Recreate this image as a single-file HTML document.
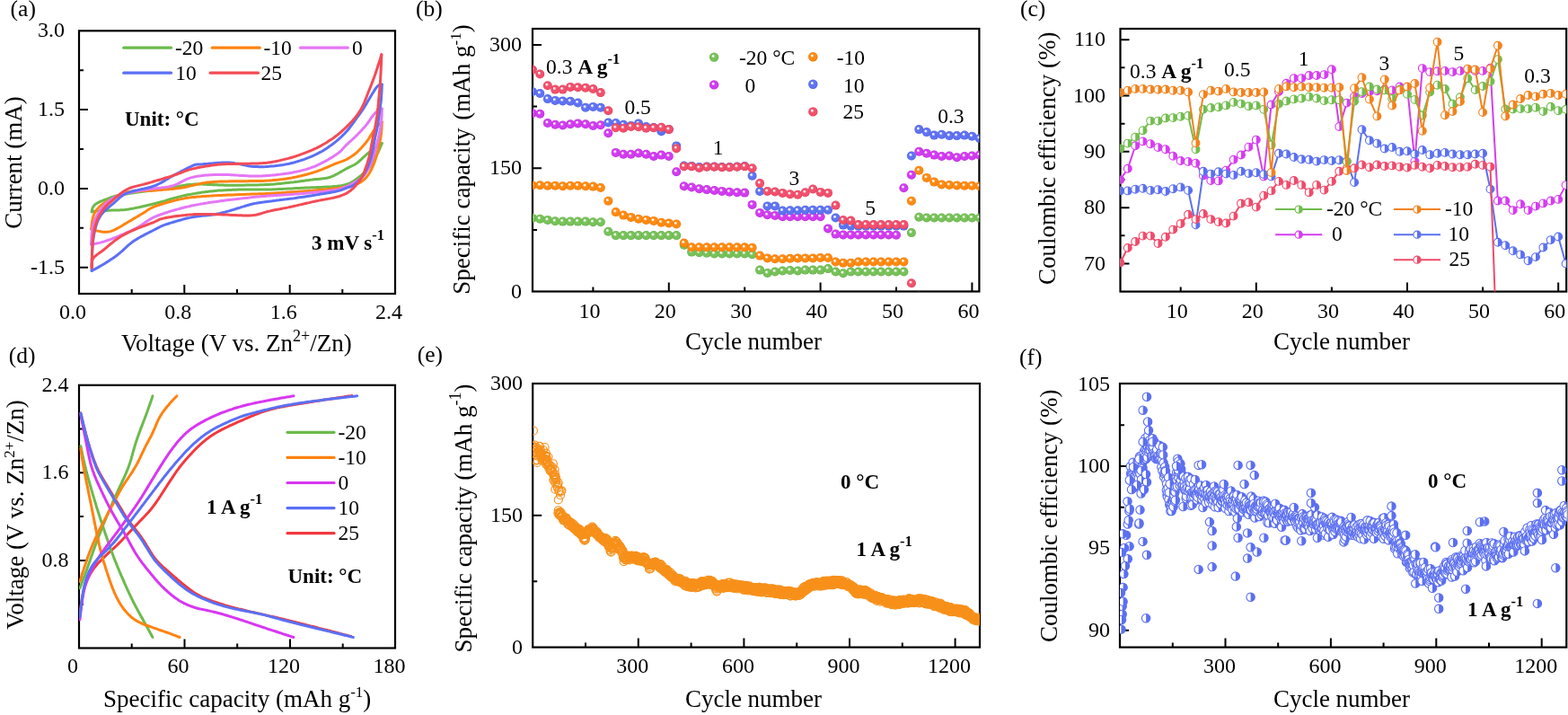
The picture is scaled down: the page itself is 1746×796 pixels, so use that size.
<!DOCTYPE html><html><head><meta charset="utf-8"><title>Figure</title>
<style>html,body{margin:0;padding:0;background:#fff;overflow:hidden}svg{display:block}</style></head><body>
<svg width="1746" height="796" viewBox="0 0 1746 796" style="font-family:'Liberation Serif','Times New Roman',serif">
<rect width="1746" height="796" fill="#fff"/>
<defs>
<radialGradient id="gG" cx="0.5" cy="0.5" r="0.5" fx="0.37" fy="0.34"><stop offset="0" stop-color="#fff"/><stop offset="0.13" stop-color="#fff" stop-opacity="0.97"/><stop offset="0.4" stop-color="#78c25a"/><stop offset="0.82" stop-color="#78c25a"/><stop offset="1" stop-color="#5fa843"/></radialGradient>
<radialGradient id="gO" cx="0.5" cy="0.5" r="0.5" fx="0.37" fy="0.34"><stop offset="0" stop-color="#fff"/><stop offset="0.13" stop-color="#fff" stop-opacity="0.97"/><stop offset="0.4" stop-color="#ff8a12"/><stop offset="0.82" stop-color="#ff8a12"/><stop offset="1" stop-color="#e87400"/></radialGradient>
<radialGradient id="gM" cx="0.5" cy="0.5" r="0.5" fx="0.37" fy="0.34"><stop offset="0" stop-color="#fff"/><stop offset="0.13" stop-color="#fff" stop-opacity="0.97"/><stop offset="0.4" stop-color="#d23cf0"/><stop offset="0.82" stop-color="#d23cf0"/><stop offset="1" stop-color="#b52ad4"/></radialGradient>
<radialGradient id="gB" cx="0.5" cy="0.5" r="0.5" fx="0.37" fy="0.34"><stop offset="0" stop-color="#fff"/><stop offset="0.13" stop-color="#fff" stop-opacity="0.97"/><stop offset="0.4" stop-color="#5f73f2"/><stop offset="0.82" stop-color="#5f73f2"/><stop offset="1" stop-color="#4a5ee0"/></radialGradient>
<radialGradient id="gR" cx="0.5" cy="0.5" r="0.5" fx="0.37" fy="0.34"><stop offset="0" stop-color="#fff"/><stop offset="0.13" stop-color="#fff" stop-opacity="0.97"/><stop offset="0.4" stop-color="#f2506c"/><stop offset="0.82" stop-color="#f2506c"/><stop offset="1" stop-color="#dc3c58"/></radialGradient>
<clipPath id="cb"><rect x="593" y="32" width="497.4" height="292.5"/></clipPath>
<clipPath id="cc"><rect x="1247.5" y="32" width="496.7" height="292.6"/></clipPath>
<clipPath id="ce"><rect x="593.2" y="427" width="497.8" height="293.6"/></clipPath>
<clipPath id="cf"><rect x="1247" y="427" width="497.3" height="293.6"/></clipPath>
<clipPath id="ca"><rect x="88" y="34.3" width="352" height="292.7"/></clipPath>
<clipPath id="cd"><rect x="88" y="428.8" width="352" height="292.7"/></clipPath>
</defs>
<text x="11.6" y="18" font-size="25.5" text-anchor="start">(a)</text>
<text x="463" y="17.5" font-size="25.5" text-anchor="start">(b)</text>
<text x="1136" y="17.5" font-size="25.5" text-anchor="start">(c)</text>
<text x="9.8" y="404" font-size="25.5" text-anchor="start">(d)</text>
<text x="464.8" y="403" font-size="25.5" text-anchor="start">(e)</text>
<text x="1135" y="405.5" font-size="25.5" text-anchor="start">(f)</text>
<rect x="88" y="34.3" width="352" height="292.7" fill="none" stroke="#000" stroke-width="2.2"/>
<path d="M205.3 327V317M322.7 327V317" stroke="#000" stroke-width="2" fill="none"/>
<path d="M146.7 327V322M264 327V322M381.3 327V322" stroke="#000" stroke-width="2" fill="none"/>
<path d="M88 122.1H98M88 209.9H98M88 297.7H98" stroke="#000" stroke-width="2" fill="none"/>
<path d="M88 78.2H93M88 166H93M88 253.8H93" stroke="#000" stroke-width="2" fill="none"/>
<text x="81" y="354.5" font-size="24" text-anchor="middle">0.0</text>
<text x="198.3" y="354.5" font-size="24" text-anchor="middle">0.8</text>
<text x="315.7" y="354.5" font-size="24" text-anchor="middle">1.6</text>
<text x="433" y="354.5" font-size="24" text-anchor="middle">2.4</text>
<text x="72" y="41.3" font-size="24" text-anchor="end">3.0</text>
<text x="72" y="129.1" font-size="24" text-anchor="end">1.5</text>
<text x="72" y="216.9" font-size="24" text-anchor="end">0.0</text>
<text x="72" y="304.7" font-size="24" text-anchor="end">-1.5</text>
<text x="135" y="391.3" font-size="27" text-anchor="start">Voltage (V vs. Zn<tspan font-size="18" dy="-11">2+</tspan><tspan dy="11">/Zn)</tspan></text>
<text transform="translate(24 181) rotate(-90)" font-size="27" text-anchor="middle">Current (mA)</text>
<rect x="593" y="32" width="497.4" height="292.5" fill="none" stroke="#000" stroke-width="2.2"/>
<path d="M744.8 324.5V314.5M913.6 324.5V314.5M1082.4 324.5V314.5" stroke="#000" stroke-width="2" fill="none"/>
<path d="M660.4 324.5V319.5M829.2 324.5V319.5M998 324.5V319.5" stroke="#000" stroke-width="2" fill="none"/>
<path d="M593 187.2H603M593 50H603" stroke="#000" stroke-width="2" fill="none"/>
<path d="M593 255.9H598M593 118.6H598" stroke="#000" stroke-width="2" fill="none"/>
<text x="656.4" y="353.5" font-size="24" text-anchor="middle">10</text>
<text x="740.8" y="353.5" font-size="24" text-anchor="middle">20</text>
<text x="825.2" y="353.5" font-size="24" text-anchor="middle">30</text>
<text x="909.6" y="353.5" font-size="24" text-anchor="middle">40</text>
<text x="994" y="353.5" font-size="24" text-anchor="middle">50</text>
<text x="1078.4" y="353.5" font-size="24" text-anchor="middle">60</text>
<text x="581" y="331.5" font-size="24" text-anchor="end">0</text>
<text x="581" y="194.2" font-size="24" text-anchor="end">150</text>
<text x="581" y="57" font-size="24" text-anchor="end">300</text>
<text x="839" y="389" font-size="27" text-anchor="middle">Cycle number</text>
<text transform="translate(522.5 177.5) rotate(-90)" font-size="27" text-anchor="middle">Specific capacity <tspan dx="2">(</tspan>mAh g<tspan font-size="17" dy="-10">-1</tspan><tspan dy="10">)</tspan></text>
<rect x="1247.5" y="32" width="496.7" height="292.6" fill="none" stroke="#000" stroke-width="2.2"/>
<path d="M1398.8 324.6V314.6M1567 324.6V314.6M1735.2 324.6V314.6" stroke="#000" stroke-width="2" fill="none"/>
<path d="M1314.7 324.6V319.6M1482.9 324.6V319.6M1651.1 324.6V319.6" stroke="#000" stroke-width="2" fill="none"/>
<path d="M1247.5 44.2H1257.5M1247.5 106.5H1257.5M1247.5 168.8H1257.5M1247.5 231.2H1257.5M1247.5 293.5H1257.5" stroke="#000" stroke-width="2" fill="none"/>
<path d="M1247.5 75.3H1252.5M1247.5 137.7H1252.5M1247.5 200H1252.5M1247.5 262.3H1252.5" stroke="#000" stroke-width="2" fill="none"/>
<text x="1310.7" y="353.5" font-size="24" text-anchor="middle">10</text>
<text x="1394.8" y="353.5" font-size="24" text-anchor="middle">20</text>
<text x="1478.9" y="353.5" font-size="24" text-anchor="middle">30</text>
<text x="1563" y="353.5" font-size="24" text-anchor="middle">40</text>
<text x="1647.1" y="353.5" font-size="24" text-anchor="middle">50</text>
<text x="1731.2" y="353.5" font-size="24" text-anchor="middle">60</text>
<text x="1231" y="300.5" font-size="24" text-anchor="end">70</text>
<text x="1231" y="238.2" font-size="24" text-anchor="end">80</text>
<text x="1231" y="175.8" font-size="24" text-anchor="end">90</text>
<text x="1231" y="113.5" font-size="24" text-anchor="end">100</text>
<text x="1231" y="51.2" font-size="24" text-anchor="end">110</text>
<text x="1494" y="389" font-size="27" text-anchor="middle">Cycle number</text>
<text transform="translate(1175 176.3) rotate(-90)" font-size="27" text-anchor="middle">Coulombic efficiency (%)</text>
<rect x="88" y="428.8" width="352" height="292.7" fill="none" stroke="#000" stroke-width="2.2"/>
<path d="M205.5 721.5V711.5M323 721.5V711.5" stroke="#000" stroke-width="2" fill="none"/>
<path d="M146.7 721.5V716.5M264.2 721.5V716.5M381.7 721.5V716.5" stroke="#000" stroke-width="2" fill="none"/>
<path d="M88 526.3H98M88 623.9H98" stroke="#000" stroke-width="2" fill="none"/>
<path d="M88 477.5H93M88 575.1H93M88 672.7H93" stroke="#000" stroke-width="2" fill="none"/>
<text x="81" y="749" font-size="24" text-anchor="middle">0</text>
<text x="198.5" y="749" font-size="24" text-anchor="middle">60</text>
<text x="316" y="749" font-size="24" text-anchor="middle">120</text>
<text x="433.4" y="749" font-size="24" text-anchor="middle">180</text>
<text x="76.5" y="435.7" font-size="24" text-anchor="end">2.4</text>
<text x="76.5" y="533.3" font-size="24" text-anchor="end">1.6</text>
<text x="76.5" y="630.9" font-size="24" text-anchor="end">0.8</text>
<text x="115" y="787" font-size="27" text-anchor="start">Specific capacity (mAh g<tspan font-size="17" dy="-11">-1</tspan><tspan dy="11">)</tspan></text>
<text transform="translate(26 573) rotate(-90)" font-size="27" text-anchor="middle">Voltage (V vs. Zn<tspan font-size="17" dy="-10">2+</tspan><tspan dy="10">/Zn)</tspan></text>
<rect x="593.2" y="427" width="497.8" height="293.6" fill="none" stroke="#000" stroke-width="2.2"/>
<path d="M710.8 720.6V710.6M828.4 720.6V710.6M946 720.6V710.6M1063.6 720.6V710.6" stroke="#000" stroke-width="2" fill="none"/>
<path d="M652 720.6V715.6M769.6 720.6V715.6M887.2 720.6V715.6M1004.8 720.6V715.6" stroke="#000" stroke-width="2" fill="none"/>
<path d="M593.2 573.8H603.2" stroke="#000" stroke-width="2" fill="none"/>
<path d="M593.2 647.2H598.2M593.2 500.4H598.2" stroke="#000" stroke-width="2" fill="none"/>
<text x="704.3" y="749" font-size="24" text-anchor="middle">300</text>
<text x="821.9" y="749" font-size="24" text-anchor="middle">600</text>
<text x="939.5" y="749" font-size="24" text-anchor="middle">900</text>
<text x="1057.1" y="749" font-size="24" text-anchor="middle">1200</text>
<text x="582" y="727.6" font-size="24" text-anchor="end">0</text>
<text x="582" y="580.8" font-size="24" text-anchor="end">150</text>
<text x="582" y="434" font-size="24" text-anchor="end">300</text>
<text x="839" y="787" font-size="27" text-anchor="middle">Cycle number</text>
<text transform="translate(525.3 577) rotate(-90)" font-size="27" text-anchor="middle">Specific capacity (mAh g<tspan font-size="18" dy="-12">-1</tspan><tspan dy="12">)</tspan></text>
<rect x="1247" y="427" width="497.3" height="293.6" fill="none" stroke="#000" stroke-width="2.2"/>
<path d="M1364.5 720.6V710.6M1481.9 720.6V710.6M1599.3 720.6V710.6M1716.7 720.6V710.6" stroke="#000" stroke-width="2" fill="none"/>
<path d="M1305.8 720.6V715.6M1423.2 720.6V715.6M1540.6 720.6V715.6M1658 720.6V715.6" stroke="#000" stroke-width="2" fill="none"/>
<path d="M1247 519H1257M1247 610.4H1257M1247 701.8H1257" stroke="#000" stroke-width="2" fill="none"/>
<path d="M1247 473.3H1252M1247 564.7H1252M1247 656.1H1252" stroke="#000" stroke-width="2" fill="none"/>
<text x="1358" y="749" font-size="24" text-anchor="middle">300</text>
<text x="1475.4" y="749" font-size="24" text-anchor="middle">600</text>
<text x="1592.8" y="749" font-size="24" text-anchor="middle">900</text>
<text x="1710.2" y="749" font-size="24" text-anchor="middle">1200</text>
<text x="1236" y="708.8" font-size="24" text-anchor="end">90</text>
<text x="1236" y="617.4" font-size="24" text-anchor="end">95</text>
<text x="1236" y="526" font-size="24" text-anchor="end">100</text>
<text x="1236" y="434.6" font-size="24" text-anchor="end">105</text>
<text x="1494" y="787" font-size="27" text-anchor="middle">Cycle number</text>
<text transform="translate(1176.5 574.3) rotate(-90)" font-size="27" text-anchor="middle">Coulombic efficiency (%)</text>
<g clip-path="url(#ca)">
<path d="M102.2 235.8 L102.4 233.8 L103.1 231.6 L104.1 229.8 L105.4 228.2 L107 226.9 L108.8 225.8 L110.6 224.9 L112.5 224 L114.4 223.3 L116.4 222.5 L118.3 221.8 L120.2 221.1 L121.9 220.4 L123.6 219.7 L125.5 219.1 L127.4 218.5 L129.4 218 L131.2 217.6 L133 217.3 L134.8 217 L136.7 216.6 L138.7 216.3 L140.8 215.9 L143 215.6 L145.3 215.2 L147.5 214.9 L149.7 214.5 L151.7 214.3 L153.6 214 L155.4 213.7 L157.3 213.5 L159.2 213.2 L161.2 213 L163.2 212.7 L165.3 212.5 L167.3 212.2 L169.4 211.9 L171.5 211.7 L173.6 211.4 L175.8 211.1 L177.9 210.8 L179.9 210.5 L181.9 210.2 L184 209.9 L186 209.5 L188 209.2 L190.1 208.8 L192.2 208.5 L194.3 208.1 L196.4 207.7 L198.5 207.4 L200.6 207 L202.6 206.7 L204.7 206.4 L206.7 206.1 L208.6 205.8 L210.6 205.6 L212.6 205.4 L214.6 205.2 L216.8 205.1 L219 205.1 L221.2 205.1 L223.3 205.1 L225.4 205.1 L227.5 205.2 L229.5 205.3 L231.5 205.4 L233.5 205.5 L235.4 205.6 L237.3 205.7 L239.2 205.8 L241.1 205.8 L243.1 205.9 L244.9 206 L246.7 206 L248.4 206.1 L250.1 206.2 L251.9 206.2 L253.9 206.3 L256.1 206.3 L258.4 206.3 L260.5 206.3 L262.4 206.3 L264.2 206.3 L266.1 206.2 L268 206.2 L270 206.2 L272.1 206.2 L274.2 206.1 L276.4 206.1 L278.6 206.1 L280.8 206 L283 206 L285.2 205.9 L287.4 205.9 L289.5 205.8 L291.6 205.7 L293.6 205.7 L295.5 205.6 L297.4 205.5 L299.3 205.4 L301.4 205.3 L303.6 205.2 L305.9 205 L308 204.8 L310.1 204.6 L312 204.4 L313.9 204.2 L315.8 204 L317.6 203.8 L319.4 203.6 L321.3 203.4 L323.2 203.1 L325.1 202.9 L327.2 202.7 L329.2 202.4 L331.3 202.2 L333.4 201.9 L335.5 201.6 L337.6 201.4 L339.7 201.1 L341.8 200.8 L343.8 200.6 L345.7 200.3 L347.6 200.1 L349.6 199.8 L351.6 199.6 L353.8 199.4 L355.9 199.2 L357.9 199 L359.9 198.8 L361.8 198.6 L363.8 198.2 L365.8 197.8 L367.8 197.2 L369.7 196.4 L371.6 195.6 L373.5 194.6 L375.5 193.6 L377.5 192.5 L379.4 191.4 L381.4 190.3 L383.2 189.2 L384.9 188.2 L386.6 187.3 L388.5 186.3 L390.5 185.4 L392.4 184.5 L394.2 183.6 L395.8 182.7 L397.5 181.6 L399 180.3 L400.5 179 L402.1 177.6 L403.6 176.1 L405.2 174.7 L406.7 173.2 L408.3 171.9 L410 170.5 L411.7 169.1 L413.5 167.8 L415.2 166.5 L416.9 165.3 L418.6 164.1 L420.5 162.8 L422.3 161.5 L424 160.4 L425.3 159.5" fill="none" stroke="#6cba4c" stroke-width="3" stroke-linejoin="round" stroke-linecap="round"/>
<path d="M425.3 159.5 L424.7 160.9 L424 162.7 L423.1 164.8 L422.2 166.9 L421.3 169 L420.3 170.9 L419.4 172.8 L418.4 174.7 L417.4 176.5 L416.3 178.3 L415.3 180.1 L414.2 181.8 L413.1 183.6 L412 185.2 L410.8 186.8 L409.5 188.4 L408.2 189.8 L406.8 191.2 L405.3 192.5 L403.7 193.8 L402.2 195.1 L400.6 196.4 L399 197.6 L397.4 198.9 L395.9 200.1 L394.2 201.3 L392.4 202.4 L390.7 203.3 L389 204.1 L387.4 204.8 L385.8 205.3 L384.1 205.8 L382 206.3 L379.7 206.7 L377.3 207 L375 207.3 L373.1 207.5 L371.4 207.6 L369.6 207.8 L367.7 207.9 L365.8 208 L363.8 208.1 L361.7 208.2 L359.6 208.3 L357.4 208.4 L355.2 208.5 L353 208.6 L350.7 208.7 L348.5 208.7 L346.3 208.8 L344.1 208.9 L341.9 209 L339.8 209.1 L337.7 209.2 L335.6 209.3 L333.5 209.4 L331.4 209.5 L329.2 209.6 L327 209.7 L324.8 209.9 L322.7 210 L320.5 210.1 L318.3 210.2 L316.2 210.3 L314 210.4 L312 210.5 L309.9 210.6 L308 210.7 L306.1 210.8 L304.3 210.8 L302.5 210.9 L300.6 211 L298.4 211 L296.2 211.1 L293.9 211.1 L291.8 211.1 L289.9 211 L288.1 211 L286.3 211 L284.6 210.9 L282.8 210.9 L280.9 210.9 L279 210.9 L277.1 210.9 L275.2 210.9 L273.2 211 L271.3 211 L269.4 211 L267.4 211.1 L265.4 211.1 L263.3 211.2 L261.2 211.3 L259.2 211.3 L257.3 211.4 L255.4 211.5 L253.5 211.6 L251.6 211.7 L249.7 211.8 L247.7 211.9 L245.6 212 L243.6 212.1 L241.5 212.3 L239.4 212.5 L237.3 212.7 L235.2 212.9 L233.1 213.1 L231.2 213.4 L229.3 213.6 L227.3 213.9 L225.4 214.1 L223.4 214.4 L221.4 214.7 L219.4 215 L217.3 215.4 L215.3 215.7 L213.3 216.1 L211.2 216.5 L209.2 216.8 L207.1 217.3 L205.1 217.7 L203.1 218.1 L201.2 218.6 L199.2 219.1 L197.3 219.6 L195.3 220.1 L193.3 220.6 L191.4 221.2 L189.4 221.8 L187.4 222.4 L185.5 223 L183.5 223.6 L181.6 224.1 L179.7 224.7 L177.7 225.3 L175.8 225.8 L173.9 226.3 L171.9 226.8 L169.9 227.3 L167.8 227.8 L165.6 228.3 L163.5 228.8 L161.3 229.3 L159.2 229.8 L157.1 230.3 L155 230.7 L152.9 231.1 L150.9 231.5 L149 231.9 L147.1 232.2 L145.3 232.6 L143.4 232.9 L141.3 233.2 L139 233.5 L136.7 233.7 L134.6 233.8 L132.7 233.9 L130.8 234 L128.8 234 L126.8 234.1 L124.7 234.1 L122.5 234.2 L120.3 234.3 L118 234.4 L115.8 234.4 L113.6 234.5 L111.6 234.6 L109.5 234.7 L107.2 235 L104.9 235.3 L102.9 235.7 L102.2 235.8" fill="none" stroke="#6cba4c" stroke-width="3" stroke-linejoin="round" stroke-linecap="round"/>
<path d="M101.6 255 L101.8 253.5 L102 251.4 L102.3 249.2 L102.6 246.9 L103 244.7 L103.4 242.5 L104 240.4 L104.7 238.5 L105.6 236.6 L106.7 234.9 L107.9 233.2 L109.3 231.7 L110.7 230.2 L112.3 228.8 L113.8 227.5 L115.4 226.4 L117 225.4 L118.6 224.6 L120.4 223.7 L122.3 222.9 L124.1 222 L125.8 221.1 L127.3 220.2 L128.9 219.2 L130.7 218.2 L132.5 217.3 L134.5 216.3 L136.6 215.5 L138.7 214.7 L140.8 214.2 L142.8 213.8 L144.6 213.5 L146.4 213.3 L148.3 213.1 L150.2 212.9 L152.3 212.8 L154.3 212.7 L156.4 212.7 L158.5 212.6 L160.7 212.5 L162.8 212.5 L164.9 212.4 L167 212.3 L169.1 212.2 L171.2 212.1 L173.2 211.9 L175.2 211.8 L177.2 211.6 L179.2 211.4 L181.2 211.3 L183.2 211.1 L185.2 210.9 L187.2 210.8 L189.2 210.6 L191.1 210.4 L193.1 210.2 L195.1 209.9 L197.1 209.7 L199.1 209.4 L201.1 209.2 L203.1 208.9 L205 208.6 L207 208.2 L208.8 207.8 L210.7 207.4 L212.5 206.9 L214.4 206.5 L216.2 206 L218.1 205.6 L220 205.1 L222 204.7 L224 204.2 L226.1 203.8 L228.2 203.5 L230.4 203.1 L232.6 202.9 L234.7 202.7 L236.6 202.5 L238.5 202.4 L240.5 202.3 L242.5 202.2 L244.6 202.1 L246.7 202 L248.8 202 L251 201.9 L253.2 201.9 L255.5 201.8 L257.7 201.8 L259.9 201.8 L262.1 201.8 L264.2 201.8 L266.4 201.7 L268.4 201.7 L270.4 201.7 L272.4 201.7 L274.2 201.7 L276 201.7 L277.7 201.6 L279.6 201.6 L281.8 201.6 L284.2 201.5 L286.5 201.5 L288.6 201.5 L290.4 201.4 L292.1 201.4 L293.7 201.4 L295.3 201.3 L297.1 201.2 L299 201.1 L300.9 200.9 L302.8 200.8 L304.7 200.6 L306.7 200.4 L308.7 200.2 L310.7 200 L312.7 199.7 L314.8 199.5 L316.9 199.2 L319 198.9 L321 198.6 L323.1 198.2 L325.1 197.9 L327.1 197.5 L329.1 197.1 L331.1 196.7 L333.2 196.2 L335.2 195.8 L337.2 195.3 L339.2 194.8 L341.2 194.3 L343.2 193.7 L345.3 193.1 L347.3 192.5 L349.3 191.9 L351.2 191.3 L353.2 190.6 L355.2 189.8 L357.2 189.1 L359.2 188.3 L361.3 187.4 L363.3 186.6 L365.3 185.8 L367.2 184.9 L369 184.2 L370.8 183.4 L372.5 182.7 L374.1 182 L376 181.3 L378 180.6 L380 179.9 L381.7 179.3 L383.3 178.7 L384.9 178 L386.6 177.1 L388.3 176.2 L390 175.1 L391.7 174 L393.4 172.8 L395.1 171.5 L396.8 170.1 L398.3 168.8 L399.8 167.3 L401.3 165.8 L402.7 164.3 L404.2 162.6 L405.6 161 L407 159.4 L408.3 157.7 L409.5 156 L410.7 154.3 L411.9 152.4 L413 150.6 L414.1 148.8 L415.1 147.1 L416.2 145.4 L417.5 143.7 L418.9 142 L420.5 140.4 L422.1 138.8 L423.6 137.4 L424.8 136.2 L425.3 135.8" fill="none" stroke="#ff8410" stroke-width="3" stroke-linejoin="round" stroke-linecap="round"/>
<path d="M425.3 135.8 L425.2 137.1 L425.2 138.8 L425.1 140.8 L425 142.9 L424.8 145.1 L424.6 147.4 L424.4 149.6 L424.1 151.6 L423.8 153.6 L423.4 155.6 L423 157.6 L422.6 159.7 L422.2 161.7 L421.7 163.8 L421.3 165.8 L420.8 167.8 L420.3 169.8 L419.7 171.8 L419.2 173.8 L418.6 175.7 L418 177.6 L417.4 179.5 L416.7 181.4 L415.9 183.3 L415.1 185.3 L414.1 187.3 L413.2 189.3 L412.1 191.2 L411.1 193.1 L409.9 194.8 L408.6 196.5 L407.2 198.2 L405.5 199.8 L403.8 201.2 L402.1 202.4 L400.4 203.5 L398.7 204.4 L396.8 205.1 L394.8 205.6 L393 206.1 L391.3 206.5 L389.7 206.9 L388 207.3 L386.2 207.7 L384.1 208.1 L381.9 208.5 L379.5 208.9 L377.1 209.3 L374.9 209.5 L373 209.8 L371.2 210 L369.4 210.2 L367.5 210.4 L365.5 210.6 L363.5 210.8 L361.4 210.9 L359.3 211.1 L357.2 211.3 L355 211.5 L352.8 211.7 L350.6 211.9 L348.4 212.1 L346.2 212.2 L344 212.4 L341.9 212.6 L339.8 212.7 L337.7 212.9 L335.6 213.1 L333.5 213.2 L331.4 213.4 L329.2 213.5 L327 213.7 L324.8 213.8 L322.7 214 L320.5 214.1 L318.3 214.3 L316.2 214.4 L314 214.6 L312 214.7 L309.9 214.8 L308 214.9 L306.1 215 L304.3 215.2 L302.5 215.3 L300.6 215.4 L298.6 215.5 L296.5 215.6 L294.6 215.7 L292.8 215.7 L291.3 215.8 L289.7 215.8 L288.1 215.8 L286.2 215.9 L284 216 L281.7 216 L279.6 216.1 L277.7 216.2 L276 216.3 L274.2 216.3 L272.4 216.4 L270.4 216.5 L268.4 216.5 L266.4 216.6 L264.2 216.7 L262.1 216.8 L259.9 216.9 L257.7 217 L255.5 217 L253.2 217.1 L251 217.2 L248.8 217.3 L246.7 217.4 L244.6 217.5 L242.5 217.6 L240.5 217.7 L238.5 217.8 L236.6 217.9 L234.7 218.1 L232.6 218.2 L230.4 218.3 L228.2 218.5 L226.1 218.6 L224 218.8 L222 218.9 L220 219 L218.1 219.2 L216.2 219.4 L214.4 219.5 L212.5 219.8 L210.7 220 L208.8 220.2 L207 220.5 L205 220.9 L203.1 221.2 L201.1 221.6 L199.1 222.1 L197 222.5 L194.9 223.1 L192.8 223.6 L190.6 224.2 L188.5 224.8 L186.4 225.4 L184.3 226 L182.3 226.6 L180.4 227.2 L178.5 227.8 L176.7 228.4 L175 228.9 L173.3 229.5 L171.5 230.2 L169.5 231.1 L167.6 232 L165.9 233 L164.4 233.9 L163 234.9 L161.5 235.9 L159.9 236.9 L158.2 238 L156.4 239 L154.6 240.1 L152.8 241.2 L150.9 242.3 L149 243.4 L147.2 244.5 L145.4 245.6 L143.6 246.6 L141.7 247.7 L139.8 248.9 L137.9 250 L136.1 251.2 L134.3 252.2 L132.5 253.2 L130.8 254.2 L129 255.1 L127.1 256.1 L125.1 256.9 L123.2 257.6 L121.2 258.1 L119.2 258.3 L117.1 258.3 L115 258.2 L112.9 257.9 L110.8 257.6 L108.7 257.1 L106.5 256.6 L104.3 255.9 L102.3 255.2 L101.6 255" fill="none" stroke="#ff8410" stroke-width="3" stroke-linejoin="round" stroke-linecap="round"/>
<path d="M101.6 272 L101.6 270.5 L101.7 268.5 L101.8 266.4 L101.9 264.1 L102 261.8 L102.2 259.5 L102.5 257.4 L102.8 255.3 L103.2 253.2 L103.6 251.2 L104.2 249.2 L104.8 247.2 L105.5 245.3 L106.3 243.4 L107.2 241.6 L108.1 239.8 L109.1 238 L110.2 236.2 L111.4 234.4 L112.7 232.6 L114 231 L115.4 229.3 L116.8 227.7 L118.4 226.2 L120 224.8 L121.5 223.5 L123.1 222.4 L124.7 221.3 L126.6 220.2 L128.6 219.2 L130.6 218.3 L132.5 217.6 L134.3 217 L136.1 216.5 L138.1 216 L140.1 215.5 L142.2 215 L144.3 214.5 L146.4 214.1 L148.4 213.6 L150.5 213.2 L152.5 212.8 L154.6 212.4 L156.7 212.1 L158.7 211.8 L160.8 211.5 L162.9 211.2 L165 210.9 L167 210.6 L169.1 210.3 L171.2 210.1 L173.2 209.8 L175.3 209.5 L177.4 209.3 L179.4 209.1 L181.5 208.8 L183.5 208.6 L185.6 208.3 L187.7 208 L189.7 207.5 L191.7 207 L193.6 206.4 L195.5 205.7 L197.3 204.9 L199 204 L200.7 203.1 L202.5 202.2 L204.3 201.2 L206.1 200.3 L208.1 199.4 L210.1 198.6 L212.2 197.9 L214.1 197.4 L216 197 L217.8 196.6 L219.6 196.3 L221.5 196 L223.4 195.8 L225.4 195.5 L227.4 195.3 L229.5 195.1 L231.5 195 L233.6 194.8 L235.7 194.7 L237.9 194.6 L240 194.5 L242.1 194.5 L244.2 194.4 L246.3 194.4 L248.3 194.4 L250.4 194.4 L252.5 194.5 L254.6 194.6 L256.8 194.7 L259 194.8 L261.2 194.9 L263.4 195.1 L265.5 195.2 L267.7 195.4 L269.7 195.5 L271.8 195.6 L273.7 195.7 L275.6 195.8 L277.5 195.9 L279.4 196 L281.5 196 L283.7 196 L285.8 196 L287.9 196 L289.7 196 L291.5 195.9 L293.3 195.8 L295.1 195.7 L297 195.5 L298.9 195.4 L300.9 195.2 L302.8 195.1 L304.7 194.9 L306.7 194.7 L308.7 194.5 L310.7 194.3 L312.7 194.1 L314.8 193.8 L316.9 193.5 L319 193.2 L321 192.9 L323.1 192.6 L325.1 192.2 L327 191.8 L329 191.4 L330.9 191 L332.9 190.6 L334.8 190.1 L336.7 189.6 L338.7 189.1 L340.6 188.6 L342.5 188 L344.5 187.4 L346.4 186.7 L348.4 186 L350.3 185.3 L352.2 184.5 L354.1 183.6 L356 182.7 L357.9 181.7 L359.9 180.7 L361.9 179.6 L363.8 178.6 L365.7 177.5 L367.5 176.4 L369.3 175.4 L371 174.3 L372.6 173.3 L374.1 172.3 L375.8 171.1 L377.5 169.8 L379.2 168.4 L380.6 166.9 L381.8 165.6 L383 164.2 L384.3 162.8 L385.7 161.4 L387.1 160.1 L388.6 158.7 L390.1 157.4 L391.6 156 L393.1 154.6 L394.6 153.2 L396.1 151.7 L397.6 150.3 L399.1 148.8 L400.5 147.2 L402 145.7 L403.5 144.1 L404.9 142.5 L406.3 141 L407.6 139.4 L408.9 137.8 L410.2 136 L411.5 134.2 L412.7 132.4 L413.8 130.6 L415 129 L416.2 127.4 L417.6 125.9 L419.3 124.5 L421.2 123.3 L423.1 122.2 L424.7 121.4 L425.3 121.1" fill="none" stroke="#e676f6" stroke-width="3" stroke-linejoin="round" stroke-linecap="round"/>
<path d="M425.3 121.1 L425.2 122.5 L425.2 124.3 L425.1 126.3 L425.1 128.5 L424.9 130.8 L424.8 133.2 L424.6 135.5 L424.4 137.7 L424.1 139.8 L423.8 141.8 L423.4 143.8 L423 145.8 L422.6 147.8 L422.2 149.8 L421.7 151.8 L421.3 153.8 L420.8 155.8 L420.3 157.8 L419.8 159.9 L419.3 161.9 L418.8 163.9 L418.3 166 L417.7 168 L417.2 169.9 L416.6 171.9 L415.9 173.8 L415.3 175.8 L414.5 177.9 L413.8 179.9 L413 181.8 L412.2 183.7 L411.4 185.5 L410.5 187.2 L409.5 189 L408.5 190.7 L407.4 192.4 L406.3 193.9 L405 195.4 L403.6 196.8 L402.1 198.2 L400.6 199.4 L398.9 200.6 L397.1 201.7 L395.3 202.8 L393.4 203.9 L391.6 204.9 L389.8 205.8 L388.2 206.6 L386.7 207.3 L385.2 208 L383.5 208.7 L381.6 209.4 L379.4 210 L377.1 210.6 L375 211 L373.1 211.4 L371.4 211.7 L369.6 211.9 L367.7 212.2 L365.8 212.4 L363.8 212.7 L361.7 213 L359.6 213.2 L357.4 213.4 L355.2 213.7 L353 213.9 L350.7 214.1 L348.5 214.4 L346.3 214.6 L344.1 214.8 L341.9 215 L339.8 215.2 L337.7 215.4 L335.6 215.6 L333.5 215.8 L331.4 215.9 L329.2 216.1 L327 216.3 L324.8 216.4 L322.7 216.6 L320.5 216.7 L318.3 216.8 L316.2 217 L314 217.1 L312 217.2 L309.9 217.3 L308 217.5 L306.1 217.6 L304.3 217.7 L302.5 217.8 L300.6 218 L298.6 218.1 L296.5 218.2 L294.6 218.4 L292.8 218.5 L291.3 218.6 L289.7 218.7 L288.1 218.9 L286.2 219 L284 219.3 L281.7 219.5 L279.6 219.7 L277.7 220 L276 220.2 L274.2 220.4 L272.4 220.6 L270.4 220.8 L268.4 221 L266.4 221.3 L264.2 221.5 L262.1 221.8 L259.9 222 L257.7 222.3 L255.5 222.5 L253.2 222.8 L251 223.1 L248.8 223.4 L246.7 223.6 L244.6 223.9 L242.5 224.2 L240.5 224.5 L238.5 224.7 L236.6 225 L234.7 225.3 L232.6 225.6 L230.4 226 L228.2 226.3 L226.1 226.7 L224 227 L222 227.4 L220 227.7 L218.1 228.1 L216.2 228.5 L214.4 228.8 L212.5 229.2 L210.7 229.7 L208.8 230.1 L207 230.5 L205 231 L203.1 231.5 L201.1 232 L199.1 232.6 L197.1 233.1 L195 233.7 L193 234.3 L190.9 234.9 L188.8 235.5 L186.8 236.2 L184.7 236.8 L182.7 237.5 L180.8 238.2 L178.9 238.8 L177.1 239.5 L175.3 240.2 L173.6 240.9 L171.7 241.7 L169.8 242.6 L167.9 243.6 L166 244.7 L164.2 245.9 L162.6 247 L161 248.1 L159.5 249.2 L158 250.3 L156.4 251.3 L154.8 252.3 L153.1 253.3 L151.2 254.3 L149.3 255.2 L147.5 256.1 L145.6 257 L143.7 257.9 L141.9 258.7 L140 259.5 L138.1 260.3 L136.2 261.1 L134.3 261.9 L132.3 262.8 L130.3 263.6 L128.4 264.4 L126.4 265.1 L124.6 265.9 L122.7 266.6 L120.8 267.2 L118.8 267.9 L116.7 268.6 L114.6 269.3 L112.6 269.9 L110.7 270.4 L108.6 270.8 L106.5 271.3 L104.3 271.6 L102.3 271.9 L101.6 272" fill="none" stroke="#e676f6" stroke-width="3" stroke-linejoin="round" stroke-linecap="round"/>
<path d="M102.2 301.4 L102.2 300.1 L102.2 298.4 L102.2 296.5 L102.3 294.3 L102.3 292.1 L102.3 289.7 L102.4 287.4 L102.5 285.2 L102.6 283.1 L102.7 281.1 L102.8 279.1 L102.9 277.1 L103 275 L103.2 273 L103.3 270.9 L103.5 268.9 L103.8 266.9 L104.1 264.9 L104.4 262.8 L104.8 260.6 L105.2 258.5 L105.7 256.4 L106.2 254.4 L106.7 252.4 L107.2 250.6 L107.8 248.7 L108.6 246.7 L109.5 244.6 L110.5 242.7 L111.5 240.9 L112.6 239.2 L113.8 237.7 L115.1 236.2 L116.4 234.9 L117.9 233.6 L119.3 232.4 L120.7 231.1 L122.2 229.8 L123.9 228.4 L125.5 227.1 L127 225.8 L128.4 224.5 L129.7 223.3 L131.1 222 L132.6 220.7 L134.2 219.3 L136 218 L137.9 216.8 L139.9 215.7 L141.8 214.8 L143.6 214.1 L145.4 213.6 L147.2 213 L149.1 212.5 L151.1 212 L153.2 211.6 L155.3 211.1 L157.4 210.6 L159.6 210.2 L161.7 209.7 L163.8 209.2 L165.8 208.7 L167.7 208.2 L169.6 207.6 L171.4 207 L173.4 206.3 L175.3 205.5 L177.2 204.5 L179.1 203.6 L180.8 202.6 L182.5 201.6 L184.2 200.6 L185.8 199.6 L187.5 198.6 L189.2 197.5 L191 196.5 L192.8 195.5 L194.6 194.5 L196.5 193.5 L198.5 192.5 L200.5 191.5 L202.5 190.4 L204.6 189.4 L206.6 188.3 L208.5 187.3 L210.4 186.4 L212.1 185.6 L213.7 184.8 L215.3 184.1 L216.9 183.5 L218.6 183.1 L220.4 183 L222.2 183 L224 182.9 L225.8 182.8 L227.6 182.6 L229.5 182.4 L231.5 182.3 L233.7 182.1 L235.9 181.9 L238.2 181.7 L240.5 181.5 L242.9 181.3 L245.2 181.2 L247.4 181.1 L249.6 181 L251.7 181 L253.7 181 L255.8 181.1 L258 181.3 L260.2 181.5 L262.4 181.9 L264.5 182.2 L266.5 182.6 L268.6 183.1 L270.6 183.5 L272.5 183.9 L274.4 184.3 L276.3 184.7 L278.2 184.9 L280.2 185.2 L282.2 185.4 L284.2 185.5 L286.2 185.6 L288.1 185.7 L290 185.7 L291.9 185.7 L293.8 185.7 L295.8 185.6 L297.8 185.4 L299.9 185.3 L301.8 185.1 L303.8 185 L305.7 184.8 L307.7 184.5 L309.7 184.3 L311.7 184 L313.8 183.7 L315.8 183.4 L317.9 183 L320 182.6 L322 182.2 L324.1 181.7 L326.1 181.2 L328.1 180.7 L330 180.1 L332.1 179.5 L334.1 178.9 L336.1 178.2 L338.1 177.6 L340.1 176.8 L342 176.1 L343.9 175.4 L345.8 174.6 L347.7 173.8 L349.5 173 L351.4 172.2 L353.3 171.2 L355.2 170.2 L357.1 169.2 L358.9 168.2 L360.7 167.1 L362.4 166 L364.1 164.9 L365.8 163.7 L367.4 162.6 L369.1 161.4 L370.7 160.2 L372.4 158.9 L374 157.6 L375.5 156.3 L377.1 155 L378.6 153.6 L380.1 152.3 L381.5 150.9 L382.9 149.5 L384.3 148.1 L385.7 146.5 L387.1 145 L388.5 143.3 L389.8 141.6 L391.1 139.9 L392.3 138.3 L393.5 136.6 L394.7 135 L395.8 133.4 L397 131.7 L398.3 130 L399.5 128.3 L400.7 126.6 L401.9 125 L403 123.4 L404.2 121.7 L405.3 120 L406.3 118.3 L407.4 116.6 L408.4 114.8 L409.4 113.1 L410.5 111.3 L411.5 109.6 L412.5 107.8 L413.6 106 L414.7 104.1 L415.9 102.3 L417.1 100.4 L418.2 98.6 L419.4 97.1 L420.7 95.7 L422.3 94.6 L424.5 93.9 L425.3 94" fill="none" stroke="#5b70f5" stroke-width="3" stroke-linejoin="round" stroke-linecap="round"/>
<path d="M425.3 94 L425.2 95.4 L425.2 97.2 L425.1 99.2 L425 101.4 L424.9 103.7 L424.7 105.9 L424.6 108.1 L424.5 110.1 L424.3 112.1 L424.1 114 L423.8 115.8 L423.5 117.8 L423.3 119.7 L423 121.6 L422.8 123.5 L422.5 125.4 L422.3 127.5 L422 129.5 L421.7 131.6 L421.4 133.7 L421.1 135.8 L420.8 137.9 L420.4 139.9 L420.1 141.9 L419.7 143.9 L419.3 145.9 L418.9 147.8 L418.4 149.8 L418 151.8 L417.6 153.8 L417.2 155.8 L416.8 157.8 L416.4 159.9 L416 161.9 L415.7 164 L415.3 166 L414.9 168 L414.5 170 L414 171.9 L413.5 173.9 L412.9 176 L412.3 178.1 L411.6 180.1 L410.8 182.1 L410.1 184 L409.3 185.9 L408.4 187.8 L407.5 189.7 L406.6 191.5 L405.6 193.3 L404.5 195.1 L403.4 196.8 L402.1 198.5 L400.8 200.1 L399.3 201.7 L397.7 203.2 L396.1 204.6 L394.4 205.8 L392.6 206.8 L390.8 207.6 L388.9 208.3 L387 208.9 L385.2 209.5 L383.8 210.1 L382.4 210.7 L380.7 211.4 L378.6 212 L376.3 212.6 L374.3 213.1 L372.6 213.5 L370.9 213.8 L369.2 214.1 L367.4 214.4 L365.5 214.7 L363.5 215.1 L361.5 215.4 L359.4 215.8 L357.2 216.1 L355 216.5 L352.8 216.8 L350.6 217.2 L348.3 217.6 L346.1 217.9 L344 218.2 L341.8 218.6 L339.8 218.9 L337.7 219.2 L335.7 219.5 L333.6 219.8 L331.5 220.1 L329.4 220.4 L327.3 220.7 L325.2 220.9 L323.1 221.2 L320.9 221.5 L318.8 221.8 L316.7 222 L314.6 222.3 L312.6 222.5 L310.6 222.8 L308.7 223 L306.8 223.3 L305 223.5 L303.3 223.8 L301.5 224 L299.5 224.3 L297.4 224.5 L295.3 224.8 L293.3 225.1 L291.6 225.3 L289.9 225.5 L288.2 225.7 L286.5 226 L284.5 226.4 L282.5 226.8 L280.4 227.3 L278.5 227.8 L276.7 228.3 L275 228.8 L273.2 229.3 L271.3 229.9 L269.4 230.4 L267.4 231.1 L265.4 231.7 L263.3 232.3 L261.3 233 L259.2 233.6 L257.1 234.2 L255.1 234.9 L253 235.4 L251 236 L249 236.5 L247.1 237 L245.2 237.5 L243.2 237.9 L241.1 238.3 L239 238.7 L237 239 L234.9 239.2 L232.9 239.5 L230.9 239.7 L228.9 239.9 L227 240.1 L225 240.3 L223.1 240.5 L221.1 240.7 L219.2 241 L217.3 241.2 L215.3 241.6 L213.4 241.9 L211.4 242.4 L209.3 242.8 L207.2 243.3 L205.1 243.8 L203.1 244.4 L201 245 L198.9 245.5 L196.9 246.1 L194.9 246.7 L193 247.3 L191.1 247.9 L189.3 248.4 L187.6 249 L185.9 249.5 L184 250.2 L182 250.9 L180 251.7 L178.3 252.5 L176.6 253.3 L175 254.1 L173.2 255.1 L171.4 256 L169.6 257 L167.9 257.8 L166.1 258.7 L164.3 259.7 L162.4 260.6 L160.5 261.6 L158.6 262.7 L156.6 263.7 L154.7 264.8 L152.9 265.9 L151.1 267 L149.3 268.1 L147.6 269.3 L145.9 270.6 L144.3 271.9 L142.7 273.2 L141.2 274.6 L139.7 276 L138.2 277.4 L136.7 278.8 L135.2 280.1 L133.7 281.4 L132.2 282.7 L130.6 284 L128.9 285.2 L127.2 286.4 L125.4 287.7 L123.6 288.8 L121.9 290 L120.2 291.1 L118.5 292.1 L116.9 293.2 L115.2 294.2 L113.4 295.3 L111.4 296.4 L109.4 297.6 L107.5 298.6 L105.7 299.6 L104.1 300.4 L102.7 301.1 L102.2 301.4" fill="none" stroke="#5b70f5" stroke-width="3" stroke-linejoin="round" stroke-linecap="round"/>
<path d="M102.2 298 L102.2 296.7 L102.2 295 L102.3 293.1 L102.3 291.1 L102.3 288.8 L102.4 286.5 L102.4 284.2 L102.5 281.8 L102.6 279.6 L102.7 277.5 L102.8 275.3 L102.9 273.2 L103.1 271.1 L103.2 269 L103.4 267 L103.6 265.1 L103.9 263.2 L104.1 261.3 L104.5 259.3 L104.8 257.2 L105.2 255.1 L105.7 253 L106.2 251 L106.8 249 L107.5 247 L108.2 245.1 L109 243.2 L109.9 241.4 L110.9 239.6 L111.9 237.8 L113 236.1 L114.1 234.4 L115.3 232.8 L116.5 231.3 L117.8 229.8 L119.3 228.4 L120.8 226.9 L122.5 225.5 L124.1 224.1 L125.6 222.8 L127 221.5 L128.5 220.2 L130.1 218.9 L131.7 217.5 L133.4 216.2 L135.1 214.9 L136.8 213.6 L138.6 212.5 L140.3 211.5 L142.1 210.5 L143.9 209.7 L145.7 209 L147.5 208.4 L149.3 207.9 L151.2 207.4 L153.2 206.9 L155.2 206.4 L157.3 205.9 L159.5 205.4 L161.6 204.8 L163.5 204.2 L165.4 203.7 L167.3 203.1 L169.2 202.6 L171.2 202 L173.2 201.4 L175.3 200.8 L177.4 200.2 L179.4 199.6 L181.5 198.9 L183.5 198.3 L185.5 197.7 L187.4 197.2 L189.3 196.6 L191.2 196 L193.1 195.4 L195.1 194.7 L197.1 194 L199.1 193.2 L200.9 192.5 L202.7 191.8 L204.4 191.1 L206.2 190.4 L208.1 189.8 L210.1 189.1 L212.1 188.6 L214.1 188.1 L216 187.6 L217.8 187.2 L219.6 186.8 L221.5 186.4 L223.4 186.1 L225.4 185.7 L227.4 185.4 L229.5 185 L231.5 184.7 L233.6 184.4 L235.7 184.1 L237.9 183.8 L240 183.6 L242.1 183.3 L244.2 183.1 L246.3 183 L248.3 182.8 L250.4 182.7 L252.5 182.6 L254.6 182.5 L256.8 182.5 L259 182.4 L261.2 182.4 L263.4 182.4 L265.5 182.3 L267.7 182.3 L269.7 182.3 L271.8 182.3 L273.7 182.2 L275.6 182.2 L277.5 182.2 L279.4 182.1 L281.5 182.1 L283.7 182 L285.8 181.9 L287.9 181.9 L289.7 181.8 L291.5 181.7 L293.3 181.6 L295.1 181.5 L297 181.3 L298.9 181 L300.9 180.7 L302.8 180.4 L304.7 180.1 L306.7 179.7 L308.7 179.3 L310.7 178.9 L312.7 178.4 L314.8 177.9 L316.9 177.4 L319 176.9 L321 176.4 L323.1 175.8 L325.1 175.2 L327.1 174.6 L329 174 L331 173.3 L333.1 172.6 L335.1 171.9 L337.1 171.2 L339.1 170.4 L341 169.7 L343 168.9 L344.9 168.1 L346.7 167.4 L348.6 166.6 L350.4 165.7 L352.4 164.8 L354.3 163.8 L356.3 162.8 L358.2 161.8 L360 160.7 L361.8 159.7 L363.5 158.7 L365.2 157.6 L366.8 156.6 L368.4 155.5 L370.1 154.4 L371.8 153.2 L373.4 152 L375 150.8 L376.5 149.6 L378 148.4 L379.5 147.1 L380.9 145.8 L382.5 144.4 L384 143 L385.5 141.6 L387 140.1 L388.6 138.6 L390 137 L391.5 135.5 L392.9 134 L394.2 132.4 L395.5 130.9 L396.8 129.3 L398 127.7 L399.1 126.1 L400.2 124.4 L401.3 122.7 L402.3 121 L403.3 119.2 L404.1 117.4 L405 115.6 L405.8 113.8 L406.5 111.9 L407.3 110 L408.1 108 L408.8 106 L409.6 104.1 L410.3 102.1 L411.1 100.3 L411.8 98.5 L412.6 96.6 L413.3 94.8 L414 92.9 L414.8 90.9 L415.5 89 L416.3 87 L417 85 L417.7 83 L418.4 81 L419.1 78.9 L419.8 76.7 L420.5 74.5 L421.2 72.3 L421.9 70.1 L422.6 68 L423.2 66.1 L423.8 64.3 L424.3 62.7 L424.7 61.4 L424.9 60.8" fill="none" stroke="#f44b55" stroke-width="3" stroke-linejoin="round" stroke-linecap="round"/>
<path d="M424.9 60.8 L424.8 62 L424.8 63.4 L424.7 65.1 L424.6 66.8 L424.6 68.8 L424.5 70.8 L424.4 73 L424.3 75.3 L424.2 77.6 L424.1 79.9 L424 82.2 L423.8 84.5 L423.7 86.7 L423.6 88.9 L423.4 91 L423.3 93 L423.1 95.1 L422.9 97.2 L422.8 99.3 L422.6 101.5 L422.4 103.6 L422.2 105.7 L422 107.8 L421.8 109.8 L421.6 111.8 L421.4 113.8 L421.3 115.6 L421.1 117.5 L420.9 119.4 L420.6 121.4 L420.4 123.6 L420.1 125.7 L419.9 127.8 L419.7 129.7 L419.4 131.5 L419.1 133.3 L418.9 135.1 L418.5 137 L418.2 138.9 L417.9 140.9 L417.5 142.9 L417.1 144.9 L416.7 146.9 L416.2 148.8 L415.8 150.8 L415.4 152.8 L415 154.8 L414.6 156.8 L414.2 158.9 L413.8 160.9 L413.4 163 L413.1 165.1 L412.7 167.1 L412.3 169.1 L411.9 171 L411.4 173 L411 175 L410.4 177 L409.9 179 L409.3 180.9 L408.7 182.8 L408 184.7 L407.3 186.6 L406.7 188.6 L405.9 190.7 L405.2 192.7 L404.3 194.7 L403.4 196.6 L402.3 198.4 L401.1 200.2 L399.8 202 L398.5 203.7 L397.1 205.3 L395.8 206.9 L394.4 208.4 L393 209.9 L391.5 211.2 L390 212.5 L388.3 213.6 L386.7 214.7 L385 215.6 L383.3 216.4 L381.4 217.2 L379.2 218 L377 218.7 L374.9 219.3 L373 219.8 L371.1 220.2 L369.3 220.6 L367.3 221 L365.2 221.4 L363.1 221.7 L361 222.1 L358.8 222.5 L356.6 222.9 L354.5 223.4 L352.4 223.8 L350.3 224.2 L348.3 224.6 L346.3 225.1 L344.3 225.6 L342.2 226 L340.2 226.5 L338.2 227 L336.2 227.5 L334.2 227.9 L332.2 228.4 L330.1 228.9 L328.1 229.3 L326.1 229.8 L324.1 230.2 L322 230.6 L320 231.1 L317.9 231.5 L315.8 231.9 L313.8 232.3 L311.7 232.7 L309.7 233.1 L307.7 233.4 L305.7 233.8 L303.8 234.2 L301.8 234.6 L299.9 235.1 L297.9 235.5 L296 236.1 L294.2 236.6 L292.4 237.2 L290.6 237.8 L288.8 238.3 L286.9 238.8 L284.8 239.2 L282.6 239.5 L280.4 239.7 L278.4 239.9 L276.5 239.9 L274.7 239.9 L272.8 239.9 L270.8 239.9 L268.7 239.8 L266.6 239.8 L264.4 239.7 L262.3 239.6 L260.1 239.5 L257.9 239.4 L255.7 239.2 L253.5 239.1 L251.4 239 L249.3 239 L247.3 238.9 L245.2 238.8 L243.1 238.8 L241 238.7 L238.9 238.7 L236.8 238.6 L234.7 238.6 L232.6 238.6 L230.6 238.5 L228.6 238.5 L226.5 238.5 L224.5 238.5 L222.5 238.5 L220.5 238.5 L218.5 238.6 L216.5 238.6 L214.4 238.8 L212.4 238.9 L210.3 239.1 L208.2 239.2 L206 239.5 L203.8 239.7 L201.6 240 L199.4 240.2 L197.2 240.5 L195.1 240.8 L193 241.1 L191 241.4 L189.1 241.7 L187.3 242 L185.6 242.3 L183.8 242.7 L181.9 243.1 L179.9 243.6 L178.1 244.2 L176.5 244.9 L174.9 245.7 L173.2 246.5 L171.4 247.3 L169.7 248 L167.9 248.6 L166.1 249.3 L164.2 250 L162.2 250.8 L160.1 251.6 L158.1 252.3 L156 253.1 L154 253.9 L152.1 254.7 L150.2 255.5 L148.4 256.3 L146.5 257.1 L144.6 258 L142.7 258.9 L140.9 259.8 L139.2 260.7 L137.5 261.6 L135.8 262.5 L134.1 263.6 L132.4 264.7 L130.7 265.8 L129 267 L127.3 268.3 L125.7 269.6 L124 271 L122.3 272.3 L120.7 273.7 L119.1 275.1 L117.5 276.4 L116 277.7 L114.3 279 L112.6 280.3 L110.7 281.6 L108.9 282.9 L107.3 284.1 L105.8 285.3 L104.5 286.6 L103.4 288.2 L102.7 290.1 L102.3 292.3 L102.1 294.4 L102.2 296.5 L102.2 298" fill="none" stroke="#f44b55" stroke-width="3" stroke-linejoin="round" stroke-linecap="round"/>
</g>
<path d="M137.8 53.2H190.5" stroke="#6cba4c" stroke-width="3.2" stroke-linecap="round"/>
<text x="195" y="61.2" font-size="23.5" text-anchor="start">-20</text>
<path d="M236.3 53.2H289.2" stroke="#ff8410" stroke-width="3.2" stroke-linecap="round"/>
<text x="293.5" y="61.2" font-size="23.5" text-anchor="start">-10</text>
<path d="M334.5 53.2H387.3" stroke="#e676f6" stroke-width="3.2" stroke-linecap="round"/>
<text x="392" y="61.2" font-size="23.5" text-anchor="start">0</text>
<path d="M137.8 81.2H190.5" stroke="#5b70f5" stroke-width="3.2" stroke-linecap="round"/>
<text x="195.2" y="89.2" font-size="23.5" text-anchor="start">10</text>
<path d="M234.2 81.2H287.5" stroke="#f44b55" stroke-width="3.2" stroke-linecap="round"/>
<text x="290.6" y="89.2" font-size="23.5" text-anchor="start">25</text>
<text x="139" y="140" font-size="23" text-anchor="start" font-weight="bold">Unit: °C</text>
<text x="347" y="277.5" font-size="23" text-anchor="start" font-weight="bold">3 mV s<tspan font-size="16.5" dy="-11">-1</tspan></text>
<g clip-path="url(#cb)">
<circle cx="592.9" cy="242.8" r="5" fill="url(#gG)"/>
<circle cx="601.3" cy="243.7" r="5" fill="url(#gG)"/>
<circle cx="609.8" cy="244.9" r="5" fill="url(#gG)"/>
<circle cx="618.2" cy="246.3" r="5" fill="url(#gG)"/>
<circle cx="626.6" cy="246.6" r="5" fill="url(#gG)"/>
<circle cx="635.1" cy="246.6" r="5" fill="url(#gG)"/>
<circle cx="643.5" cy="246.6" r="5" fill="url(#gG)"/>
<circle cx="652" cy="246.6" r="5" fill="url(#gG)"/>
<circle cx="660.4" cy="247.2" r="5" fill="url(#gG)"/>
<circle cx="668.8" cy="247.2" r="5" fill="url(#gG)"/>
<circle cx="677.3" cy="257.7" r="5" fill="url(#gG)"/>
<circle cx="685.7" cy="262.1" r="5" fill="url(#gG)"/>
<circle cx="694.2" cy="262.1" r="5" fill="url(#gG)"/>
<circle cx="702.6" cy="262.1" r="5" fill="url(#gG)"/>
<circle cx="711" cy="262.1" r="5" fill="url(#gG)"/>
<circle cx="719.5" cy="262.1" r="5" fill="url(#gG)"/>
<circle cx="727.9" cy="262.1" r="5" fill="url(#gG)"/>
<circle cx="736.4" cy="262.1" r="5" fill="url(#gG)"/>
<circle cx="744.8" cy="262.1" r="5" fill="url(#gG)"/>
<circle cx="753.2" cy="262.1" r="5" fill="url(#gG)"/>
<circle cx="761.7" cy="272.7" r="5" fill="url(#gG)"/>
<circle cx="770.1" cy="280.6" r="5" fill="url(#gG)"/>
<circle cx="778.6" cy="281.2" r="5" fill="url(#gG)"/>
<circle cx="787" cy="281.8" r="5" fill="url(#gG)"/>
<circle cx="795.4" cy="282.5" r="5" fill="url(#gG)"/>
<circle cx="803.9" cy="282.5" r="5" fill="url(#gG)"/>
<circle cx="812.3" cy="282.5" r="5" fill="url(#gG)"/>
<circle cx="820.8" cy="282.5" r="5" fill="url(#gG)"/>
<circle cx="829.2" cy="282.5" r="5" fill="url(#gG)"/>
<circle cx="837.6" cy="283.2" r="5" fill="url(#gG)"/>
<circle cx="846.1" cy="300.6" r="5" fill="url(#gG)"/>
<circle cx="854.5" cy="304" r="5" fill="url(#gG)"/>
<circle cx="863" cy="302.5" r="5" fill="url(#gG)"/>
<circle cx="871.4" cy="301.5" r="5" fill="url(#gG)"/>
<circle cx="879.8" cy="301" r="5" fill="url(#gG)"/>
<circle cx="888.3" cy="301.5" r="5" fill="url(#gG)"/>
<circle cx="896.7" cy="300.6" r="5" fill="url(#gG)"/>
<circle cx="905.2" cy="300.6" r="5" fill="url(#gG)"/>
<circle cx="913.6" cy="300.6" r="5" fill="url(#gG)"/>
<circle cx="922" cy="299.1" r="5" fill="url(#gG)"/>
<circle cx="930.5" cy="302.5" r="5" fill="url(#gG)"/>
<circle cx="938.9" cy="304.3" r="5" fill="url(#gG)"/>
<circle cx="947.4" cy="302.5" r="5" fill="url(#gG)"/>
<circle cx="955.8" cy="302.5" r="5" fill="url(#gG)"/>
<circle cx="964.2" cy="302.5" r="5" fill="url(#gG)"/>
<circle cx="972.7" cy="302.5" r="5" fill="url(#gG)"/>
<circle cx="981.1" cy="302.5" r="5" fill="url(#gG)"/>
<circle cx="989.6" cy="302.5" r="5" fill="url(#gG)"/>
<circle cx="998" cy="302.5" r="5" fill="url(#gG)"/>
<circle cx="1006.4" cy="302.5" r="5" fill="url(#gG)"/>
<circle cx="1014.9" cy="259.1" r="5" fill="url(#gG)"/>
<circle cx="1023.3" cy="241.8" r="5" fill="url(#gG)"/>
<circle cx="1031.8" cy="242.5" r="5" fill="url(#gG)"/>
<circle cx="1040.2" cy="242.5" r="5" fill="url(#gG)"/>
<circle cx="1048.6" cy="242.5" r="5" fill="url(#gG)"/>
<circle cx="1057.1" cy="242.5" r="5" fill="url(#gG)"/>
<circle cx="1065.5" cy="242.5" r="5" fill="url(#gG)"/>
<circle cx="1074" cy="242.5" r="5" fill="url(#gG)"/>
<circle cx="1082.4" cy="242.5" r="5" fill="url(#gG)"/>
<circle cx="1090.8" cy="242.5" r="5" fill="url(#gG)"/>
<circle cx="592.9" cy="206.2" r="5" fill="url(#gO)"/>
<circle cx="601.3" cy="206.2" r="5" fill="url(#gO)"/>
<circle cx="609.8" cy="206.7" r="5" fill="url(#gO)"/>
<circle cx="618.2" cy="206.7" r="5" fill="url(#gO)"/>
<circle cx="626.6" cy="207.2" r="5" fill="url(#gO)"/>
<circle cx="635.1" cy="206.7" r="5" fill="url(#gO)"/>
<circle cx="643.5" cy="206.7" r="5" fill="url(#gO)"/>
<circle cx="652" cy="207.2" r="5" fill="url(#gO)"/>
<circle cx="660.4" cy="207.6" r="5" fill="url(#gO)"/>
<circle cx="668.8" cy="209" r="5" fill="url(#gO)"/>
<circle cx="677.3" cy="223.8" r="5" fill="url(#gO)"/>
<circle cx="685.7" cy="236.1" r="5" fill="url(#gO)"/>
<circle cx="694.2" cy="239.6" r="5" fill="url(#gO)"/>
<circle cx="702.6" cy="241.9" r="5" fill="url(#gO)"/>
<circle cx="711" cy="243.7" r="5" fill="url(#gO)"/>
<circle cx="719.5" cy="244.9" r="5" fill="url(#gO)"/>
<circle cx="727.9" cy="245.9" r="5" fill="url(#gO)"/>
<circle cx="736.4" cy="247.7" r="5" fill="url(#gO)"/>
<circle cx="744.8" cy="248.4" r="5" fill="url(#gO)"/>
<circle cx="753.2" cy="249.5" r="5" fill="url(#gO)"/>
<circle cx="761.7" cy="270.6" r="5" fill="url(#gO)"/>
<circle cx="770.1" cy="275.3" r="5" fill="url(#gO)"/>
<circle cx="778.6" cy="275.3" r="5" fill="url(#gO)"/>
<circle cx="787" cy="275.3" r="5" fill="url(#gO)"/>
<circle cx="795.4" cy="275.3" r="5" fill="url(#gO)"/>
<circle cx="803.9" cy="275.3" r="5" fill="url(#gO)"/>
<circle cx="812.3" cy="275.3" r="5" fill="url(#gO)"/>
<circle cx="820.8" cy="275.3" r="5" fill="url(#gO)"/>
<circle cx="829.2" cy="275.3" r="5" fill="url(#gO)"/>
<circle cx="837.6" cy="275.8" r="5" fill="url(#gO)"/>
<circle cx="846.1" cy="284.6" r="5" fill="url(#gO)"/>
<circle cx="854.5" cy="287.4" r="5" fill="url(#gO)"/>
<circle cx="863" cy="288.3" r="5" fill="url(#gO)"/>
<circle cx="871.4" cy="288.3" r="5" fill="url(#gO)"/>
<circle cx="879.8" cy="287.8" r="5" fill="url(#gO)"/>
<circle cx="888.3" cy="287.4" r="5" fill="url(#gO)"/>
<circle cx="896.7" cy="287.4" r="5" fill="url(#gO)"/>
<circle cx="905.2" cy="287.4" r="5" fill="url(#gO)"/>
<circle cx="913.6" cy="287" r="5" fill="url(#gO)"/>
<circle cx="922" cy="287" r="5" fill="url(#gO)"/>
<circle cx="930.5" cy="291.5" r="5" fill="url(#gO)"/>
<circle cx="938.9" cy="292.7" r="5" fill="url(#gO)"/>
<circle cx="947.4" cy="292.7" r="5" fill="url(#gO)"/>
<circle cx="955.8" cy="291.5" r="5" fill="url(#gO)"/>
<circle cx="964.2" cy="291.5" r="5" fill="url(#gO)"/>
<circle cx="972.7" cy="291.5" r="5" fill="url(#gO)"/>
<circle cx="981.1" cy="291.5" r="5" fill="url(#gO)"/>
<circle cx="989.6" cy="291.5" r="5" fill="url(#gO)"/>
<circle cx="998" cy="291.5" r="5" fill="url(#gO)"/>
<circle cx="1006.4" cy="291.5" r="5" fill="url(#gO)"/>
<circle cx="1014.9" cy="223.7" r="5" fill="url(#gO)"/>
<circle cx="1023.3" cy="189.8" r="5" fill="url(#gO)"/>
<circle cx="1031.8" cy="197.9" r="5" fill="url(#gO)"/>
<circle cx="1040.2" cy="202.6" r="5" fill="url(#gO)"/>
<circle cx="1048.6" cy="205.4" r="5" fill="url(#gO)"/>
<circle cx="1057.1" cy="206" r="5" fill="url(#gO)"/>
<circle cx="1065.5" cy="206.4" r="5" fill="url(#gO)"/>
<circle cx="1074" cy="206.8" r="5" fill="url(#gO)"/>
<circle cx="1082.4" cy="206.8" r="5" fill="url(#gO)"/>
<circle cx="1090.8" cy="207.3" r="5" fill="url(#gO)"/>
<circle cx="592.9" cy="126" r="5" fill="url(#gM)"/>
<circle cx="601.3" cy="126.8" r="5" fill="url(#gM)"/>
<circle cx="609.8" cy="137" r="5" fill="url(#gM)"/>
<circle cx="618.2" cy="138.8" r="5" fill="url(#gM)"/>
<circle cx="626.6" cy="139.5" r="5" fill="url(#gM)"/>
<circle cx="635.1" cy="138.3" r="5" fill="url(#gM)"/>
<circle cx="643.5" cy="137.4" r="5" fill="url(#gM)"/>
<circle cx="652" cy="138.3" r="5" fill="url(#gM)"/>
<circle cx="660.4" cy="140" r="5" fill="url(#gM)"/>
<circle cx="668.8" cy="139.2" r="5" fill="url(#gM)"/>
<circle cx="677.3" cy="148.3" r="5" fill="url(#gM)"/>
<circle cx="685.7" cy="169.9" r="5" fill="url(#gM)"/>
<circle cx="694.2" cy="171.7" r="5" fill="url(#gM)"/>
<circle cx="702.6" cy="171.7" r="5" fill="url(#gM)"/>
<circle cx="711" cy="170.5" r="5" fill="url(#gM)"/>
<circle cx="719.5" cy="171.7" r="5" fill="url(#gM)"/>
<circle cx="727.9" cy="174" r="5" fill="url(#gM)"/>
<circle cx="736.4" cy="172.6" r="5" fill="url(#gM)"/>
<circle cx="744.8" cy="174" r="5" fill="url(#gM)"/>
<circle cx="753.2" cy="191.2" r="5" fill="url(#gM)"/>
<circle cx="761.7" cy="207.2" r="5" fill="url(#gM)"/>
<circle cx="770.1" cy="208.5" r="5" fill="url(#gM)"/>
<circle cx="778.6" cy="210.2" r="5" fill="url(#gM)"/>
<circle cx="787" cy="211.1" r="5" fill="url(#gM)"/>
<circle cx="795.4" cy="212" r="5" fill="url(#gM)"/>
<circle cx="803.9" cy="212.9" r="5" fill="url(#gM)"/>
<circle cx="812.3" cy="213.7" r="5" fill="url(#gM)"/>
<circle cx="820.8" cy="214.3" r="5" fill="url(#gM)"/>
<circle cx="829.2" cy="214.6" r="5" fill="url(#gM)"/>
<circle cx="837.6" cy="227.9" r="5" fill="url(#gM)"/>
<circle cx="846.1" cy="236.9" r="5" fill="url(#gM)"/>
<circle cx="854.5" cy="239.3" r="5" fill="url(#gM)"/>
<circle cx="863" cy="239.9" r="5" fill="url(#gM)"/>
<circle cx="871.4" cy="241.2" r="5" fill="url(#gM)"/>
<circle cx="879.8" cy="241.2" r="5" fill="url(#gM)"/>
<circle cx="888.3" cy="241.2" r="5" fill="url(#gM)"/>
<circle cx="896.7" cy="241.2" r="5" fill="url(#gM)"/>
<circle cx="905.2" cy="241.2" r="5" fill="url(#gM)"/>
<circle cx="913.6" cy="241.2" r="5" fill="url(#gM)"/>
<circle cx="922" cy="254.4" r="5" fill="url(#gM)"/>
<circle cx="930.5" cy="260.6" r="5" fill="url(#gM)"/>
<circle cx="938.9" cy="261.4" r="5" fill="url(#gM)"/>
<circle cx="947.4" cy="261.4" r="5" fill="url(#gM)"/>
<circle cx="955.8" cy="261.4" r="5" fill="url(#gM)"/>
<circle cx="964.2" cy="261.4" r="5" fill="url(#gM)"/>
<circle cx="972.7" cy="261.4" r="5" fill="url(#gM)"/>
<circle cx="981.1" cy="261.4" r="5" fill="url(#gM)"/>
<circle cx="989.6" cy="261.4" r="5" fill="url(#gM)"/>
<circle cx="998" cy="261.8" r="5" fill="url(#gM)"/>
<circle cx="1006.4" cy="209.2" r="5" fill="url(#gM)"/>
<circle cx="1014.9" cy="194.7" r="5" fill="url(#gM)"/>
<circle cx="1023.3" cy="168.7" r="5" fill="url(#gM)"/>
<circle cx="1031.8" cy="170.8" r="5" fill="url(#gM)"/>
<circle cx="1040.2" cy="172.6" r="5" fill="url(#gM)"/>
<circle cx="1048.6" cy="174" r="5" fill="url(#gM)"/>
<circle cx="1057.1" cy="173.5" r="5" fill="url(#gM)"/>
<circle cx="1065.5" cy="175.2" r="5" fill="url(#gM)"/>
<circle cx="1074" cy="174" r="5" fill="url(#gM)"/>
<circle cx="1082.4" cy="173.5" r="5" fill="url(#gM)"/>
<circle cx="1090.8" cy="172.6" r="5" fill="url(#gM)"/>
<circle cx="592.9" cy="101.9" r="5" fill="url(#gB)"/>
<circle cx="601.3" cy="104" r="5" fill="url(#gB)"/>
<circle cx="609.8" cy="110.1" r="5" fill="url(#gB)"/>
<circle cx="618.2" cy="111.9" r="5" fill="url(#gB)"/>
<circle cx="626.6" cy="112.4" r="5" fill="url(#gB)"/>
<circle cx="635.1" cy="112.8" r="5" fill="url(#gB)"/>
<circle cx="643.5" cy="114.5" r="5" fill="url(#gB)"/>
<circle cx="652" cy="119.8" r="5" fill="url(#gB)"/>
<circle cx="660.4" cy="118.9" r="5" fill="url(#gB)"/>
<circle cx="668.8" cy="119.8" r="5" fill="url(#gB)"/>
<circle cx="677.3" cy="136.5" r="5" fill="url(#gB)"/>
<circle cx="685.7" cy="137" r="5" fill="url(#gB)"/>
<circle cx="694.2" cy="138.8" r="5" fill="url(#gB)"/>
<circle cx="702.6" cy="140" r="5" fill="url(#gB)"/>
<circle cx="711" cy="137.4" r="5" fill="url(#gB)"/>
<circle cx="719.5" cy="141" r="5" fill="url(#gB)"/>
<circle cx="727.9" cy="142" r="5" fill="url(#gB)"/>
<circle cx="736.4" cy="146.2" r="5" fill="url(#gB)"/>
<circle cx="744.8" cy="144" r="5" fill="url(#gB)"/>
<circle cx="753.2" cy="162.4" r="5" fill="url(#gB)"/>
<circle cx="761.7" cy="184.5" r="5" fill="url(#gB)"/>
<circle cx="770.1" cy="184.9" r="5" fill="url(#gB)"/>
<circle cx="778.6" cy="186" r="5" fill="url(#gB)"/>
<circle cx="787" cy="185.5" r="5" fill="url(#gB)"/>
<circle cx="795.4" cy="185.5" r="5" fill="url(#gB)"/>
<circle cx="803.9" cy="186" r="5" fill="url(#gB)"/>
<circle cx="812.3" cy="186" r="5" fill="url(#gB)"/>
<circle cx="820.8" cy="185.5" r="5" fill="url(#gB)"/>
<circle cx="829.2" cy="185" r="5" fill="url(#gB)"/>
<circle cx="837.6" cy="195.8" r="5" fill="url(#gB)"/>
<circle cx="846.1" cy="213" r="5" fill="url(#gB)"/>
<circle cx="854.5" cy="229.4" r="5" fill="url(#gB)"/>
<circle cx="863" cy="229.4" r="5" fill="url(#gB)"/>
<circle cx="871.4" cy="234.6" r="5" fill="url(#gB)"/>
<circle cx="879.8" cy="234.3" r="5" fill="url(#gB)"/>
<circle cx="888.3" cy="234.3" r="5" fill="url(#gB)"/>
<circle cx="896.7" cy="233.7" r="5" fill="url(#gB)"/>
<circle cx="905.2" cy="233.7" r="5" fill="url(#gB)"/>
<circle cx="913.6" cy="233.7" r="5" fill="url(#gB)"/>
<circle cx="922" cy="233.7" r="5" fill="url(#gB)"/>
<circle cx="930.5" cy="242.5" r="5" fill="url(#gB)"/>
<circle cx="938.9" cy="250.6" r="5" fill="url(#gB)"/>
<circle cx="947.4" cy="251.6" r="5" fill="url(#gB)"/>
<circle cx="955.8" cy="251.6" r="5" fill="url(#gB)"/>
<circle cx="964.2" cy="251.6" r="5" fill="url(#gB)"/>
<circle cx="972.7" cy="251.6" r="5" fill="url(#gB)"/>
<circle cx="981.1" cy="251.6" r="5" fill="url(#gB)"/>
<circle cx="989.6" cy="251.6" r="5" fill="url(#gB)"/>
<circle cx="998" cy="251.6" r="5" fill="url(#gB)"/>
<circle cx="1006.4" cy="251.6" r="5" fill="url(#gB)"/>
<circle cx="1014.9" cy="173.5" r="5" fill="url(#gB)"/>
<circle cx="1023.3" cy="144.1" r="5" fill="url(#gB)"/>
<circle cx="1031.8" cy="147.1" r="5" fill="url(#gB)"/>
<circle cx="1040.2" cy="150.6" r="5" fill="url(#gB)"/>
<circle cx="1048.6" cy="149.7" r="5" fill="url(#gB)"/>
<circle cx="1057.1" cy="151.1" r="5" fill="url(#gB)"/>
<circle cx="1065.5" cy="151.1" r="5" fill="url(#gB)"/>
<circle cx="1074" cy="150.6" r="5" fill="url(#gB)"/>
<circle cx="1082.4" cy="151.8" r="5" fill="url(#gB)"/>
<circle cx="1090.8" cy="154.1" r="5" fill="url(#gB)"/>
<circle cx="592.9" cy="77.6" r="5" fill="url(#gR)"/>
<circle cx="601.3" cy="82.5" r="5" fill="url(#gR)"/>
<circle cx="609.8" cy="95.2" r="5" fill="url(#gR)"/>
<circle cx="618.2" cy="99.6" r="5" fill="url(#gR)"/>
<circle cx="626.6" cy="99.6" r="5" fill="url(#gR)"/>
<circle cx="635.1" cy="96.9" r="5" fill="url(#gR)"/>
<circle cx="643.5" cy="97.3" r="5" fill="url(#gR)"/>
<circle cx="652" cy="97.8" r="5" fill="url(#gR)"/>
<circle cx="660.4" cy="99" r="5" fill="url(#gR)"/>
<circle cx="668.8" cy="103.1" r="5" fill="url(#gR)"/>
<circle cx="677.3" cy="123.3" r="5" fill="url(#gR)"/>
<circle cx="685.7" cy="142.3" r="5" fill="url(#gR)"/>
<circle cx="694.2" cy="142.7" r="5" fill="url(#gR)"/>
<circle cx="702.6" cy="140.9" r="5" fill="url(#gR)"/>
<circle cx="711" cy="141.3" r="5" fill="url(#gR)"/>
<circle cx="719.5" cy="142.7" r="5" fill="url(#gR)"/>
<circle cx="727.9" cy="142.3" r="5" fill="url(#gR)"/>
<circle cx="736.4" cy="141.8" r="5" fill="url(#gR)"/>
<circle cx="744.8" cy="144.1" r="5" fill="url(#gR)"/>
<circle cx="753.2" cy="165.2" r="5" fill="url(#gR)"/>
<circle cx="761.7" cy="185.2" r="5" fill="url(#gR)"/>
<circle cx="770.1" cy="185.2" r="5" fill="url(#gR)"/>
<circle cx="778.6" cy="187" r="5" fill="url(#gR)"/>
<circle cx="787" cy="185.8" r="5" fill="url(#gR)"/>
<circle cx="795.4" cy="185.8" r="5" fill="url(#gR)"/>
<circle cx="803.9" cy="186.3" r="5" fill="url(#gR)"/>
<circle cx="812.3" cy="186.3" r="5" fill="url(#gR)"/>
<circle cx="820.8" cy="185.8" r="5" fill="url(#gR)"/>
<circle cx="829.2" cy="185.2" r="5" fill="url(#gR)"/>
<circle cx="837.6" cy="187.3" r="5" fill="url(#gR)"/>
<circle cx="846.1" cy="204.1" r="5" fill="url(#gR)"/>
<circle cx="854.5" cy="213" r="5" fill="url(#gR)"/>
<circle cx="863" cy="213.5" r="5" fill="url(#gR)"/>
<circle cx="871.4" cy="214.9" r="5" fill="url(#gR)"/>
<circle cx="879.8" cy="216.2" r="5" fill="url(#gR)"/>
<circle cx="888.3" cy="216.7" r="5" fill="url(#gR)"/>
<circle cx="896.7" cy="214.3" r="5" fill="url(#gR)"/>
<circle cx="905.2" cy="210.5" r="5" fill="url(#gR)"/>
<circle cx="913.6" cy="213.9" r="5" fill="url(#gR)"/>
<circle cx="922" cy="214.9" r="5" fill="url(#gR)"/>
<circle cx="930.5" cy="228.6" r="5" fill="url(#gR)"/>
<circle cx="938.9" cy="245" r="5" fill="url(#gR)"/>
<circle cx="947.4" cy="245.6" r="5" fill="url(#gR)"/>
<circle cx="955.8" cy="250.1" r="5" fill="url(#gR)"/>
<circle cx="964.2" cy="250.1" r="5" fill="url(#gR)"/>
<circle cx="972.7" cy="250.1" r="5" fill="url(#gR)"/>
<circle cx="981.1" cy="250.1" r="5" fill="url(#gR)"/>
<circle cx="989.6" cy="250.1" r="5" fill="url(#gR)"/>
<circle cx="998" cy="250.1" r="5" fill="url(#gR)"/>
<circle cx="1006.4" cy="250.1" r="5" fill="url(#gR)"/>
<circle cx="1014.9" cy="315.3" r="5" fill="url(#gR)"/>
<circle cx="1023.3" cy="329.5" r="5" fill="url(#gR)"/>
</g>
<circle cx="795.1" cy="63.6" r="5.2" fill="url(#gG)"/>
<circle cx="795.1" cy="94.4" r="5.2" fill="url(#gM)"/>
<circle cx="905.3" cy="63.2" r="5.2" fill="url(#gO)"/>
<circle cx="905.3" cy="93.7" r="5.2" fill="url(#gB)"/>
<circle cx="905.3" cy="124.4" r="5.2" fill="url(#gR)"/>
<text x="823" y="72" font-size="23.5" text-anchor="start">-20 °C</text>
<text x="829.5" y="102.5" font-size="23.5" text-anchor="start">0</text>
<text x="963" y="72" font-size="23.5" text-anchor="end">-10</text>
<text x="962.5" y="102.5" font-size="23.5" text-anchor="end">10</text>
<text x="962" y="132.3" font-size="23.5" text-anchor="end">25</text>
<text x="608" y="82" font-size="23.5" text-anchor="start">0.3 <tspan font-weight="bold">A g<tspan font-size="16.5" dy="-11">-1</tspan></tspan></text>
<text x="695.4" y="126.8" font-size="23.5" text-anchor="start">0.5</text>
<text x="793.7" y="171.7" font-size="23.5" text-anchor="start">1</text>
<text x="878.5" y="206.4" font-size="23.5" text-anchor="start">3</text>
<text x="963.3" y="239.3" font-size="23.5" text-anchor="start">5</text>
<text x="1044.2" y="137.4" font-size="23.5" text-anchor="start">0.3</text>
<g clip-path="url(#cc)">
<polyline points="1247.4,200.1 1255.8,187.8 1264.2,162.3 1272.6,157.4 1281.1,160.2 1289.5,164.1 1297.9,166.2 1306.3,173.7 1314.7,179 1323.1,179.9 1331.5,181.7 1339.9,195.4 1348.3,201 1356.8,201.4 1365.2,189.6 1373.6,177.8 1382,172.5 1390.4,163.7 1398.8,155.6 1407.2,196.6 1415.6,116.5 1424,102 1432.4,92.8 1440.8,87.1 1449.3,87.1 1457.7,84 1466.1,84 1474.5,83.1 1482.9,77.3 1491.3,141 1499.7,114.6 1508.1,107.4 1516.5,104 1524.9,102.1 1533.4,101.2 1541.8,99.5 1550.2,100.4 1558.6,96.5 1567,97.2 1575.4,179.4 1583.8,76.1 1592.2,80.1 1600.6,79.3 1609,78.9 1617.5,80.1 1625.9,78.9 1634.3,77.1 1642.7,78.9 1651.1,78.9 1659.5,75.7 1667.9,223.5 1676.3,223.5 1684.7,234.1 1693.1,227.3 1701.6,234.1 1710,229.6 1718.4,226.4 1726.8,223.5 1735.2,221.9 1743.6,206.1" fill="none" stroke="#d63cf0" stroke-width="2" stroke-linejoin="round" stroke-linecap="round"/>
<circle cx="1247.4" cy="200.1" r="4.4" fill="#fff" stroke="#d63cf0" stroke-width="1.1"/><path d="M1247.4 195.7A4.4 4.4 0 0 1 1247.4 204.5Z" fill="#d63cf0"/>
<circle cx="1255.8" cy="187.8" r="4.4" fill="#fff" stroke="#d63cf0" stroke-width="1.1"/><path d="M1255.8 183.4A4.4 4.4 0 0 1 1255.8 192.2Z" fill="#d63cf0"/>
<circle cx="1264.2" cy="162.3" r="4.4" fill="#fff" stroke="#d63cf0" stroke-width="1.1"/><path d="M1264.2 157.9A4.4 4.4 0 0 1 1264.2 166.7Z" fill="#d63cf0"/>
<circle cx="1272.6" cy="157.4" r="4.4" fill="#fff" stroke="#d63cf0" stroke-width="1.1"/><path d="M1272.6 153A4.4 4.4 0 0 1 1272.6 161.8Z" fill="#d63cf0"/>
<circle cx="1281.1" cy="160.2" r="4.4" fill="#fff" stroke="#d63cf0" stroke-width="1.1"/><path d="M1281.1 155.8A4.4 4.4 0 0 1 1281.1 164.6Z" fill="#d63cf0"/>
<circle cx="1289.5" cy="164.1" r="4.4" fill="#fff" stroke="#d63cf0" stroke-width="1.1"/><path d="M1289.5 159.7A4.4 4.4 0 0 1 1289.5 168.5Z" fill="#d63cf0"/>
<circle cx="1297.9" cy="166.2" r="4.4" fill="#fff" stroke="#d63cf0" stroke-width="1.1"/><path d="M1297.9 161.8A4.4 4.4 0 0 1 1297.9 170.6Z" fill="#d63cf0"/>
<circle cx="1306.3" cy="173.7" r="4.4" fill="#fff" stroke="#d63cf0" stroke-width="1.1"/><path d="M1306.3 169.3A4.4 4.4 0 0 1 1306.3 178.1Z" fill="#d63cf0"/>
<circle cx="1314.7" cy="179" r="4.4" fill="#fff" stroke="#d63cf0" stroke-width="1.1"/><path d="M1314.7 174.6A4.4 4.4 0 0 1 1314.7 183.4Z" fill="#d63cf0"/>
<circle cx="1323.1" cy="179.9" r="4.4" fill="#fff" stroke="#d63cf0" stroke-width="1.1"/><path d="M1323.1 175.5A4.4 4.4 0 0 1 1323.1 184.3Z" fill="#d63cf0"/>
<circle cx="1331.5" cy="181.7" r="4.4" fill="#fff" stroke="#d63cf0" stroke-width="1.1"/><path d="M1331.5 177.3A4.4 4.4 0 0 1 1331.5 186.1Z" fill="#d63cf0"/>
<circle cx="1339.9" cy="195.4" r="4.4" fill="#fff" stroke="#d63cf0" stroke-width="1.1"/><path d="M1339.9 191A4.4 4.4 0 0 1 1339.9 199.8Z" fill="#d63cf0"/>
<circle cx="1348.3" cy="201" r="4.4" fill="#fff" stroke="#d63cf0" stroke-width="1.1"/><path d="M1348.3 196.6A4.4 4.4 0 0 1 1348.3 205.4Z" fill="#d63cf0"/>
<circle cx="1356.8" cy="201.4" r="4.4" fill="#fff" stroke="#d63cf0" stroke-width="1.1"/><path d="M1356.8 197A4.4 4.4 0 0 1 1356.8 205.8Z" fill="#d63cf0"/>
<circle cx="1365.2" cy="189.6" r="4.4" fill="#fff" stroke="#d63cf0" stroke-width="1.1"/><path d="M1365.2 185.2A4.4 4.4 0 0 1 1365.2 194Z" fill="#d63cf0"/>
<circle cx="1373.6" cy="177.8" r="4.4" fill="#fff" stroke="#d63cf0" stroke-width="1.1"/><path d="M1373.6 173.4A4.4 4.4 0 0 1 1373.6 182.2Z" fill="#d63cf0"/>
<circle cx="1382" cy="172.5" r="4.4" fill="#fff" stroke="#d63cf0" stroke-width="1.1"/><path d="M1382 168.1A4.4 4.4 0 0 1 1382 176.9Z" fill="#d63cf0"/>
<circle cx="1390.4" cy="163.7" r="4.4" fill="#fff" stroke="#d63cf0" stroke-width="1.1"/><path d="M1390.4 159.3A4.4 4.4 0 0 1 1390.4 168.1Z" fill="#d63cf0"/>
<circle cx="1398.8" cy="155.6" r="4.4" fill="#fff" stroke="#d63cf0" stroke-width="1.1"/><path d="M1398.8 151.2A4.4 4.4 0 0 1 1398.8 160Z" fill="#d63cf0"/>
<circle cx="1407.2" cy="196.6" r="4.4" fill="#fff" stroke="#d63cf0" stroke-width="1.1"/><path d="M1407.2 192.2A4.4 4.4 0 0 1 1407.2 201Z" fill="#d63cf0"/>
<circle cx="1415.6" cy="116.5" r="4.4" fill="#fff" stroke="#d63cf0" stroke-width="1.1"/><path d="M1415.6 112.1A4.4 4.4 0 0 1 1415.6 120.9Z" fill="#d63cf0"/>
<circle cx="1424" cy="102" r="4.4" fill="#fff" stroke="#d63cf0" stroke-width="1.1"/><path d="M1424 97.6A4.4 4.4 0 0 1 1424 106.4Z" fill="#d63cf0"/>
<circle cx="1432.4" cy="92.8" r="4.4" fill="#fff" stroke="#d63cf0" stroke-width="1.1"/><path d="M1432.4 88.4A4.4 4.4 0 0 1 1432.4 97.2Z" fill="#d63cf0"/>
<circle cx="1440.8" cy="87.1" r="4.4" fill="#fff" stroke="#d63cf0" stroke-width="1.1"/><path d="M1440.8 82.7A4.4 4.4 0 0 1 1440.8 91.5Z" fill="#d63cf0"/>
<circle cx="1449.3" cy="87.1" r="4.4" fill="#fff" stroke="#d63cf0" stroke-width="1.1"/><path d="M1449.3 82.7A4.4 4.4 0 0 1 1449.3 91.5Z" fill="#d63cf0"/>
<circle cx="1457.7" cy="84" r="4.4" fill="#fff" stroke="#d63cf0" stroke-width="1.1"/><path d="M1457.7 79.6A4.4 4.4 0 0 1 1457.7 88.4Z" fill="#d63cf0"/>
<circle cx="1466.1" cy="84" r="4.4" fill="#fff" stroke="#d63cf0" stroke-width="1.1"/><path d="M1466.1 79.6A4.4 4.4 0 0 1 1466.1 88.4Z" fill="#d63cf0"/>
<circle cx="1474.5" cy="83.1" r="4.4" fill="#fff" stroke="#d63cf0" stroke-width="1.1"/><path d="M1474.5 78.7A4.4 4.4 0 0 1 1474.5 87.5Z" fill="#d63cf0"/>
<circle cx="1482.9" cy="77.3" r="4.4" fill="#fff" stroke="#d63cf0" stroke-width="1.1"/><path d="M1482.9 72.9A4.4 4.4 0 0 1 1482.9 81.7Z" fill="#d63cf0"/>
<circle cx="1491.3" cy="141" r="4.4" fill="#fff" stroke="#d63cf0" stroke-width="1.1"/><path d="M1491.3 136.6A4.4 4.4 0 0 1 1491.3 145.4Z" fill="#d63cf0"/>
<circle cx="1499.7" cy="114.6" r="4.4" fill="#fff" stroke="#d63cf0" stroke-width="1.1"/><path d="M1499.7 110.2A4.4 4.4 0 0 1 1499.7 119Z" fill="#d63cf0"/>
<circle cx="1508.1" cy="107.4" r="4.4" fill="#fff" stroke="#d63cf0" stroke-width="1.1"/><path d="M1508.1 103A4.4 4.4 0 0 1 1508.1 111.8Z" fill="#d63cf0"/>
<circle cx="1516.5" cy="104" r="4.4" fill="#fff" stroke="#d63cf0" stroke-width="1.1"/><path d="M1516.5 99.6A4.4 4.4 0 0 1 1516.5 108.4Z" fill="#d63cf0"/>
<circle cx="1524.9" cy="102.1" r="4.4" fill="#fff" stroke="#d63cf0" stroke-width="1.1"/><path d="M1524.9 97.7A4.4 4.4 0 0 1 1524.9 106.5Z" fill="#d63cf0"/>
<circle cx="1533.4" cy="101.2" r="4.4" fill="#fff" stroke="#d63cf0" stroke-width="1.1"/><path d="M1533.4 96.8A4.4 4.4 0 0 1 1533.4 105.6Z" fill="#d63cf0"/>
<circle cx="1541.8" cy="99.5" r="4.4" fill="#fff" stroke="#d63cf0" stroke-width="1.1"/><path d="M1541.8 95.1A4.4 4.4 0 0 1 1541.8 103.9Z" fill="#d63cf0"/>
<circle cx="1550.2" cy="100.4" r="4.4" fill="#fff" stroke="#d63cf0" stroke-width="1.1"/><path d="M1550.2 96A4.4 4.4 0 0 1 1550.2 104.8Z" fill="#d63cf0"/>
<circle cx="1558.6" cy="96.5" r="4.4" fill="#fff" stroke="#d63cf0" stroke-width="1.1"/><path d="M1558.6 92.1A4.4 4.4 0 0 1 1558.6 100.9Z" fill="#d63cf0"/>
<circle cx="1567" cy="97.2" r="4.4" fill="#fff" stroke="#d63cf0" stroke-width="1.1"/><path d="M1567 92.8A4.4 4.4 0 0 1 1567 101.6Z" fill="#d63cf0"/>
<circle cx="1575.4" cy="179.4" r="4.4" fill="#fff" stroke="#d63cf0" stroke-width="1.1"/><path d="M1575.4 175A4.4 4.4 0 0 1 1575.4 183.8Z" fill="#d63cf0"/>
<circle cx="1583.8" cy="76.1" r="4.4" fill="#fff" stroke="#d63cf0" stroke-width="1.1"/><path d="M1583.8 71.7A4.4 4.4 0 0 1 1583.8 80.5Z" fill="#d63cf0"/>
<circle cx="1592.2" cy="80.1" r="4.4" fill="#fff" stroke="#d63cf0" stroke-width="1.1"/><path d="M1592.2 75.7A4.4 4.4 0 0 1 1592.2 84.5Z" fill="#d63cf0"/>
<circle cx="1600.6" cy="79.3" r="4.4" fill="#fff" stroke="#d63cf0" stroke-width="1.1"/><path d="M1600.6 74.9A4.4 4.4 0 0 1 1600.6 83.7Z" fill="#d63cf0"/>
<circle cx="1609" cy="78.9" r="4.4" fill="#fff" stroke="#d63cf0" stroke-width="1.1"/><path d="M1609 74.5A4.4 4.4 0 0 1 1609 83.3Z" fill="#d63cf0"/>
<circle cx="1617.5" cy="80.1" r="4.4" fill="#fff" stroke="#d63cf0" stroke-width="1.1"/><path d="M1617.5 75.7A4.4 4.4 0 0 1 1617.5 84.5Z" fill="#d63cf0"/>
<circle cx="1625.9" cy="78.9" r="4.4" fill="#fff" stroke="#d63cf0" stroke-width="1.1"/><path d="M1625.9 74.5A4.4 4.4 0 0 1 1625.9 83.3Z" fill="#d63cf0"/>
<circle cx="1634.3" cy="77.1" r="4.4" fill="#fff" stroke="#d63cf0" stroke-width="1.1"/><path d="M1634.3 72.7A4.4 4.4 0 0 1 1634.3 81.5Z" fill="#d63cf0"/>
<circle cx="1642.7" cy="78.9" r="4.4" fill="#fff" stroke="#d63cf0" stroke-width="1.1"/><path d="M1642.7 74.5A4.4 4.4 0 0 1 1642.7 83.3Z" fill="#d63cf0"/>
<circle cx="1651.1" cy="78.9" r="4.4" fill="#fff" stroke="#d63cf0" stroke-width="1.1"/><path d="M1651.1 74.5A4.4 4.4 0 0 1 1651.1 83.3Z" fill="#d63cf0"/>
<circle cx="1659.5" cy="75.7" r="4.4" fill="#fff" stroke="#d63cf0" stroke-width="1.1"/><path d="M1659.5 71.3A4.4 4.4 0 0 1 1659.5 80.1Z" fill="#d63cf0"/>
<circle cx="1667.9" cy="223.5" r="4.4" fill="#fff" stroke="#d63cf0" stroke-width="1.1"/><path d="M1667.9 219.1A4.4 4.4 0 0 1 1667.9 227.9Z" fill="#d63cf0"/>
<circle cx="1676.3" cy="223.5" r="4.4" fill="#fff" stroke="#d63cf0" stroke-width="1.1"/><path d="M1676.3 219.1A4.4 4.4 0 0 1 1676.3 227.9Z" fill="#d63cf0"/>
<circle cx="1684.7" cy="234.1" r="4.4" fill="#fff" stroke="#d63cf0" stroke-width="1.1"/><path d="M1684.7 229.7A4.4 4.4 0 0 1 1684.7 238.5Z" fill="#d63cf0"/>
<circle cx="1693.1" cy="227.3" r="4.4" fill="#fff" stroke="#d63cf0" stroke-width="1.1"/><path d="M1693.1 222.9A4.4 4.4 0 0 1 1693.1 231.7Z" fill="#d63cf0"/>
<circle cx="1701.6" cy="234.1" r="4.4" fill="#fff" stroke="#d63cf0" stroke-width="1.1"/><path d="M1701.6 229.7A4.4 4.4 0 0 1 1701.6 238.5Z" fill="#d63cf0"/>
<circle cx="1710" cy="229.6" r="4.4" fill="#fff" stroke="#d63cf0" stroke-width="1.1"/><path d="M1710 225.2A4.4 4.4 0 0 1 1710 234Z" fill="#d63cf0"/>
<circle cx="1718.4" cy="226.4" r="4.4" fill="#fff" stroke="#d63cf0" stroke-width="1.1"/><path d="M1718.4 222A4.4 4.4 0 0 1 1718.4 230.8Z" fill="#d63cf0"/>
<circle cx="1726.8" cy="223.5" r="4.4" fill="#fff" stroke="#d63cf0" stroke-width="1.1"/><path d="M1726.8 219.1A4.4 4.4 0 0 1 1726.8 227.9Z" fill="#d63cf0"/>
<circle cx="1735.2" cy="221.9" r="4.4" fill="#fff" stroke="#d63cf0" stroke-width="1.1"/><path d="M1735.2 217.5A4.4 4.4 0 0 1 1735.2 226.3Z" fill="#d63cf0"/>
<circle cx="1743.6" cy="206.1" r="4.4" fill="#fff" stroke="#d63cf0" stroke-width="1.1"/><path d="M1743.6 201.7A4.4 4.4 0 0 1 1743.6 210.5Z" fill="#d63cf0"/>
<polyline points="1247.4,212.4 1255.8,212.4 1264.2,210.7 1272.6,209.8 1281.1,211.9 1289.5,211.2 1297.9,213 1306.3,210.2 1314.7,208.4 1323.1,211.9 1331.5,250.3 1339.9,190.8 1348.3,193.6 1356.8,191.3 1365.2,193.6 1373.6,194.9 1382,190.8 1390.4,193.1 1398.8,192.2 1407.2,194 1415.6,196.6 1424,170.8 1432.4,171.5 1440.8,175 1449.3,177.3 1457.7,177.8 1466.1,179.6 1474.5,178.1 1482.9,179 1491.3,178.2 1499.7,179.6 1508.1,203.1 1516.5,144.3 1524.9,156.3 1533.4,159.7 1541.8,165.5 1550.2,164 1558.6,168.8 1567,168.3 1575.4,171.5 1583.8,167 1592.2,172.2 1600.6,170.8 1609,169.9 1617.5,171.5 1625.9,172.2 1634.3,172.2 1642.7,171.5 1651.1,170.8 1659.5,210.6 1667.9,269.8 1676.3,273.2 1684.7,279.3 1693.1,283.4 1701.6,290.2 1710,286.1 1718.4,275.5 1726.8,267.1 1735.2,263.5 1743.6,293.6" fill="none" stroke="#5b70f0" stroke-width="2" stroke-linejoin="round" stroke-linecap="round"/>
<circle cx="1247.4" cy="212.4" r="4.4" fill="#fff" stroke="#5b70f0" stroke-width="1.1"/><path d="M1247.4 208A4.4 4.4 0 0 1 1247.4 216.8Z" fill="#5b70f0"/>
<circle cx="1255.8" cy="212.4" r="4.4" fill="#fff" stroke="#5b70f0" stroke-width="1.1"/><path d="M1255.8 208A4.4 4.4 0 0 1 1255.8 216.8Z" fill="#5b70f0"/>
<circle cx="1264.2" cy="210.7" r="4.4" fill="#fff" stroke="#5b70f0" stroke-width="1.1"/><path d="M1264.2 206.3A4.4 4.4 0 0 1 1264.2 215.1Z" fill="#5b70f0"/>
<circle cx="1272.6" cy="209.8" r="4.4" fill="#fff" stroke="#5b70f0" stroke-width="1.1"/><path d="M1272.6 205.4A4.4 4.4 0 0 1 1272.6 214.2Z" fill="#5b70f0"/>
<circle cx="1281.1" cy="211.9" r="4.4" fill="#fff" stroke="#5b70f0" stroke-width="1.1"/><path d="M1281.1 207.5A4.4 4.4 0 0 1 1281.1 216.3Z" fill="#5b70f0"/>
<circle cx="1289.5" cy="211.2" r="4.4" fill="#fff" stroke="#5b70f0" stroke-width="1.1"/><path d="M1289.5 206.8A4.4 4.4 0 0 1 1289.5 215.6Z" fill="#5b70f0"/>
<circle cx="1297.9" cy="213" r="4.4" fill="#fff" stroke="#5b70f0" stroke-width="1.1"/><path d="M1297.9 208.6A4.4 4.4 0 0 1 1297.9 217.4Z" fill="#5b70f0"/>
<circle cx="1306.3" cy="210.2" r="4.4" fill="#fff" stroke="#5b70f0" stroke-width="1.1"/><path d="M1306.3 205.8A4.4 4.4 0 0 1 1306.3 214.6Z" fill="#5b70f0"/>
<circle cx="1314.7" cy="208.4" r="4.4" fill="#fff" stroke="#5b70f0" stroke-width="1.1"/><path d="M1314.7 204A4.4 4.4 0 0 1 1314.7 212.8Z" fill="#5b70f0"/>
<circle cx="1323.1" cy="211.9" r="4.4" fill="#fff" stroke="#5b70f0" stroke-width="1.1"/><path d="M1323.1 207.5A4.4 4.4 0 0 1 1323.1 216.3Z" fill="#5b70f0"/>
<circle cx="1331.5" cy="250.3" r="4.4" fill="#fff" stroke="#5b70f0" stroke-width="1.1"/><path d="M1331.5 245.9A4.4 4.4 0 0 1 1331.5 254.7Z" fill="#5b70f0"/>
<circle cx="1339.9" cy="190.8" r="4.4" fill="#fff" stroke="#5b70f0" stroke-width="1.1"/><path d="M1339.9 186.4A4.4 4.4 0 0 1 1339.9 195.2Z" fill="#5b70f0"/>
<circle cx="1348.3" cy="193.6" r="4.4" fill="#fff" stroke="#5b70f0" stroke-width="1.1"/><path d="M1348.3 189.2A4.4 4.4 0 0 1 1348.3 198Z" fill="#5b70f0"/>
<circle cx="1356.8" cy="191.3" r="4.4" fill="#fff" stroke="#5b70f0" stroke-width="1.1"/><path d="M1356.8 186.9A4.4 4.4 0 0 1 1356.8 195.7Z" fill="#5b70f0"/>
<circle cx="1365.2" cy="193.6" r="4.4" fill="#fff" stroke="#5b70f0" stroke-width="1.1"/><path d="M1365.2 189.2A4.4 4.4 0 0 1 1365.2 198Z" fill="#5b70f0"/>
<circle cx="1373.6" cy="194.9" r="4.4" fill="#fff" stroke="#5b70f0" stroke-width="1.1"/><path d="M1373.6 190.5A4.4 4.4 0 0 1 1373.6 199.3Z" fill="#5b70f0"/>
<circle cx="1382" cy="190.8" r="4.4" fill="#fff" stroke="#5b70f0" stroke-width="1.1"/><path d="M1382 186.4A4.4 4.4 0 0 1 1382 195.2Z" fill="#5b70f0"/>
<circle cx="1390.4" cy="193.1" r="4.4" fill="#fff" stroke="#5b70f0" stroke-width="1.1"/><path d="M1390.4 188.7A4.4 4.4 0 0 1 1390.4 197.5Z" fill="#5b70f0"/>
<circle cx="1398.8" cy="192.2" r="4.4" fill="#fff" stroke="#5b70f0" stroke-width="1.1"/><path d="M1398.8 187.8A4.4 4.4 0 0 1 1398.8 196.6Z" fill="#5b70f0"/>
<circle cx="1407.2" cy="194" r="4.4" fill="#fff" stroke="#5b70f0" stroke-width="1.1"/><path d="M1407.2 189.6A4.4 4.4 0 0 1 1407.2 198.4Z" fill="#5b70f0"/>
<circle cx="1415.6" cy="196.6" r="4.4" fill="#fff" stroke="#5b70f0" stroke-width="1.1"/><path d="M1415.6 192.2A4.4 4.4 0 0 1 1415.6 201Z" fill="#5b70f0"/>
<circle cx="1424" cy="170.8" r="4.4" fill="#fff" stroke="#5b70f0" stroke-width="1.1"/><path d="M1424 166.4A4.4 4.4 0 0 1 1424 175.2Z" fill="#5b70f0"/>
<circle cx="1432.4" cy="171.5" r="4.4" fill="#fff" stroke="#5b70f0" stroke-width="1.1"/><path d="M1432.4 167.1A4.4 4.4 0 0 1 1432.4 175.9Z" fill="#5b70f0"/>
<circle cx="1440.8" cy="175" r="4.4" fill="#fff" stroke="#5b70f0" stroke-width="1.1"/><path d="M1440.8 170.6A4.4 4.4 0 0 1 1440.8 179.4Z" fill="#5b70f0"/>
<circle cx="1449.3" cy="177.3" r="4.4" fill="#fff" stroke="#5b70f0" stroke-width="1.1"/><path d="M1449.3 172.9A4.4 4.4 0 0 1 1449.3 181.7Z" fill="#5b70f0"/>
<circle cx="1457.7" cy="177.8" r="4.4" fill="#fff" stroke="#5b70f0" stroke-width="1.1"/><path d="M1457.7 173.4A4.4 4.4 0 0 1 1457.7 182.2Z" fill="#5b70f0"/>
<circle cx="1466.1" cy="179.6" r="4.4" fill="#fff" stroke="#5b70f0" stroke-width="1.1"/><path d="M1466.1 175.2A4.4 4.4 0 0 1 1466.1 184Z" fill="#5b70f0"/>
<circle cx="1474.5" cy="178.1" r="4.4" fill="#fff" stroke="#5b70f0" stroke-width="1.1"/><path d="M1474.5 173.7A4.4 4.4 0 0 1 1474.5 182.5Z" fill="#5b70f0"/>
<circle cx="1482.9" cy="179" r="4.4" fill="#fff" stroke="#5b70f0" stroke-width="1.1"/><path d="M1482.9 174.6A4.4 4.4 0 0 1 1482.9 183.4Z" fill="#5b70f0"/>
<circle cx="1491.3" cy="178.2" r="4.4" fill="#fff" stroke="#5b70f0" stroke-width="1.1"/><path d="M1491.3 173.8A4.4 4.4 0 0 1 1491.3 182.6Z" fill="#5b70f0"/>
<circle cx="1499.7" cy="179.6" r="4.4" fill="#fff" stroke="#5b70f0" stroke-width="1.1"/><path d="M1499.7 175.2A4.4 4.4 0 0 1 1499.7 184Z" fill="#5b70f0"/>
<circle cx="1508.1" cy="203.1" r="4.4" fill="#fff" stroke="#5b70f0" stroke-width="1.1"/><path d="M1508.1 198.7A4.4 4.4 0 0 1 1508.1 207.5Z" fill="#5b70f0"/>
<circle cx="1516.5" cy="144.3" r="4.4" fill="#fff" stroke="#5b70f0" stroke-width="1.1"/><path d="M1516.5 139.9A4.4 4.4 0 0 1 1516.5 148.7Z" fill="#5b70f0"/>
<circle cx="1524.9" cy="156.3" r="4.4" fill="#fff" stroke="#5b70f0" stroke-width="1.1"/><path d="M1524.9 151.9A4.4 4.4 0 0 1 1524.9 160.7Z" fill="#5b70f0"/>
<circle cx="1533.4" cy="159.7" r="4.4" fill="#fff" stroke="#5b70f0" stroke-width="1.1"/><path d="M1533.4 155.3A4.4 4.4 0 0 1 1533.4 164.1Z" fill="#5b70f0"/>
<circle cx="1541.8" cy="165.5" r="4.4" fill="#fff" stroke="#5b70f0" stroke-width="1.1"/><path d="M1541.8 161.1A4.4 4.4 0 0 1 1541.8 169.9Z" fill="#5b70f0"/>
<circle cx="1550.2" cy="164" r="4.4" fill="#fff" stroke="#5b70f0" stroke-width="1.1"/><path d="M1550.2 159.6A4.4 4.4 0 0 1 1550.2 168.4Z" fill="#5b70f0"/>
<circle cx="1558.6" cy="168.8" r="4.4" fill="#fff" stroke="#5b70f0" stroke-width="1.1"/><path d="M1558.6 164.4A4.4 4.4 0 0 1 1558.6 173.2Z" fill="#5b70f0"/>
<circle cx="1567" cy="168.3" r="4.4" fill="#fff" stroke="#5b70f0" stroke-width="1.1"/><path d="M1567 163.9A4.4 4.4 0 0 1 1567 172.7Z" fill="#5b70f0"/>
<circle cx="1575.4" cy="171.5" r="4.4" fill="#fff" stroke="#5b70f0" stroke-width="1.1"/><path d="M1575.4 167.1A4.4 4.4 0 0 1 1575.4 175.9Z" fill="#5b70f0"/>
<circle cx="1583.8" cy="167" r="4.4" fill="#fff" stroke="#5b70f0" stroke-width="1.1"/><path d="M1583.8 162.6A4.4 4.4 0 0 1 1583.8 171.4Z" fill="#5b70f0"/>
<circle cx="1592.2" cy="172.2" r="4.4" fill="#fff" stroke="#5b70f0" stroke-width="1.1"/><path d="M1592.2 167.8A4.4 4.4 0 0 1 1592.2 176.6Z" fill="#5b70f0"/>
<circle cx="1600.6" cy="170.8" r="4.4" fill="#fff" stroke="#5b70f0" stroke-width="1.1"/><path d="M1600.6 166.4A4.4 4.4 0 0 1 1600.6 175.2Z" fill="#5b70f0"/>
<circle cx="1609" cy="169.9" r="4.4" fill="#fff" stroke="#5b70f0" stroke-width="1.1"/><path d="M1609 165.5A4.4 4.4 0 0 1 1609 174.3Z" fill="#5b70f0"/>
<circle cx="1617.5" cy="171.5" r="4.4" fill="#fff" stroke="#5b70f0" stroke-width="1.1"/><path d="M1617.5 167.1A4.4 4.4 0 0 1 1617.5 175.9Z" fill="#5b70f0"/>
<circle cx="1625.9" cy="172.2" r="4.4" fill="#fff" stroke="#5b70f0" stroke-width="1.1"/><path d="M1625.9 167.8A4.4 4.4 0 0 1 1625.9 176.6Z" fill="#5b70f0"/>
<circle cx="1634.3" cy="172.2" r="4.4" fill="#fff" stroke="#5b70f0" stroke-width="1.1"/><path d="M1634.3 167.8A4.4 4.4 0 0 1 1634.3 176.6Z" fill="#5b70f0"/>
<circle cx="1642.7" cy="171.5" r="4.4" fill="#fff" stroke="#5b70f0" stroke-width="1.1"/><path d="M1642.7 167.1A4.4 4.4 0 0 1 1642.7 175.9Z" fill="#5b70f0"/>
<circle cx="1651.1" cy="170.8" r="4.4" fill="#fff" stroke="#5b70f0" stroke-width="1.1"/><path d="M1651.1 166.4A4.4 4.4 0 0 1 1651.1 175.2Z" fill="#5b70f0"/>
<circle cx="1659.5" cy="210.6" r="4.4" fill="#fff" stroke="#5b70f0" stroke-width="1.1"/><path d="M1659.5 206.2A4.4 4.4 0 0 1 1659.5 215Z" fill="#5b70f0"/>
<circle cx="1667.9" cy="269.8" r="4.4" fill="#fff" stroke="#5b70f0" stroke-width="1.1"/><path d="M1667.9 265.4A4.4 4.4 0 0 1 1667.9 274.2Z" fill="#5b70f0"/>
<circle cx="1676.3" cy="273.2" r="4.4" fill="#fff" stroke="#5b70f0" stroke-width="1.1"/><path d="M1676.3 268.8A4.4 4.4 0 0 1 1676.3 277.6Z" fill="#5b70f0"/>
<circle cx="1684.7" cy="279.3" r="4.4" fill="#fff" stroke="#5b70f0" stroke-width="1.1"/><path d="M1684.7 274.9A4.4 4.4 0 0 1 1684.7 283.7Z" fill="#5b70f0"/>
<circle cx="1693.1" cy="283.4" r="4.4" fill="#fff" stroke="#5b70f0" stroke-width="1.1"/><path d="M1693.1 279A4.4 4.4 0 0 1 1693.1 287.8Z" fill="#5b70f0"/>
<circle cx="1701.6" cy="290.2" r="4.4" fill="#fff" stroke="#5b70f0" stroke-width="1.1"/><path d="M1701.6 285.8A4.4 4.4 0 0 1 1701.6 294.6Z" fill="#5b70f0"/>
<circle cx="1710" cy="286.1" r="4.4" fill="#fff" stroke="#5b70f0" stroke-width="1.1"/><path d="M1710 281.7A4.4 4.4 0 0 1 1710 290.5Z" fill="#5b70f0"/>
<circle cx="1718.4" cy="275.5" r="4.4" fill="#fff" stroke="#5b70f0" stroke-width="1.1"/><path d="M1718.4 271.1A4.4 4.4 0 0 1 1718.4 279.9Z" fill="#5b70f0"/>
<circle cx="1726.8" cy="267.1" r="4.4" fill="#fff" stroke="#5b70f0" stroke-width="1.1"/><path d="M1726.8 262.7A4.4 4.4 0 0 1 1726.8 271.5Z" fill="#5b70f0"/>
<circle cx="1735.2" cy="263.5" r="4.4" fill="#fff" stroke="#5b70f0" stroke-width="1.1"/><path d="M1735.2 259.1A4.4 4.4 0 0 1 1735.2 267.9Z" fill="#5b70f0"/>
<circle cx="1743.6" cy="293.6" r="4.4" fill="#fff" stroke="#5b70f0" stroke-width="1.1"/><path d="M1743.6 289.2A4.4 4.4 0 0 1 1743.6 298Z" fill="#5b70f0"/>
<polyline points="1247.4,292.5 1255.8,276 1264.2,269 1272.6,262.6 1281.1,262.6 1289.5,271 1297.9,263.8 1306.3,255.6 1314.7,249 1323.1,238.8 1331.5,244.1 1339.9,238 1348.3,244.1 1356.8,247.1 1365.2,248.5 1373.6,240.6 1382,226.5 1390.4,225.3 1398.8,230.6 1407.2,217.7 1415.6,212.4 1424,201.9 1432.4,205.9 1440.8,201 1449.3,205.9 1457.7,214.2 1466.1,205.9 1474.5,211.6 1482.9,201.9 1491.3,190.8 1499.7,187.5 1508.1,187.3 1516.5,183.5 1524.9,186.2 1533.4,183.5 1541.8,185 1550.2,184.4 1558.6,185.7 1567,186.6 1575.4,183.9 1583.8,185.7 1592.2,187.3 1600.6,183.9 1609,185 1617.5,186.2 1625.9,186.2 1634.3,185.7 1642.7,182.8 1651.1,183.9 1659.5,185.7 1667.9,420" fill="none" stroke="#f04a6a" stroke-width="2" stroke-linejoin="round" stroke-linecap="round"/>
<circle cx="1247.4" cy="292.5" r="4.4" fill="#fff" stroke="#f04a6a" stroke-width="1.1"/><path d="M1247.4 288.1A4.4 4.4 0 0 1 1247.4 296.9Z" fill="#f04a6a"/>
<circle cx="1255.8" cy="276" r="4.4" fill="#fff" stroke="#f04a6a" stroke-width="1.1"/><path d="M1255.8 271.6A4.4 4.4 0 0 1 1255.8 280.4Z" fill="#f04a6a"/>
<circle cx="1264.2" cy="269" r="4.4" fill="#fff" stroke="#f04a6a" stroke-width="1.1"/><path d="M1264.2 264.6A4.4 4.4 0 0 1 1264.2 273.4Z" fill="#f04a6a"/>
<circle cx="1272.6" cy="262.6" r="4.4" fill="#fff" stroke="#f04a6a" stroke-width="1.1"/><path d="M1272.6 258.2A4.4 4.4 0 0 1 1272.6 267Z" fill="#f04a6a"/>
<circle cx="1281.1" cy="262.6" r="4.4" fill="#fff" stroke="#f04a6a" stroke-width="1.1"/><path d="M1281.1 258.2A4.4 4.4 0 0 1 1281.1 267Z" fill="#f04a6a"/>
<circle cx="1289.5" cy="271" r="4.4" fill="#fff" stroke="#f04a6a" stroke-width="1.1"/><path d="M1289.5 266.6A4.4 4.4 0 0 1 1289.5 275.4Z" fill="#f04a6a"/>
<circle cx="1297.9" cy="263.8" r="4.4" fill="#fff" stroke="#f04a6a" stroke-width="1.1"/><path d="M1297.9 259.4A4.4 4.4 0 0 1 1297.9 268.2Z" fill="#f04a6a"/>
<circle cx="1306.3" cy="255.6" r="4.4" fill="#fff" stroke="#f04a6a" stroke-width="1.1"/><path d="M1306.3 251.2A4.4 4.4 0 0 1 1306.3 260Z" fill="#f04a6a"/>
<circle cx="1314.7" cy="249" r="4.4" fill="#fff" stroke="#f04a6a" stroke-width="1.1"/><path d="M1314.7 244.6A4.4 4.4 0 0 1 1314.7 253.4Z" fill="#f04a6a"/>
<circle cx="1323.1" cy="238.8" r="4.4" fill="#fff" stroke="#f04a6a" stroke-width="1.1"/><path d="M1323.1 234.4A4.4 4.4 0 0 1 1323.1 243.2Z" fill="#f04a6a"/>
<circle cx="1331.5" cy="244.1" r="4.4" fill="#fff" stroke="#f04a6a" stroke-width="1.1"/><path d="M1331.5 239.7A4.4 4.4 0 0 1 1331.5 248.5Z" fill="#f04a6a"/>
<circle cx="1339.9" cy="238" r="4.4" fill="#fff" stroke="#f04a6a" stroke-width="1.1"/><path d="M1339.9 233.6A4.4 4.4 0 0 1 1339.9 242.4Z" fill="#f04a6a"/>
<circle cx="1348.3" cy="244.1" r="4.4" fill="#fff" stroke="#f04a6a" stroke-width="1.1"/><path d="M1348.3 239.7A4.4 4.4 0 0 1 1348.3 248.5Z" fill="#f04a6a"/>
<circle cx="1356.8" cy="247.1" r="4.4" fill="#fff" stroke="#f04a6a" stroke-width="1.1"/><path d="M1356.8 242.7A4.4 4.4 0 0 1 1356.8 251.5Z" fill="#f04a6a"/>
<circle cx="1365.2" cy="248.5" r="4.4" fill="#fff" stroke="#f04a6a" stroke-width="1.1"/><path d="M1365.2 244.1A4.4 4.4 0 0 1 1365.2 252.9Z" fill="#f04a6a"/>
<circle cx="1373.6" cy="240.6" r="4.4" fill="#fff" stroke="#f04a6a" stroke-width="1.1"/><path d="M1373.6 236.2A4.4 4.4 0 0 1 1373.6 245Z" fill="#f04a6a"/>
<circle cx="1382" cy="226.5" r="4.4" fill="#fff" stroke="#f04a6a" stroke-width="1.1"/><path d="M1382 222.1A4.4 4.4 0 0 1 1382 230.9Z" fill="#f04a6a"/>
<circle cx="1390.4" cy="225.3" r="4.4" fill="#fff" stroke="#f04a6a" stroke-width="1.1"/><path d="M1390.4 220.9A4.4 4.4 0 0 1 1390.4 229.7Z" fill="#f04a6a"/>
<circle cx="1398.8" cy="230.6" r="4.4" fill="#fff" stroke="#f04a6a" stroke-width="1.1"/><path d="M1398.8 226.2A4.4 4.4 0 0 1 1398.8 235Z" fill="#f04a6a"/>
<circle cx="1407.2" cy="217.7" r="4.4" fill="#fff" stroke="#f04a6a" stroke-width="1.1"/><path d="M1407.2 213.3A4.4 4.4 0 0 1 1407.2 222.1Z" fill="#f04a6a"/>
<circle cx="1415.6" cy="212.4" r="4.4" fill="#fff" stroke="#f04a6a" stroke-width="1.1"/><path d="M1415.6 208A4.4 4.4 0 0 1 1415.6 216.8Z" fill="#f04a6a"/>
<circle cx="1424" cy="201.9" r="4.4" fill="#fff" stroke="#f04a6a" stroke-width="1.1"/><path d="M1424 197.5A4.4 4.4 0 0 1 1424 206.3Z" fill="#f04a6a"/>
<circle cx="1432.4" cy="205.9" r="4.4" fill="#fff" stroke="#f04a6a" stroke-width="1.1"/><path d="M1432.4 201.5A4.4 4.4 0 0 1 1432.4 210.3Z" fill="#f04a6a"/>
<circle cx="1440.8" cy="201" r="4.4" fill="#fff" stroke="#f04a6a" stroke-width="1.1"/><path d="M1440.8 196.6A4.4 4.4 0 0 1 1440.8 205.4Z" fill="#f04a6a"/>
<circle cx="1449.3" cy="205.9" r="4.4" fill="#fff" stroke="#f04a6a" stroke-width="1.1"/><path d="M1449.3 201.5A4.4 4.4 0 0 1 1449.3 210.3Z" fill="#f04a6a"/>
<circle cx="1457.7" cy="214.2" r="4.4" fill="#fff" stroke="#f04a6a" stroke-width="1.1"/><path d="M1457.7 209.8A4.4 4.4 0 0 1 1457.7 218.6Z" fill="#f04a6a"/>
<circle cx="1466.1" cy="205.9" r="4.4" fill="#fff" stroke="#f04a6a" stroke-width="1.1"/><path d="M1466.1 201.5A4.4 4.4 0 0 1 1466.1 210.3Z" fill="#f04a6a"/>
<circle cx="1474.5" cy="211.6" r="4.4" fill="#fff" stroke="#f04a6a" stroke-width="1.1"/><path d="M1474.5 207.2A4.4 4.4 0 0 1 1474.5 216Z" fill="#f04a6a"/>
<circle cx="1482.9" cy="201.9" r="4.4" fill="#fff" stroke="#f04a6a" stroke-width="1.1"/><path d="M1482.9 197.5A4.4 4.4 0 0 1 1482.9 206.3Z" fill="#f04a6a"/>
<circle cx="1491.3" cy="190.8" r="4.4" fill="#fff" stroke="#f04a6a" stroke-width="1.1"/><path d="M1491.3 186.4A4.4 4.4 0 0 1 1491.3 195.2Z" fill="#f04a6a"/>
<circle cx="1499.7" cy="187.5" r="4.4" fill="#fff" stroke="#f04a6a" stroke-width="1.1"/><path d="M1499.7 183.1A4.4 4.4 0 0 1 1499.7 191.9Z" fill="#f04a6a"/>
<circle cx="1508.1" cy="187.3" r="4.4" fill="#fff" stroke="#f04a6a" stroke-width="1.1"/><path d="M1508.1 182.9A4.4 4.4 0 0 1 1508.1 191.7Z" fill="#f04a6a"/>
<circle cx="1516.5" cy="183.5" r="4.4" fill="#fff" stroke="#f04a6a" stroke-width="1.1"/><path d="M1516.5 179.1A4.4 4.4 0 0 1 1516.5 187.9Z" fill="#f04a6a"/>
<circle cx="1524.9" cy="186.2" r="4.4" fill="#fff" stroke="#f04a6a" stroke-width="1.1"/><path d="M1524.9 181.8A4.4 4.4 0 0 1 1524.9 190.6Z" fill="#f04a6a"/>
<circle cx="1533.4" cy="183.5" r="4.4" fill="#fff" stroke="#f04a6a" stroke-width="1.1"/><path d="M1533.4 179.1A4.4 4.4 0 0 1 1533.4 187.9Z" fill="#f04a6a"/>
<circle cx="1541.8" cy="185" r="4.4" fill="#fff" stroke="#f04a6a" stroke-width="1.1"/><path d="M1541.8 180.6A4.4 4.4 0 0 1 1541.8 189.4Z" fill="#f04a6a"/>
<circle cx="1550.2" cy="184.4" r="4.4" fill="#fff" stroke="#f04a6a" stroke-width="1.1"/><path d="M1550.2 180A4.4 4.4 0 0 1 1550.2 188.8Z" fill="#f04a6a"/>
<circle cx="1558.6" cy="185.7" r="4.4" fill="#fff" stroke="#f04a6a" stroke-width="1.1"/><path d="M1558.6 181.3A4.4 4.4 0 0 1 1558.6 190.1Z" fill="#f04a6a"/>
<circle cx="1567" cy="186.6" r="4.4" fill="#fff" stroke="#f04a6a" stroke-width="1.1"/><path d="M1567 182.2A4.4 4.4 0 0 1 1567 191Z" fill="#f04a6a"/>
<circle cx="1575.4" cy="183.9" r="4.4" fill="#fff" stroke="#f04a6a" stroke-width="1.1"/><path d="M1575.4 179.5A4.4 4.4 0 0 1 1575.4 188.3Z" fill="#f04a6a"/>
<circle cx="1583.8" cy="185.7" r="4.4" fill="#fff" stroke="#f04a6a" stroke-width="1.1"/><path d="M1583.8 181.3A4.4 4.4 0 0 1 1583.8 190.1Z" fill="#f04a6a"/>
<circle cx="1592.2" cy="187.3" r="4.4" fill="#fff" stroke="#f04a6a" stroke-width="1.1"/><path d="M1592.2 182.9A4.4 4.4 0 0 1 1592.2 191.7Z" fill="#f04a6a"/>
<circle cx="1600.6" cy="183.9" r="4.4" fill="#fff" stroke="#f04a6a" stroke-width="1.1"/><path d="M1600.6 179.5A4.4 4.4 0 0 1 1600.6 188.3Z" fill="#f04a6a"/>
<circle cx="1609" cy="185" r="4.4" fill="#fff" stroke="#f04a6a" stroke-width="1.1"/><path d="M1609 180.6A4.4 4.4 0 0 1 1609 189.4Z" fill="#f04a6a"/>
<circle cx="1617.5" cy="186.2" r="4.4" fill="#fff" stroke="#f04a6a" stroke-width="1.1"/><path d="M1617.5 181.8A4.4 4.4 0 0 1 1617.5 190.6Z" fill="#f04a6a"/>
<circle cx="1625.9" cy="186.2" r="4.4" fill="#fff" stroke="#f04a6a" stroke-width="1.1"/><path d="M1625.9 181.8A4.4 4.4 0 0 1 1625.9 190.6Z" fill="#f04a6a"/>
<circle cx="1634.3" cy="185.7" r="4.4" fill="#fff" stroke="#f04a6a" stroke-width="1.1"/><path d="M1634.3 181.3A4.4 4.4 0 0 1 1634.3 190.1Z" fill="#f04a6a"/>
<circle cx="1642.7" cy="182.8" r="4.4" fill="#fff" stroke="#f04a6a" stroke-width="1.1"/><path d="M1642.7 178.4A4.4 4.4 0 0 1 1642.7 187.2Z" fill="#f04a6a"/>
<circle cx="1651.1" cy="183.9" r="4.4" fill="#fff" stroke="#f04a6a" stroke-width="1.1"/><path d="M1651.1 179.5A4.4 4.4 0 0 1 1651.1 188.3Z" fill="#f04a6a"/>
<circle cx="1659.5" cy="185.7" r="4.4" fill="#fff" stroke="#f04a6a" stroke-width="1.1"/><path d="M1659.5 181.3A4.4 4.4 0 0 1 1659.5 190.1Z" fill="#f04a6a"/>
<polyline points="1247.4,165.2 1255.8,159.6 1264.2,152.6 1272.6,145.2 1281.1,134.6 1289.5,134.6 1297.9,131.5 1306.3,131.1 1314.7,129.7 1323.1,128.8 1331.5,166.3 1339.9,121.8 1348.3,120 1356.8,119.2 1365.2,117.4 1373.6,113.9 1382,115.6 1390.4,118.3 1398.8,117.4 1407.2,121.8 1415.6,161.4 1424,115.6 1432.4,112.5 1440.8,110.4 1449.3,109.5 1457.7,107.7 1466.1,109.5 1474.5,112.1 1482.9,111.2 1491.3,111.2 1499.7,180 1508.1,112.7 1516.5,102.1 1524.9,96.5 1533.4,99.5 1541.8,100.4 1550.2,110 1558.6,99.5 1567,104.8 1575.4,110.9 1583.8,128.5 1592.2,102.5 1600.6,94.7 1609,99 1617.5,115.8 1625.9,108.3 1634.3,87.2 1642.7,100 1651.1,96 1659.5,90.7 1667.9,66.1 1676.3,121.5 1684.7,121.5 1693.1,121.1 1701.6,121.1 1710,119.7 1718.4,124.1 1726.8,118.8 1735.2,123.2 1743.6,121.8" fill="none" stroke="#71bd4e" stroke-width="2" stroke-linejoin="round" stroke-linecap="round"/>
<circle cx="1247.4" cy="165.2" r="4.4" fill="#fff" stroke="#71bd4e" stroke-width="1.1"/><path d="M1247.4 160.8A4.4 4.4 0 0 1 1247.4 169.6Z" fill="#71bd4e"/>
<circle cx="1255.8" cy="159.6" r="4.4" fill="#fff" stroke="#71bd4e" stroke-width="1.1"/><path d="M1255.8 155.2A4.4 4.4 0 0 1 1255.8 164Z" fill="#71bd4e"/>
<circle cx="1264.2" cy="152.6" r="4.4" fill="#fff" stroke="#71bd4e" stroke-width="1.1"/><path d="M1264.2 148.2A4.4 4.4 0 0 1 1264.2 157Z" fill="#71bd4e"/>
<circle cx="1272.6" cy="145.2" r="4.4" fill="#fff" stroke="#71bd4e" stroke-width="1.1"/><path d="M1272.6 140.8A4.4 4.4 0 0 1 1272.6 149.6Z" fill="#71bd4e"/>
<circle cx="1281.1" cy="134.6" r="4.4" fill="#fff" stroke="#71bd4e" stroke-width="1.1"/><path d="M1281.1 130.2A4.4 4.4 0 0 1 1281.1 139Z" fill="#71bd4e"/>
<circle cx="1289.5" cy="134.6" r="4.4" fill="#fff" stroke="#71bd4e" stroke-width="1.1"/><path d="M1289.5 130.2A4.4 4.4 0 0 1 1289.5 139Z" fill="#71bd4e"/>
<circle cx="1297.9" cy="131.5" r="4.4" fill="#fff" stroke="#71bd4e" stroke-width="1.1"/><path d="M1297.9 127.1A4.4 4.4 0 0 1 1297.9 135.9Z" fill="#71bd4e"/>
<circle cx="1306.3" cy="131.1" r="4.4" fill="#fff" stroke="#71bd4e" stroke-width="1.1"/><path d="M1306.3 126.7A4.4 4.4 0 0 1 1306.3 135.5Z" fill="#71bd4e"/>
<circle cx="1314.7" cy="129.7" r="4.4" fill="#fff" stroke="#71bd4e" stroke-width="1.1"/><path d="M1314.7 125.3A4.4 4.4 0 0 1 1314.7 134.1Z" fill="#71bd4e"/>
<circle cx="1323.1" cy="128.8" r="4.4" fill="#fff" stroke="#71bd4e" stroke-width="1.1"/><path d="M1323.1 124.4A4.4 4.4 0 0 1 1323.1 133.2Z" fill="#71bd4e"/>
<circle cx="1331.5" cy="166.3" r="4.4" fill="#fff" stroke="#71bd4e" stroke-width="1.1"/><path d="M1331.5 161.9A4.4 4.4 0 0 1 1331.5 170.7Z" fill="#71bd4e"/>
<circle cx="1339.9" cy="121.8" r="4.4" fill="#fff" stroke="#71bd4e" stroke-width="1.1"/><path d="M1339.9 117.4A4.4 4.4 0 0 1 1339.9 126.2Z" fill="#71bd4e"/>
<circle cx="1348.3" cy="120" r="4.4" fill="#fff" stroke="#71bd4e" stroke-width="1.1"/><path d="M1348.3 115.6A4.4 4.4 0 0 1 1348.3 124.4Z" fill="#71bd4e"/>
<circle cx="1356.8" cy="119.2" r="4.4" fill="#fff" stroke="#71bd4e" stroke-width="1.1"/><path d="M1356.8 114.8A4.4 4.4 0 0 1 1356.8 123.6Z" fill="#71bd4e"/>
<circle cx="1365.2" cy="117.4" r="4.4" fill="#fff" stroke="#71bd4e" stroke-width="1.1"/><path d="M1365.2 113A4.4 4.4 0 0 1 1365.2 121.8Z" fill="#71bd4e"/>
<circle cx="1373.6" cy="113.9" r="4.4" fill="#fff" stroke="#71bd4e" stroke-width="1.1"/><path d="M1373.6 109.5A4.4 4.4 0 0 1 1373.6 118.3Z" fill="#71bd4e"/>
<circle cx="1382" cy="115.6" r="4.4" fill="#fff" stroke="#71bd4e" stroke-width="1.1"/><path d="M1382 111.2A4.4 4.4 0 0 1 1382 120Z" fill="#71bd4e"/>
<circle cx="1390.4" cy="118.3" r="4.4" fill="#fff" stroke="#71bd4e" stroke-width="1.1"/><path d="M1390.4 113.9A4.4 4.4 0 0 1 1390.4 122.7Z" fill="#71bd4e"/>
<circle cx="1398.8" cy="117.4" r="4.4" fill="#fff" stroke="#71bd4e" stroke-width="1.1"/><path d="M1398.8 113A4.4 4.4 0 0 1 1398.8 121.8Z" fill="#71bd4e"/>
<circle cx="1407.2" cy="121.8" r="4.4" fill="#fff" stroke="#71bd4e" stroke-width="1.1"/><path d="M1407.2 117.4A4.4 4.4 0 0 1 1407.2 126.2Z" fill="#71bd4e"/>
<circle cx="1415.6" cy="161.4" r="4.4" fill="#fff" stroke="#71bd4e" stroke-width="1.1"/><path d="M1415.6 157A4.4 4.4 0 0 1 1415.6 165.8Z" fill="#71bd4e"/>
<circle cx="1424" cy="115.6" r="4.4" fill="#fff" stroke="#71bd4e" stroke-width="1.1"/><path d="M1424 111.2A4.4 4.4 0 0 1 1424 120Z" fill="#71bd4e"/>
<circle cx="1432.4" cy="112.5" r="4.4" fill="#fff" stroke="#71bd4e" stroke-width="1.1"/><path d="M1432.4 108.1A4.4 4.4 0 0 1 1432.4 116.9Z" fill="#71bd4e"/>
<circle cx="1440.8" cy="110.4" r="4.4" fill="#fff" stroke="#71bd4e" stroke-width="1.1"/><path d="M1440.8 106A4.4 4.4 0 0 1 1440.8 114.8Z" fill="#71bd4e"/>
<circle cx="1449.3" cy="109.5" r="4.4" fill="#fff" stroke="#71bd4e" stroke-width="1.1"/><path d="M1449.3 105.1A4.4 4.4 0 0 1 1449.3 113.9Z" fill="#71bd4e"/>
<circle cx="1457.7" cy="107.7" r="4.4" fill="#fff" stroke="#71bd4e" stroke-width="1.1"/><path d="M1457.7 103.3A4.4 4.4 0 0 1 1457.7 112.1Z" fill="#71bd4e"/>
<circle cx="1466.1" cy="109.5" r="4.4" fill="#fff" stroke="#71bd4e" stroke-width="1.1"/><path d="M1466.1 105.1A4.4 4.4 0 0 1 1466.1 113.9Z" fill="#71bd4e"/>
<circle cx="1474.5" cy="112.1" r="4.4" fill="#fff" stroke="#71bd4e" stroke-width="1.1"/><path d="M1474.5 107.7A4.4 4.4 0 0 1 1474.5 116.5Z" fill="#71bd4e"/>
<circle cx="1482.9" cy="111.2" r="4.4" fill="#fff" stroke="#71bd4e" stroke-width="1.1"/><path d="M1482.9 106.8A4.4 4.4 0 0 1 1482.9 115.6Z" fill="#71bd4e"/>
<circle cx="1491.3" cy="111.2" r="4.4" fill="#fff" stroke="#71bd4e" stroke-width="1.1"/><path d="M1491.3 106.8A4.4 4.4 0 0 1 1491.3 115.6Z" fill="#71bd4e"/>
<circle cx="1499.7" cy="180" r="4.4" fill="#fff" stroke="#71bd4e" stroke-width="1.1"/><path d="M1499.7 175.6A4.4 4.4 0 0 1 1499.7 184.4Z" fill="#71bd4e"/>
<circle cx="1508.1" cy="112.7" r="4.4" fill="#fff" stroke="#71bd4e" stroke-width="1.1"/><path d="M1508.1 108.3A4.4 4.4 0 0 1 1508.1 117.1Z" fill="#71bd4e"/>
<circle cx="1516.5" cy="102.1" r="4.4" fill="#fff" stroke="#71bd4e" stroke-width="1.1"/><path d="M1516.5 97.7A4.4 4.4 0 0 1 1516.5 106.5Z" fill="#71bd4e"/>
<circle cx="1524.9" cy="96.5" r="4.4" fill="#fff" stroke="#71bd4e" stroke-width="1.1"/><path d="M1524.9 92.1A4.4 4.4 0 0 1 1524.9 100.9Z" fill="#71bd4e"/>
<circle cx="1533.4" cy="99.5" r="4.4" fill="#fff" stroke="#71bd4e" stroke-width="1.1"/><path d="M1533.4 95.1A4.4 4.4 0 0 1 1533.4 103.9Z" fill="#71bd4e"/>
<circle cx="1541.8" cy="100.4" r="4.4" fill="#fff" stroke="#71bd4e" stroke-width="1.1"/><path d="M1541.8 96A4.4 4.4 0 0 1 1541.8 104.8Z" fill="#71bd4e"/>
<circle cx="1550.2" cy="110" r="4.4" fill="#fff" stroke="#71bd4e" stroke-width="1.1"/><path d="M1550.2 105.6A4.4 4.4 0 0 1 1550.2 114.4Z" fill="#71bd4e"/>
<circle cx="1558.6" cy="99.5" r="4.4" fill="#fff" stroke="#71bd4e" stroke-width="1.1"/><path d="M1558.6 95.1A4.4 4.4 0 0 1 1558.6 103.9Z" fill="#71bd4e"/>
<circle cx="1567" cy="104.8" r="4.4" fill="#fff" stroke="#71bd4e" stroke-width="1.1"/><path d="M1567 100.4A4.4 4.4 0 0 1 1567 109.2Z" fill="#71bd4e"/>
<circle cx="1575.4" cy="110.9" r="4.4" fill="#fff" stroke="#71bd4e" stroke-width="1.1"/><path d="M1575.4 106.5A4.4 4.4 0 0 1 1575.4 115.3Z" fill="#71bd4e"/>
<circle cx="1583.8" cy="128.5" r="4.4" fill="#fff" stroke="#71bd4e" stroke-width="1.1"/><path d="M1583.8 124.1A4.4 4.4 0 0 1 1583.8 132.9Z" fill="#71bd4e"/>
<circle cx="1592.2" cy="102.5" r="4.4" fill="#fff" stroke="#71bd4e" stroke-width="1.1"/><path d="M1592.2 98.1A4.4 4.4 0 0 1 1592.2 106.9Z" fill="#71bd4e"/>
<circle cx="1600.6" cy="94.7" r="4.4" fill="#fff" stroke="#71bd4e" stroke-width="1.1"/><path d="M1600.6 90.3A4.4 4.4 0 0 1 1600.6 99.1Z" fill="#71bd4e"/>
<circle cx="1609" cy="99" r="4.4" fill="#fff" stroke="#71bd4e" stroke-width="1.1"/><path d="M1609 94.6A4.4 4.4 0 0 1 1609 103.4Z" fill="#71bd4e"/>
<circle cx="1617.5" cy="115.8" r="4.4" fill="#fff" stroke="#71bd4e" stroke-width="1.1"/><path d="M1617.5 111.4A4.4 4.4 0 0 1 1617.5 120.2Z" fill="#71bd4e"/>
<circle cx="1625.9" cy="108.3" r="4.4" fill="#fff" stroke="#71bd4e" stroke-width="1.1"/><path d="M1625.9 103.9A4.4 4.4 0 0 1 1625.9 112.7Z" fill="#71bd4e"/>
<circle cx="1634.3" cy="87.2" r="4.4" fill="#fff" stroke="#71bd4e" stroke-width="1.1"/><path d="M1634.3 82.8A4.4 4.4 0 0 1 1634.3 91.6Z" fill="#71bd4e"/>
<circle cx="1642.7" cy="100" r="4.4" fill="#fff" stroke="#71bd4e" stroke-width="1.1"/><path d="M1642.7 95.6A4.4 4.4 0 0 1 1642.7 104.4Z" fill="#71bd4e"/>
<circle cx="1651.1" cy="96" r="4.4" fill="#fff" stroke="#71bd4e" stroke-width="1.1"/><path d="M1651.1 91.6A4.4 4.4 0 0 1 1651.1 100.4Z" fill="#71bd4e"/>
<circle cx="1659.5" cy="90.7" r="4.4" fill="#fff" stroke="#71bd4e" stroke-width="1.1"/><path d="M1659.5 86.3A4.4 4.4 0 0 1 1659.5 95.1Z" fill="#71bd4e"/>
<circle cx="1667.9" cy="66.1" r="4.4" fill="#fff" stroke="#71bd4e" stroke-width="1.1"/><path d="M1667.9 61.7A4.4 4.4 0 0 1 1667.9 70.5Z" fill="#71bd4e"/>
<circle cx="1676.3" cy="121.5" r="4.4" fill="#fff" stroke="#71bd4e" stroke-width="1.1"/><path d="M1676.3 117.1A4.4 4.4 0 0 1 1676.3 125.9Z" fill="#71bd4e"/>
<circle cx="1684.7" cy="121.5" r="4.4" fill="#fff" stroke="#71bd4e" stroke-width="1.1"/><path d="M1684.7 117.1A4.4 4.4 0 0 1 1684.7 125.9Z" fill="#71bd4e"/>
<circle cx="1693.1" cy="121.1" r="4.4" fill="#fff" stroke="#71bd4e" stroke-width="1.1"/><path d="M1693.1 116.7A4.4 4.4 0 0 1 1693.1 125.5Z" fill="#71bd4e"/>
<circle cx="1701.6" cy="121.1" r="4.4" fill="#fff" stroke="#71bd4e" stroke-width="1.1"/><path d="M1701.6 116.7A4.4 4.4 0 0 1 1701.6 125.5Z" fill="#71bd4e"/>
<circle cx="1710" cy="119.7" r="4.4" fill="#fff" stroke="#71bd4e" stroke-width="1.1"/><path d="M1710 115.3A4.4 4.4 0 0 1 1710 124.1Z" fill="#71bd4e"/>
<circle cx="1718.4" cy="124.1" r="4.4" fill="#fff" stroke="#71bd4e" stroke-width="1.1"/><path d="M1718.4 119.7A4.4 4.4 0 0 1 1718.4 128.5Z" fill="#71bd4e"/>
<circle cx="1726.8" cy="118.8" r="4.4" fill="#fff" stroke="#71bd4e" stroke-width="1.1"/><path d="M1726.8 114.4A4.4 4.4 0 0 1 1726.8 123.2Z" fill="#71bd4e"/>
<circle cx="1735.2" cy="123.2" r="4.4" fill="#fff" stroke="#71bd4e" stroke-width="1.1"/><path d="M1735.2 118.8A4.4 4.4 0 0 1 1735.2 127.6Z" fill="#71bd4e"/>
<circle cx="1743.6" cy="121.8" r="4.4" fill="#fff" stroke="#71bd4e" stroke-width="1.1"/><path d="M1743.6 117.4A4.4 4.4 0 0 1 1743.6 126.2Z" fill="#71bd4e"/>
<polyline points="1247.4,103 1255.8,100.7 1264.2,98.9 1272.6,98.9 1281.1,99.5 1289.5,99.8 1297.9,99.5 1306.3,100.7 1314.7,100.7 1323.1,102.4 1331.5,159.3 1339.9,105.1 1348.3,100.7 1356.8,101.6 1365.2,98.9 1373.6,102.4 1382,103 1390.4,103 1398.8,103 1407.2,102.4 1415.6,192 1424,98.9 1432.4,96.3 1440.8,97.2 1449.3,96.6 1457.7,97.2 1466.1,97.2 1474.5,97.7 1482.9,97.7 1491.3,97.2 1499.7,190 1508.1,98.2 1516.5,86.3 1524.9,110.6 1533.4,129.4 1541.8,88.4 1550.2,117.6 1558.6,100.4 1567,96.5 1575.4,93 1583.8,145.7 1592.2,97.7 1600.6,46.7 1609,128.2 1617.5,124.1 1625.9,113 1634.3,76.6 1642.7,77.5 1651.1,125 1659.5,76.6 1667.9,50.8 1676.3,129.4 1684.7,116.5 1693.1,110 1701.6,106 1710,107.4 1718.4,104.8 1726.8,103.9 1735.2,106 1743.6,104.8" fill="none" stroke="#f2821c" stroke-width="2" stroke-linejoin="round" stroke-linecap="round"/>
<circle cx="1247.4" cy="103" r="4.4" fill="#fff" stroke="#f2821c" stroke-width="1.1"/><path d="M1247.4 98.6A4.4 4.4 0 0 1 1247.4 107.4Z" fill="#f2821c"/>
<circle cx="1255.8" cy="100.7" r="4.4" fill="#fff" stroke="#f2821c" stroke-width="1.1"/><path d="M1255.8 96.3A4.4 4.4 0 0 1 1255.8 105.1Z" fill="#f2821c"/>
<circle cx="1264.2" cy="98.9" r="4.4" fill="#fff" stroke="#f2821c" stroke-width="1.1"/><path d="M1264.2 94.5A4.4 4.4 0 0 1 1264.2 103.3Z" fill="#f2821c"/>
<circle cx="1272.6" cy="98.9" r="4.4" fill="#fff" stroke="#f2821c" stroke-width="1.1"/><path d="M1272.6 94.5A4.4 4.4 0 0 1 1272.6 103.3Z" fill="#f2821c"/>
<circle cx="1281.1" cy="99.5" r="4.4" fill="#fff" stroke="#f2821c" stroke-width="1.1"/><path d="M1281.1 95.1A4.4 4.4 0 0 1 1281.1 103.9Z" fill="#f2821c"/>
<circle cx="1289.5" cy="99.8" r="4.4" fill="#fff" stroke="#f2821c" stroke-width="1.1"/><path d="M1289.5 95.4A4.4 4.4 0 0 1 1289.5 104.2Z" fill="#f2821c"/>
<circle cx="1297.9" cy="99.5" r="4.4" fill="#fff" stroke="#f2821c" stroke-width="1.1"/><path d="M1297.9 95.1A4.4 4.4 0 0 1 1297.9 103.9Z" fill="#f2821c"/>
<circle cx="1306.3" cy="100.7" r="4.4" fill="#fff" stroke="#f2821c" stroke-width="1.1"/><path d="M1306.3 96.3A4.4 4.4 0 0 1 1306.3 105.1Z" fill="#f2821c"/>
<circle cx="1314.7" cy="100.7" r="4.4" fill="#fff" stroke="#f2821c" stroke-width="1.1"/><path d="M1314.7 96.3A4.4 4.4 0 0 1 1314.7 105.1Z" fill="#f2821c"/>
<circle cx="1323.1" cy="102.4" r="4.4" fill="#fff" stroke="#f2821c" stroke-width="1.1"/><path d="M1323.1 98A4.4 4.4 0 0 1 1323.1 106.8Z" fill="#f2821c"/>
<circle cx="1331.5" cy="159.3" r="4.4" fill="#fff" stroke="#f2821c" stroke-width="1.1"/><path d="M1331.5 154.9A4.4 4.4 0 0 1 1331.5 163.7Z" fill="#f2821c"/>
<circle cx="1339.9" cy="105.1" r="4.4" fill="#fff" stroke="#f2821c" stroke-width="1.1"/><path d="M1339.9 100.7A4.4 4.4 0 0 1 1339.9 109.5Z" fill="#f2821c"/>
<circle cx="1348.3" cy="100.7" r="4.4" fill="#fff" stroke="#f2821c" stroke-width="1.1"/><path d="M1348.3 96.3A4.4 4.4 0 0 1 1348.3 105.1Z" fill="#f2821c"/>
<circle cx="1356.8" cy="101.6" r="4.4" fill="#fff" stroke="#f2821c" stroke-width="1.1"/><path d="M1356.8 97.2A4.4 4.4 0 0 1 1356.8 106Z" fill="#f2821c"/>
<circle cx="1365.2" cy="98.9" r="4.4" fill="#fff" stroke="#f2821c" stroke-width="1.1"/><path d="M1365.2 94.5A4.4 4.4 0 0 1 1365.2 103.3Z" fill="#f2821c"/>
<circle cx="1373.6" cy="102.4" r="4.4" fill="#fff" stroke="#f2821c" stroke-width="1.1"/><path d="M1373.6 98A4.4 4.4 0 0 1 1373.6 106.8Z" fill="#f2821c"/>
<circle cx="1382" cy="103" r="4.4" fill="#fff" stroke="#f2821c" stroke-width="1.1"/><path d="M1382 98.6A4.4 4.4 0 0 1 1382 107.4Z" fill="#f2821c"/>
<circle cx="1390.4" cy="103" r="4.4" fill="#fff" stroke="#f2821c" stroke-width="1.1"/><path d="M1390.4 98.6A4.4 4.4 0 0 1 1390.4 107.4Z" fill="#f2821c"/>
<circle cx="1398.8" cy="103" r="4.4" fill="#fff" stroke="#f2821c" stroke-width="1.1"/><path d="M1398.8 98.6A4.4 4.4 0 0 1 1398.8 107.4Z" fill="#f2821c"/>
<circle cx="1407.2" cy="102.4" r="4.4" fill="#fff" stroke="#f2821c" stroke-width="1.1"/><path d="M1407.2 98A4.4 4.4 0 0 1 1407.2 106.8Z" fill="#f2821c"/>
<circle cx="1415.6" cy="192" r="4.4" fill="#fff" stroke="#f2821c" stroke-width="1.1"/><path d="M1415.6 187.6A4.4 4.4 0 0 1 1415.6 196.4Z" fill="#f2821c"/>
<circle cx="1424" cy="98.9" r="4.4" fill="#fff" stroke="#f2821c" stroke-width="1.1"/><path d="M1424 94.5A4.4 4.4 0 0 1 1424 103.3Z" fill="#f2821c"/>
<circle cx="1432.4" cy="96.3" r="4.4" fill="#fff" stroke="#f2821c" stroke-width="1.1"/><path d="M1432.4 91.9A4.4 4.4 0 0 1 1432.4 100.7Z" fill="#f2821c"/>
<circle cx="1440.8" cy="97.2" r="4.4" fill="#fff" stroke="#f2821c" stroke-width="1.1"/><path d="M1440.8 92.8A4.4 4.4 0 0 1 1440.8 101.6Z" fill="#f2821c"/>
<circle cx="1449.3" cy="96.6" r="4.4" fill="#fff" stroke="#f2821c" stroke-width="1.1"/><path d="M1449.3 92.2A4.4 4.4 0 0 1 1449.3 101Z" fill="#f2821c"/>
<circle cx="1457.7" cy="97.2" r="4.4" fill="#fff" stroke="#f2821c" stroke-width="1.1"/><path d="M1457.7 92.8A4.4 4.4 0 0 1 1457.7 101.6Z" fill="#f2821c"/>
<circle cx="1466.1" cy="97.2" r="4.4" fill="#fff" stroke="#f2821c" stroke-width="1.1"/><path d="M1466.1 92.8A4.4 4.4 0 0 1 1466.1 101.6Z" fill="#f2821c"/>
<circle cx="1474.5" cy="97.7" r="4.4" fill="#fff" stroke="#f2821c" stroke-width="1.1"/><path d="M1474.5 93.3A4.4 4.4 0 0 1 1474.5 102.1Z" fill="#f2821c"/>
<circle cx="1482.9" cy="97.7" r="4.4" fill="#fff" stroke="#f2821c" stroke-width="1.1"/><path d="M1482.9 93.3A4.4 4.4 0 0 1 1482.9 102.1Z" fill="#f2821c"/>
<circle cx="1491.3" cy="97.2" r="4.4" fill="#fff" stroke="#f2821c" stroke-width="1.1"/><path d="M1491.3 92.8A4.4 4.4 0 0 1 1491.3 101.6Z" fill="#f2821c"/>
<circle cx="1499.7" cy="190" r="4.4" fill="#fff" stroke="#f2821c" stroke-width="1.1"/><path d="M1499.7 185.6A4.4 4.4 0 0 1 1499.7 194.4Z" fill="#f2821c"/>
<circle cx="1508.1" cy="98.2" r="4.4" fill="#fff" stroke="#f2821c" stroke-width="1.1"/><path d="M1508.1 93.8A4.4 4.4 0 0 1 1508.1 102.6Z" fill="#f2821c"/>
<circle cx="1516.5" cy="86.3" r="4.4" fill="#fff" stroke="#f2821c" stroke-width="1.1"/><path d="M1516.5 81.9A4.4 4.4 0 0 1 1516.5 90.7Z" fill="#f2821c"/>
<circle cx="1524.9" cy="110.6" r="4.4" fill="#fff" stroke="#f2821c" stroke-width="1.1"/><path d="M1524.9 106.2A4.4 4.4 0 0 1 1524.9 115Z" fill="#f2821c"/>
<circle cx="1533.4" cy="129.4" r="4.4" fill="#fff" stroke="#f2821c" stroke-width="1.1"/><path d="M1533.4 125A4.4 4.4 0 0 1 1533.4 133.8Z" fill="#f2821c"/>
<circle cx="1541.8" cy="88.4" r="4.4" fill="#fff" stroke="#f2821c" stroke-width="1.1"/><path d="M1541.8 84A4.4 4.4 0 0 1 1541.8 92.8Z" fill="#f2821c"/>
<circle cx="1550.2" cy="117.6" r="4.4" fill="#fff" stroke="#f2821c" stroke-width="1.1"/><path d="M1550.2 113.2A4.4 4.4 0 0 1 1550.2 122Z" fill="#f2821c"/>
<circle cx="1558.6" cy="100.4" r="4.4" fill="#fff" stroke="#f2821c" stroke-width="1.1"/><path d="M1558.6 96A4.4 4.4 0 0 1 1558.6 104.8Z" fill="#f2821c"/>
<circle cx="1567" cy="96.5" r="4.4" fill="#fff" stroke="#f2821c" stroke-width="1.1"/><path d="M1567 92.1A4.4 4.4 0 0 1 1567 100.9Z" fill="#f2821c"/>
<circle cx="1575.4" cy="93" r="4.4" fill="#fff" stroke="#f2821c" stroke-width="1.1"/><path d="M1575.4 88.6A4.4 4.4 0 0 1 1575.4 97.4Z" fill="#f2821c"/>
<circle cx="1583.8" cy="145.7" r="4.4" fill="#fff" stroke="#f2821c" stroke-width="1.1"/><path d="M1583.8 141.3A4.4 4.4 0 0 1 1583.8 150.1Z" fill="#f2821c"/>
<circle cx="1592.2" cy="97.7" r="4.4" fill="#fff" stroke="#f2821c" stroke-width="1.1"/><path d="M1592.2 93.3A4.4 4.4 0 0 1 1592.2 102.1Z" fill="#f2821c"/>
<circle cx="1600.6" cy="46.7" r="4.4" fill="#fff" stroke="#f2821c" stroke-width="1.1"/><path d="M1600.6 42.3A4.4 4.4 0 0 1 1600.6 51.1Z" fill="#f2821c"/>
<circle cx="1609" cy="128.2" r="4.4" fill="#fff" stroke="#f2821c" stroke-width="1.1"/><path d="M1609 123.8A4.4 4.4 0 0 1 1609 132.6Z" fill="#f2821c"/>
<circle cx="1617.5" cy="124.1" r="4.4" fill="#fff" stroke="#f2821c" stroke-width="1.1"/><path d="M1617.5 119.7A4.4 4.4 0 0 1 1617.5 128.5Z" fill="#f2821c"/>
<circle cx="1625.9" cy="113" r="4.4" fill="#fff" stroke="#f2821c" stroke-width="1.1"/><path d="M1625.9 108.6A4.4 4.4 0 0 1 1625.9 117.4Z" fill="#f2821c"/>
<circle cx="1634.3" cy="76.6" r="4.4" fill="#fff" stroke="#f2821c" stroke-width="1.1"/><path d="M1634.3 72.2A4.4 4.4 0 0 1 1634.3 81Z" fill="#f2821c"/>
<circle cx="1642.7" cy="77.5" r="4.4" fill="#fff" stroke="#f2821c" stroke-width="1.1"/><path d="M1642.7 73.1A4.4 4.4 0 0 1 1642.7 81.9Z" fill="#f2821c"/>
<circle cx="1651.1" cy="125" r="4.4" fill="#fff" stroke="#f2821c" stroke-width="1.1"/><path d="M1651.1 120.6A4.4 4.4 0 0 1 1651.1 129.4Z" fill="#f2821c"/>
<circle cx="1659.5" cy="76.6" r="4.4" fill="#fff" stroke="#f2821c" stroke-width="1.1"/><path d="M1659.5 72.2A4.4 4.4 0 0 1 1659.5 81Z" fill="#f2821c"/>
<circle cx="1667.9" cy="50.8" r="4.4" fill="#fff" stroke="#f2821c" stroke-width="1.1"/><path d="M1667.9 46.4A4.4 4.4 0 0 1 1667.9 55.2Z" fill="#f2821c"/>
<circle cx="1676.3" cy="129.4" r="4.4" fill="#fff" stroke="#f2821c" stroke-width="1.1"/><path d="M1676.3 125A4.4 4.4 0 0 1 1676.3 133.8Z" fill="#f2821c"/>
<circle cx="1684.7" cy="116.5" r="4.4" fill="#fff" stroke="#f2821c" stroke-width="1.1"/><path d="M1684.7 112.1A4.4 4.4 0 0 1 1684.7 120.9Z" fill="#f2821c"/>
<circle cx="1693.1" cy="110" r="4.4" fill="#fff" stroke="#f2821c" stroke-width="1.1"/><path d="M1693.1 105.6A4.4 4.4 0 0 1 1693.1 114.4Z" fill="#f2821c"/>
<circle cx="1701.6" cy="106" r="4.4" fill="#fff" stroke="#f2821c" stroke-width="1.1"/><path d="M1701.6 101.6A4.4 4.4 0 0 1 1701.6 110.4Z" fill="#f2821c"/>
<circle cx="1710" cy="107.4" r="4.4" fill="#fff" stroke="#f2821c" stroke-width="1.1"/><path d="M1710 103A4.4 4.4 0 0 1 1710 111.8Z" fill="#f2821c"/>
<circle cx="1718.4" cy="104.8" r="4.4" fill="#fff" stroke="#f2821c" stroke-width="1.1"/><path d="M1718.4 100.4A4.4 4.4 0 0 1 1718.4 109.2Z" fill="#f2821c"/>
<circle cx="1726.8" cy="103.9" r="4.4" fill="#fff" stroke="#f2821c" stroke-width="1.1"/><path d="M1726.8 99.5A4.4 4.4 0 0 1 1726.8 108.3Z" fill="#f2821c"/>
<circle cx="1735.2" cy="106" r="4.4" fill="#fff" stroke="#f2821c" stroke-width="1.1"/><path d="M1735.2 101.6A4.4 4.4 0 0 1 1735.2 110.4Z" fill="#f2821c"/>
<circle cx="1743.6" cy="104.8" r="4.4" fill="#fff" stroke="#f2821c" stroke-width="1.1"/><path d="M1743.6 100.4A4.4 4.4 0 0 1 1743.6 109.2Z" fill="#f2821c"/>
</g>
<path d="M1420.1 233.1H1472.2" stroke="#71bd4e" stroke-width="2"/>
<circle cx="1446.2" cy="233.1" r="4.1" fill="#fff" stroke="#71bd4e" stroke-width="1.1"/><path d="M1446.2 229A4.1 4.1 0 0 1 1446.2 237.2Z" fill="#71bd4e"/>
<text x="1477" y="239.9" font-size="23.5" text-anchor="start">-20 °C</text>
<path d="M1551.9 233.1H1604" stroke="#f2821c" stroke-width="2"/>
<circle cx="1578" cy="233.1" r="4.1" fill="#fff" stroke="#f2821c" stroke-width="1.1"/><path d="M1578 229A4.1 4.1 0 0 1 1578 237.2Z" fill="#f2821c"/>
<text x="1609" y="239.9" font-size="23.5" text-anchor="start">-10</text>
<path d="M1420.1 261.2H1472.2" stroke="#d63cf0" stroke-width="2"/>
<circle cx="1446.2" cy="261.2" r="4.1" fill="#fff" stroke="#d63cf0" stroke-width="1.1"/><path d="M1446.2 257.1A4.1 4.1 0 0 1 1446.2 265.3Z" fill="#d63cf0"/>
<text x="1483" y="268" font-size="23.5" text-anchor="start">0</text>
<path d="M1551.9 261.2H1604" stroke="#5b70f0" stroke-width="2"/>
<circle cx="1578" cy="261.2" r="4.1" fill="#fff" stroke="#5b70f0" stroke-width="1.1"/><path d="M1578 257.1A4.1 4.1 0 0 1 1578 265.3Z" fill="#5b70f0"/>
<text x="1612.5" y="268" font-size="23.5" text-anchor="start">10</text>
<path d="M1551.9 289.2H1604" stroke="#f04a6a" stroke-width="2"/>
<circle cx="1578" cy="289.2" r="4.1" fill="#fff" stroke="#f04a6a" stroke-width="1.1"/><path d="M1578 285.1A4.1 4.1 0 0 1 1578 293.3Z" fill="#f04a6a"/>
<text x="1613.5" y="296" font-size="23.5" text-anchor="start">25</text>
<text x="1258" y="86.6" font-size="23.5" text-anchor="start">0.3 <tspan font-weight="bold">A g<tspan font-size="16.5" dy="-11">-1</tspan></tspan></text>
<text x="1363.1" y="85.4" font-size="23.5" text-anchor="start">0.5</text>
<text x="1445.7" y="72.5" font-size="23.5" text-anchor="start">1</text>
<text x="1535.5" y="77.5" font-size="23.5" text-anchor="start">3</text>
<text x="1618.6" y="67.3" font-size="23.5" text-anchor="start">5</text>
<text x="1697.3" y="92.4" font-size="23.5" text-anchor="start">0.3</text>
<g clip-path="url(#cd)">
<path d="M88.9 683.1 L89.1 681.8 L89.3 680 L89.6 678 L89.9 675.9 L90.2 673.7 L90.5 671.5 L90.9 669.4 L91.2 667.2 L91.6 665.1 L92 663 L92.4 660.9 L92.8 658.9 L93.3 656.9 L93.9 655 L94.4 653.1 L95 651.2 L95.7 649.3 L96.5 647.4 L97.2 645.5 L98.1 643.6 L99 641.8 L100 639.9 L101 638.1 L102.1 636.4 L103.2 634.6 L104.4 632.9 L105.7 631.3 L107 629.7 L108.3 628.1 L109.7 626.6 L111.1 625.1 L112.5 623.7 L114 622.2 L115.4 620.8 L116.9 619.4 L118.3 618 L119.8 616.6 L121.3 615.2 L122.7 613.9 L124.2 612.5 L125.7 611.2 L127.2 609.8 L128.7 608.4 L130.2 607 L131.6 605.6 L133.1 604.1 L134.5 602.7 L135.9 601.2 L137.3 599.8 L138.8 598.3 L140.2 596.8 L141.6 595.3 L143 593.8 L144.4 592.2 L145.8 590.7 L147.2 589.2 L148.7 587.7 L150.1 586.2 L151.5 584.7 L152.9 583.2 L154.3 581.8 L155.7 580.3 L157.1 578.9 L158.5 577.4 L159.9 576 L161.3 574.5 L162.7 573 L164.1 571.5 L165.5 570 L166.8 568.4 L168.1 566.9 L169.4 565.3 L170.6 563.7 L171.9 562 L173.1 560.4 L174.3 558.7 L175.4 557 L176.6 555.3 L177.7 553.5 L178.9 551.8 L180 550 L181.1 548.3 L182.2 546.6 L183.3 544.9 L184.4 543.2 L185.5 541.5 L186.6 539.8 L187.7 538.1 L188.8 536.4 L189.9 534.7 L191 533.1 L192.1 531.4 L193.2 529.8 L194.3 528.1 L195.4 526.5 L196.5 524.9 L197.6 523.4 L198.8 521.8 L199.9 520.2 L201.1 518.7 L202.4 517.1 L203.6 515.6 L204.9 514 L206.2 512.5 L207.5 510.9 L208.9 509.4 L210.2 507.9 L211.6 506.4 L213 504.9 L214.4 503.4 L215.8 502 L217.2 500.5 L218.6 499.1 L220 497.7 L221.5 496.3 L222.9 495 L224.4 493.7 L225.9 492.4 L227.4 491.1 L228.9 489.9 L230.4 488.7 L232 487.5 L233.6 486.3 L235.2 485.2 L236.9 484.1 L238.6 483.1 L240.3 482 L242 481 L243.7 480.1 L245.5 479.1 L247.3 478.2 L249 477.3 L250.9 476.4 L252.7 475.5 L254.6 474.6 L256.5 473.7 L258.4 472.8 L260.3 472 L262.2 471.1 L264.1 470.2 L266 469.4 L267.8 468.6 L269.7 467.8 L271.5 467 L273.4 466.2 L275.2 465.4 L277 464.6 L278.8 463.8 L280.6 463 L282.5 462.3 L284.3 461.5 L286.2 460.8 L288.1 460.1 L290 459.4 L292 458.7 L293.9 458 L295.9 457.4 L297.8 456.8 L299.7 456.2 L301.6 455.7 L303.5 455.2 L305.4 454.7 L307.3 454.3 L309.2 453.9 L311.1 453.5 L313 453.1 L315 452.7 L316.9 452.4 L318.9 452 L320.9 451.6 L322.9 451.3 L324.9 451 L327 450.6 L329.1 450.3 L331.2 449.9 L333.3 449.6 L335.4 449.2 L337.5 448.9 L339.6 448.6 L341.7 448.2 L343.9 447.9 L346 447.5 L348.1 447.2 L350.3 446.8 L352.4 446.5 L354.7 446.2 L356.9 445.8 L359.2 445.5 L361.5 445.1 L363.8 444.8 L366 444.4 L368.3 444.1 L370.5 443.7 L372.7 443.4 L374.9 443.1 L377 442.8 L379 442.5 L380.9 442.2 L382.8 441.9 L384.6 441.6 L386.3 441.3 L388 441.1 L389.5 440.9 L390.8 440.7 L391.9 440.5" fill="none" stroke="#f2393e" stroke-width="3" stroke-linejoin="round" stroke-linecap="round"/>
<path d="M89.9 460 L90.2 461.2 L90.5 462.6 L90.9 464.2 L91.3 466 L91.8 468 L92.3 470 L92.7 472 L93.2 474.1 L93.8 476.2 L94.3 478.3 L94.9 480.5 L95.4 482.6 L96 484.8 L96.6 486.9 L97.1 489 L97.7 491.1 L98.4 493.2 L99 495.2 L99.6 497.3 L100.2 499.3 L100.9 501.3 L101.5 503.3 L102.2 505.3 L102.9 507.3 L103.5 509.2 L104.2 511.2 L104.9 513.1 L105.6 514.9 L106.4 516.8 L107.1 518.6 L107.9 520.5 L108.8 522.3 L109.6 524.1 L110.5 525.8 L111.4 527.6 L112.4 529.3 L113.4 531 L114.4 532.7 L115.3 534.4 L116.4 536.1 L117.4 537.8 L118.4 539.4 L119.4 541.1 L120.4 542.8 L121.5 544.5 L122.5 546.3 L123.6 548 L124.6 549.7 L125.7 551.5 L126.8 553.3 L127.8 555 L128.9 556.8 L130 558.6 L131.1 560.3 L132.1 562.1 L133.2 563.9 L134.3 565.6 L135.4 567.4 L136.5 569.2 L137.5 570.9 L138.6 572.7 L139.7 574.4 L140.9 576.1 L142 577.8 L143.2 579.5 L144.4 581.2 L145.6 582.8 L146.8 584.4 L148.1 586 L149.3 587.6 L150.6 589.2 L151.8 590.8 L153.1 592.4 L154.3 594 L155.6 595.6 L156.8 597.3 L158 599 L159.2 600.8 L160.3 602.6 L161.5 604.4 L162.6 606.2 L163.7 608 L164.8 609.8 L165.9 611.6 L166.9 613.3 L168 615 L169 616.7 L170.1 618.3 L171.2 619.9 L172.4 621.4 L173.6 622.9 L174.8 624.3 L176.1 625.7 L177.4 627.1 L178.8 628.5 L180.2 629.9 L181.7 631.3 L183.3 632.7 L184.9 634.1 L186.5 635.5 L188.1 636.9 L189.8 638.4 L191.4 639.8 L193 641.2 L194.7 642.6 L196.3 643.9 L197.8 645.3 L199.4 646.6 L201 648 L202.6 649.3 L204.2 650.6 L205.8 651.9 L207.4 653.2 L209.1 654.5 L210.7 655.8 L212.4 657 L214.1 658.2 L215.8 659.4 L217.5 660.5 L219.3 661.6 L221.1 662.6 L222.9 663.6 L224.7 664.5 L226.6 665.4 L228.5 666.2 L230.4 667 L232.4 667.7 L234.3 668.4 L236.2 669.1 L238.1 669.8 L240 670.4 L241.8 671 L243.7 671.6 L245.5 672.2 L247.3 672.8 L249.1 673.3 L250.8 673.9 L252.6 674.4 L254.4 674.9 L256.2 675.4 L258.1 675.9 L260 676.4 L261.9 676.9 L263.9 677.4 L265.8 677.9 L267.8 678.3 L269.8 678.8 L271.7 679.3 L273.6 679.7 L275.5 680.2 L277.5 680.6 L279.4 681.1 L281.4 681.5 L283.4 682 L285.4 682.4 L287.5 682.9 L289.6 683.4 L291.8 683.9 L293.9 684.4 L296.1 684.9 L298.2 685.4 L300.3 685.9 L302.5 686.3 L304.6 686.8 L306.6 687.3 L308.7 687.8 L310.7 688.3 L312.8 688.7 L314.8 689.2 L316.9 689.7 L318.9 690.2 L320.9 690.7 L323 691.2 L325 691.7 L327.1 692.2 L329.1 692.7 L331.1 693.2 L333.1 693.7 L335 694.2 L337 694.6 L338.9 695.1 L340.8 695.6 L342.7 696.1 L344.6 696.6 L346.6 697.1 L348.5 697.5 L350.4 698 L352.4 698.5 L354.4 699.1 L356.5 699.6 L358.5 700.1 L360.7 700.7 L362.8 701.2 L365 701.8 L367.2 702.3 L369.3 702.9 L371.5 703.4 L373.6 704 L375.7 704.5 L377.8 705.1 L379.7 705.6 L381.7 706.1 L383.6 706.6 L385.3 707 L387 707.5 L388.5 707.9 L389.9 708.2 L391 708.5" fill="none" stroke="#f2393e" stroke-width="3" stroke-linejoin="round" stroke-linecap="round"/>
<path d="M88.9 654.8 L89.4 653.6 L90 652 L90.6 650.2 L91.4 648.2 L92.2 646.2 L92.9 644.1 L93.7 642.1 L94.5 640 L95.2 638 L96 636 L96.7 634 L97.4 632 L98.1 630.1 L98.8 628.1 L99.4 626.2 L100.1 624.4 L100.7 622.5 L101.4 620.6 L102 618.8 L102.7 616.9 L103.3 615 L104 613.2 L104.7 611.3 L105.4 609.3 L106.1 607.4 L106.8 605.4 L107.6 603.5 L108.3 601.5 L109.1 599.5 L109.8 597.6 L110.5 595.6 L111.3 593.7 L112 591.8 L112.8 589.9 L113.5 588 L114.3 586.1 L115 584.2 L115.8 582.3 L116.5 580.5 L117.3 578.6 L118.1 576.7 L118.8 574.9 L119.6 573 L120.4 571.1 L121.2 569.3 L122 567.4 L122.8 565.6 L123.6 563.7 L124.4 561.9 L125.2 560 L126 558.1 L126.8 556.3 L127.7 554.4 L128.5 552.5 L129.3 550.6 L130.2 548.8 L131.1 546.9 L131.9 545 L132.8 543.1 L133.7 541.2 L134.6 539.3 L135.5 537.4 L136.3 535.6 L137.2 533.7 L138.1 531.8 L139 529.9 L139.8 528 L140.6 526.1 L141.4 524.2 L142.2 522.3 L142.9 520.4 L143.6 518.4 L144.3 516.4 L145 514.4 L145.6 512.5 L146.2 510.5 L146.7 508.5 L147.3 506.5 L147.8 504.6 L148.3 502.7 L148.9 500.8 L149.4 499 L149.9 497.1 L150.5 495.2 L151.1 493.4 L151.7 491.5 L152.3 489.6 L152.9 487.7 L153.6 485.8 L154.3 484 L155 482.1 L155.7 480.2 L156.4 478.2 L157.1 476.3 L157.9 474.4 L158.6 472.4 L159.4 470.5 L160.1 468.5 L160.9 466.5 L161.6 464.6 L162.4 462.6 L163.1 460.5 L163.9 458.5 L164.6 456.4 L165.3 454.4 L166.1 452.3 L166.8 450.3 L167.5 448.3 L168.2 446.3 L168.8 444.4 L169.4 442.7 L169.8 441.3 L170 440.8" fill="none" stroke="#6cba4c" stroke-width="3" stroke-linejoin="round" stroke-linecap="round"/>
<path d="M89.9 496.8 L90.2 498 L90.5 499.6 L90.9 501.5 L91.3 503.5 L91.7 505.6 L92.2 507.8 L92.7 509.9 L93.1 512 L93.6 514.2 L94.1 516.4 L94.6 518.5 L95.1 520.6 L95.6 522.6 L96.1 524.6 L96.6 526.6 L97.2 528.6 L97.7 530.5 L98.2 532.5 L98.8 534.4 L99.3 536.3 L99.9 538.3 L100.4 540.2 L101 542.2 L101.5 544.1 L102.1 546.1 L102.7 548 L103.2 550 L103.8 552 L104.4 553.9 L105 555.9 L105.6 557.8 L106.2 559.8 L106.8 561.7 L107.3 563.7 L107.9 565.6 L108.6 567.5 L109.2 569.5 L109.8 571.4 L110.4 573.3 L111 575.3 L111.7 577.2 L112.3 579.2 L112.9 581.1 L113.6 583.1 L114.2 585 L114.9 586.9 L115.5 588.9 L116.2 590.8 L116.8 592.7 L117.5 594.7 L118.1 596.6 L118.8 598.5 L119.5 600.4 L120.1 602.3 L120.8 604.3 L121.5 606.2 L122.1 608.1 L122.8 610.1 L123.5 612 L124.2 614 L125 615.9 L125.7 617.8 L126.4 619.8 L127.2 621.7 L127.9 623.6 L128.7 625.5 L129.5 627.4 L130.2 629.3 L131 631.3 L131.8 633.2 L132.6 635.1 L133.4 637 L134.2 638.9 L135 640.8 L135.9 642.7 L136.7 644.6 L137.5 646.5 L138.4 648.4 L139.2 650.3 L140.1 652.3 L140.9 654.2 L141.8 656.1 L142.7 658 L143.5 659.9 L144.4 661.7 L145.3 663.6 L146.2 665.4 L147.1 667.3 L148 669.1 L148.9 671 L149.9 672.8 L150.8 674.6 L151.8 676.4 L152.8 678.3 L153.7 680.1 L154.7 681.9 L155.7 683.6 L156.7 685.5 L157.7 687.3 L158.8 689.1 L159.8 691 L160.8 692.9 L161.9 694.8 L162.9 696.7 L164 698.6 L165.1 700.5 L166.1 702.4 L167.1 704.3 L168.1 706.1 L169 707.7 L169.7 709 L170 709.5" fill="none" stroke="#6cba4c" stroke-width="3" stroke-linejoin="round" stroke-linecap="round"/>
<path d="M88.9 647.3 L89.3 646 L89.9 644.2 L90.5 642.1 L91.2 639.9 L91.9 637.8 L92.6 635.6 L93.3 633.5 L93.9 631.4 L94.6 629.4 L95.3 627.4 L95.9 625.4 L96.6 623.5 L97.2 621.6 L97.9 619.8 L98.6 617.9 L99.3 616.1 L100 614.2 L100.8 612.4 L101.5 610.5 L102.3 608.5 L103.1 606.6 L103.9 604.7 L104.8 602.7 L105.6 600.8 L106.5 598.8 L107.4 596.9 L108.2 595 L109.1 593.2 L110 591.3 L110.9 589.5 L111.8 587.6 L112.8 585.8 L113.7 584 L114.6 582.2 L115.6 580.4 L116.5 578.6 L117.5 576.8 L118.4 575 L119.4 573.2 L120.4 571.4 L121.3 569.6 L122.3 567.8 L123.2 566 L124.2 564.2 L125.1 562.4 L126.1 560.7 L127 558.9 L127.9 557.1 L128.9 555.3 L129.8 553.6 L130.7 551.8 L131.7 550 L132.6 548.2 L133.6 546.5 L134.6 544.7 L135.7 543 L136.7 541.3 L137.8 539.6 L138.9 537.9 L140 536.2 L141.1 534.6 L142.3 532.9 L143.4 531.2 L144.6 529.5 L145.7 527.8 L146.8 526.1 L147.9 524.4 L149 522.6 L150.1 520.8 L151.2 518.9 L152.2 517.1 L153.2 515.2 L154.2 513.3 L155.1 511.4 L156.1 509.4 L157 507.5 L157.9 505.6 L158.8 503.7 L159.7 501.8 L160.6 499.9 L161.5 498.1 L162.4 496.2 L163.4 494.4 L164.3 492.7 L165.3 490.9 L166.2 489.1 L167.1 487.4 L168.1 485.7 L169 484 L169.8 482.2 L170.6 480.5 L171.4 478.7 L172.2 476.9 L173 475.1 L173.7 473.2 L174.5 471.4 L175.3 469.5 L176.1 467.7 L177 465.9 L178 464.1 L179 462.4 L180.1 460.7 L181.2 459 L182.4 457.3 L183.7 455.6 L185 454 L186.4 452.3 L187.8 450.7 L189.2 449 L190.7 447.3 L192.2 445.7 L193.8 444 L195.3 442.5 L196.5 441.3 L196.9 440.8" fill="none" stroke="#ff8210" stroke-width="3" stroke-linejoin="round" stroke-linecap="round"/>
<path d="M89.9 499.6 L90.1 500.9 L90.3 502.5 L90.6 504.4 L90.9 506.5 L91.2 508.7 L91.6 510.8 L91.9 513 L92.2 515.1 L92.6 517.3 L93 519.4 L93.3 521.6 L93.7 523.6 L94.1 525.7 L94.5 527.8 L94.9 529.8 L95.3 531.8 L95.7 533.8 L96.1 535.9 L96.5 537.9 L97 540 L97.4 542 L97.8 544 L98.2 546.1 L98.6 548.1 L99 550.1 L99.4 552.2 L99.8 554.2 L100.2 556.2 L100.7 558.2 L101.1 560.2 L101.5 562.2 L101.9 564.3 L102.3 566.3 L102.7 568.3 L103.1 570.3 L103.5 572.4 L103.9 574.4 L104.3 576.5 L104.7 578.5 L105.1 580.6 L105.5 582.6 L105.9 584.6 L106.3 586.6 L106.7 588.6 L107.1 590.6 L107.5 592.6 L107.9 594.6 L108.3 596.6 L108.7 598.5 L109.2 600.5 L109.6 602.4 L110 604.4 L110.4 606.3 L110.9 608.2 L111.3 610.2 L111.8 612.1 L112.3 614.1 L112.8 616 L113.3 618 L113.9 619.9 L114.5 621.9 L115 623.9 L115.6 625.9 L116.3 627.9 L116.9 629.9 L117.5 631.9 L118.1 633.9 L118.8 635.9 L119.4 637.8 L120.1 639.8 L120.7 641.8 L121.4 643.7 L122 645.7 L122.7 647.6 L123.4 649.5 L124.1 651.4 L124.8 653.3 L125.5 655.1 L126.3 657 L127 658.8 L127.8 660.7 L128.7 662.5 L129.5 664.3 L130.4 666.1 L131.4 667.9 L132.4 669.7 L133.4 671.4 L134.4 673.2 L135.6 674.8 L136.7 676.5 L137.9 678.1 L139.2 679.7 L140.5 681.3 L141.9 682.8 L143.3 684.3 L144.8 685.7 L146.3 687 L147.9 688.3 L149.5 689.5 L151.2 690.6 L153 691.6 L154.8 692.6 L156.6 693.4 L158.4 694.3 L160.3 695 L162.2 695.8 L164.2 696.5 L166.1 697.2 L168 697.9 L170 698.6 L172 699.3 L173.9 699.9 L175.8 700.6 L177.8 701.3 L179.7 702 L181.6 702.6 L183.6 703.3 L185.5 704 L187.5 704.7 L189.4 705.4 L191.3 706.1 L193.3 706.9 L195.3 707.6 L197.2 708.4 L198.9 709 L200.1 709.5" fill="none" stroke="#ff8210" stroke-width="3" stroke-linejoin="round" stroke-linecap="round"/>
<path d="M88.9 689.7 L89.1 688.4 L89.3 686.7 L89.5 684.7 L89.7 682.5 L90 680.3 L90.3 678.1 L90.6 675.9 L90.9 673.7 L91.2 671.4 L91.5 669.2 L91.8 667.1 L92.1 664.9 L92.5 662.8 L92.8 660.8 L93.2 658.8 L93.7 656.8 L94.1 654.9 L94.6 653 L95.2 651.1 L95.8 649.2 L96.5 647.3 L97.2 645.4 L98 643.5 L98.8 641.5 L99.6 639.6 L100.5 637.8 L101.4 635.9 L102.3 634 L103.2 632.2 L104.1 630.4 L105.1 628.7 L106.1 626.9 L107 625.2 L108 623.5 L109 621.9 L110.1 620.3 L111.1 618.7 L112.2 617.1 L113.3 615.5 L114.4 613.9 L115.6 612.3 L116.7 610.7 L117.9 609.1 L119.1 607.5 L120.3 605.9 L121.5 604.3 L122.7 602.7 L123.9 601.1 L125.1 599.4 L126.4 597.8 L127.6 596.2 L128.8 594.5 L130.1 592.8 L131.3 591.1 L132.6 589.4 L133.8 587.7 L135.1 586 L136.3 584.3 L137.6 582.6 L138.8 580.9 L140 579.2 L141.2 577.6 L142.3 576 L143.5 574.3 L144.7 572.7 L145.8 571 L147 569.4 L148.1 567.7 L149.3 566 L150.5 564.3 L151.6 562.6 L152.8 560.9 L153.9 559.2 L155 557.5 L156.2 555.7 L157.3 554 L158.4 552.2 L159.5 550.5 L160.6 548.7 L161.6 547 L162.7 545.2 L163.8 543.4 L164.9 541.6 L166 539.8 L167.1 538 L168.1 536.2 L169.2 534.4 L170.3 532.7 L171.4 530.9 L172.4 529.2 L173.5 527.4 L174.6 525.7 L175.7 523.9 L176.8 522.2 L177.9 520.4 L179 518.6 L180.1 516.9 L181.2 515.2 L182.3 513.4 L183.4 511.7 L184.5 510.1 L185.6 508.4 L186.7 506.8 L187.8 505.1 L188.9 503.5 L190.1 501.9 L191.3 500.3 L192.5 498.7 L193.7 497.1 L195 495.5 L196.2 493.9 L197.5 492.3 L198.8 490.7 L200.2 489.2 L201.6 487.6 L203 486.2 L204.4 484.7 L205.9 483.3 L207.4 481.9 L208.9 480.6 L210.5 479.3 L212.1 478 L213.7 476.8 L215.4 475.7 L217.1 474.6 L218.8 473.5 L220.5 472.4 L222.3 471.4 L224.1 470.4 L225.9 469.4 L227.7 468.4 L229.6 467.4 L231.4 466.5 L233.3 465.6 L235.2 464.7 L237 463.8 L238.9 463 L240.8 462.1 L242.7 461.3 L244.6 460.5 L246.5 459.7 L248.5 459 L250.4 458.3 L252.4 457.6 L254.3 456.9 L256.3 456.2 L258.2 455.6 L260.2 454.9 L262.1 454.3 L264.1 453.7 L266 453.1 L268 452.6 L270 452 L272 451.5 L273.9 451 L275.9 450.5 L277.9 450 L279.9 449.6 L281.9 449.1 L283.8 448.7 L285.8 448.3 L287.8 447.9 L289.8 447.5 L291.8 447.1 L293.9 446.7 L295.9 446.3 L298 445.9 L300.1 445.5 L302.3 445.1 L304.5 444.7 L306.7 444.3 L308.9 443.9 L311.1 443.5 L313.3 443.1 L315.4 442.7 L317.5 442.4 L319.6 442 L321.5 441.7 L323.4 441.4 L325 441.1 L326.3 440.9 L326.9 440.8" fill="none" stroke="#d836f2" stroke-width="3" stroke-linejoin="round" stroke-linecap="round"/>
<path d="M89.9 461.9 L90.1 463.1 L90.4 464.6 L90.8 466.4 L91.2 468.3 L91.5 470.3 L92 472.4 L92.4 474.6 L92.8 476.7 L93.2 478.9 L93.7 481.1 L94.1 483.4 L94.6 485.6 L95 487.8 L95.4 489.9 L95.9 492.1 L96.3 494.2 L96.7 496.3 L97.1 498.4 L97.5 500.4 L97.9 502.5 L98.3 504.6 L98.8 506.6 L99.2 508.6 L99.6 510.6 L100.1 512.6 L100.5 514.6 L101 516.5 L101.6 518.5 L102.1 520.4 L102.8 522.3 L103.4 524.2 L104.1 526.1 L104.8 528 L105.5 529.9 L106.3 531.7 L107 533.5 L107.8 535.3 L108.6 537.1 L109.5 539 L110.3 540.8 L111.1 542.6 L112 544.5 L112.8 546.4 L113.7 548.2 L114.6 550.1 L115.5 552 L116.4 553.9 L117.3 555.7 L118.2 557.6 L119.1 559.5 L120.1 561.3 L121 563.1 L122 564.9 L122.9 566.8 L123.9 568.5 L124.8 570.3 L125.8 572.1 L126.8 573.8 L127.8 575.6 L128.8 577.3 L129.8 579 L130.8 580.7 L131.8 582.3 L132.8 584 L133.9 585.7 L134.9 587.4 L135.9 589.1 L137 590.9 L138 592.6 L139 594.4 L140 596.2 L141 598 L142 599.8 L143 601.6 L144 603.4 L144.9 605.3 L146 607.1 L147 609 L148 610.8 L149.1 612.7 L150.1 614.5 L151.2 616.3 L152.4 618 L153.5 619.8 L154.7 621.5 L155.9 623.3 L157.1 624.9 L158.3 626.6 L159.6 628.3 L160.9 629.9 L162.1 631.5 L163.4 633.1 L164.7 634.7 L166 636.3 L167.3 637.9 L168.6 639.5 L169.9 641 L171.2 642.6 L172.5 644.2 L173.9 645.7 L175.2 647.3 L176.6 648.8 L178 650.3 L179.4 651.8 L180.8 653.2 L182.3 654.6 L183.8 656.1 L185.3 657.4 L186.8 658.8 L188.3 660.2 L189.9 661.5 L191.5 662.8 L193.1 664 L194.7 665.3 L196.4 666.4 L198 667.6 L199.7 668.7 L201.5 669.7 L203.2 670.7 L205 671.6 L206.8 672.5 L208.7 673.3 L210.5 674.1 L212.4 674.8 L214.3 675.5 L216.1 676.1 L218 676.7 L219.9 677.2 L221.8 677.7 L223.7 678.1 L225.6 678.5 L227.5 678.9 L229.4 679.3 L231.4 679.7 L233.3 680.1 L235.3 680.6 L237.2 681 L239.2 681.5 L241.1 682 L243.1 682.5 L245 683 L247 683.5 L248.9 684.1 L250.9 684.7 L252.8 685.3 L254.8 685.9 L256.8 686.5 L258.9 687.1 L260.9 687.8 L262.9 688.4 L264.9 689 L266.9 689.7 L268.8 690.3 L270.8 690.9 L272.7 691.6 L274.7 692.2 L276.6 692.9 L278.5 693.5 L280.4 694.1 L282.4 694.8 L284.3 695.5 L286.2 696.1 L288.1 696.8 L290.1 697.4 L292 698.1 L294 698.7 L296 699.4 L298 700.1 L300 700.8 L302.1 701.4 L304.2 702.1 L306.4 702.8 L308.5 703.5 L310.7 704.2 L312.8 704.9 L314.9 705.6 L316.9 706.3 L318.9 706.9 L320.8 707.5 L322.7 708.1 L324.3 708.7 L325.7 709.1 L326.9 709.5" fill="none" stroke="#d836f2" stroke-width="3" stroke-linejoin="round" stroke-linecap="round"/>
<path d="M88.9 686.8 L89.1 685.5 L89.3 683.8 L89.5 681.8 L89.7 679.6 L90 677.4 L90.3 675.2 L90.6 673 L90.9 670.7 L91.2 668.5 L91.5 666.2 L91.8 664 L92.1 661.8 L92.5 659.7 L92.8 657.6 L93.2 655.5 L93.6 653.4 L94.1 651.4 L94.6 649.4 L95.2 647.4 L95.8 645.4 L96.4 643.5 L97.1 641.5 L97.9 639.6 L98.7 637.6 L99.6 635.7 L100.5 633.9 L101.5 632.1 L102.5 630.3 L103.6 628.6 L104.8 627 L106 625.4 L107.3 623.9 L108.6 622.4 L110 621 L111.4 619.6 L112.8 618.2 L114.3 616.8 L115.7 615.4 L117.2 614 L118.7 612.5 L120.1 611.1 L121.6 609.6 L123 608.1 L124.4 606.6 L125.8 605 L127.1 603.5 L128.4 601.9 L129.7 600.4 L131 598.8 L132.2 597.2 L133.5 595.6 L134.8 594 L136 592.3 L137.3 590.6 L138.6 588.9 L139.9 587.2 L141.2 585.6 L142.5 583.9 L143.7 582.3 L145 580.6 L146.2 579 L147.4 577.4 L148.7 575.8 L149.9 574.2 L151.1 572.5 L152.4 570.9 L153.6 569.3 L154.8 567.7 L156.1 566.1 L157.3 564.4 L158.5 562.8 L159.8 561.2 L161 559.6 L162.2 558 L163.4 556.3 L164.7 554.7 L165.9 553.1 L167.1 551.5 L168.3 549.9 L169.5 548.3 L170.7 546.7 L172 545.1 L173.2 543.5 L174.4 541.9 L175.6 540.3 L176.8 538.7 L178 537.1 L179.2 535.6 L180.5 534 L181.7 532.4 L182.9 530.8 L184.2 529.2 L185.5 527.6 L186.8 526 L188.1 524.4 L189.4 522.8 L190.7 521.2 L192 519.7 L193.3 518.1 L194.6 516.5 L195.9 515 L197.2 513.5 L198.6 511.9 L199.9 510.4 L201.3 508.9 L202.7 507.4 L204.1 505.8 L205.5 504.3 L206.9 502.8 L208.3 501.3 L209.8 499.9 L211.2 498.4 L212.7 497 L214.1 495.6 L215.6 494.2 L217.1 492.9 L218.5 491.6 L220 490.3 L221.5 489 L223 487.8 L224.6 486.5 L226.1 485.4 L227.7 484.2 L229.3 483.1 L230.9 482 L232.6 480.9 L234.3 479.8 L236 478.8 L237.7 477.8 L239.5 476.8 L241.2 475.8 L243 474.9 L244.9 474 L246.7 473.1 L248.6 472.2 L250.5 471.3 L252.4 470.4 L254.3 469.6 L256.2 468.7 L258.1 467.9 L260 467.1 L261.9 466.3 L263.7 465.6 L265.6 464.8 L267.5 464.1 L269.3 463.5 L271.2 462.8 L273.1 462.2 L274.9 461.7 L276.8 461.1 L278.7 460.6 L280.5 460.1 L282.4 459.6 L284.3 459.2 L286.1 458.7 L288 458.2 L289.9 457.8 L291.8 457.3 L293.7 456.8 L295.6 456.3 L297.6 455.9 L299.5 455.4 L301.5 454.9 L303.6 454.4 L305.6 454 L307.7 453.5 L309.8 453 L311.8 452.6 L313.9 452.2 L315.9 451.8 L317.9 451.4 L319.9 451 L321.8 450.7 L323.8 450.4 L325.7 450 L327.6 449.7 L329.6 449.4 L331.5 449.1 L333.5 448.8 L335.5 448.5 L337.5 448.2 L339.6 447.9 L341.6 447.6 L343.7 447.3 L345.8 447.1 L347.8 446.8 L349.9 446.5 L352 446.2 L354.1 445.9 L356.3 445.7 L358.4 445.4 L360.6 445.1 L362.8 444.8 L365 444.6 L367.3 444.3 L369.5 444 L371.8 443.7 L374.1 443.5 L376.4 443.2 L378.6 443 L380.8 442.7 L382.9 442.5 L385 442.2 L387 442 L389 441.8 L390.9 441.6 L392.7 441.4 L394.3 441.2 L395.8 441 L397.1 440.9 L397.6 440.8" fill="none" stroke="#5b70f5" stroke-width="3" stroke-linejoin="round" stroke-linecap="round"/>
<path d="M89.9 460 L90.2 461.2 L90.5 462.6 L90.9 464.2 L91.3 466 L91.8 468 L92.3 470 L92.8 472 L93.3 474.1 L93.8 476.2 L94.3 478.3 L94.9 480.5 L95.4 482.6 L96 484.8 L96.6 486.9 L97.1 489 L97.7 491.1 L98.3 493.2 L98.9 495.2 L99.5 497.3 L100.1 499.3 L100.7 501.3 L101.3 503.3 L101.9 505.3 L102.5 507.3 L103.1 509.2 L103.8 511.2 L104.4 513.1 L105.1 514.9 L105.8 516.8 L106.5 518.6 L107.2 520.5 L108 522.3 L108.9 524.1 L109.7 525.8 L110.6 527.6 L111.6 529.3 L112.5 531.1 L113.5 532.8 L114.5 534.5 L115.5 536.2 L116.5 537.9 L117.5 539.6 L118.5 541.4 L119.6 543.1 L120.6 544.9 L121.7 546.7 L122.7 548.5 L123.8 550.3 L124.9 552.1 L126 554 L127 555.8 L128.1 557.6 L129.2 559.4 L130.3 561.2 L131.3 563 L132.4 564.8 L133.4 566.5 L134.5 568.3 L135.6 570.1 L136.7 571.8 L137.7 573.6 L138.8 575.3 L140 577 L141.1 578.7 L142.2 580.3 L143.4 582 L144.6 583.6 L145.9 585.2 L147.1 586.8 L148.3 588.4 L149.6 590 L150.8 591.6 L152.1 593.2 L153.3 594.8 L154.5 596.5 L155.8 598.2 L157 599.9 L158.2 601.7 L159.4 603.5 L160.5 605.3 L161.7 607.1 L162.8 608.9 L163.9 610.7 L165 612.4 L166 614.1 L167 615.8 L168 617.4 L169.1 619 L170.1 620.5 L171.1 622 L172.2 623.5 L173.4 624.9 L174.6 626.3 L175.9 627.8 L177.2 629.2 L178.6 630.7 L180.1 632.2 L181.6 633.7 L183.1 635.2 L184.6 636.7 L186.2 638.2 L187.8 639.7 L189.4 641.2 L190.9 642.7 L192.5 644.1 L194.1 645.5 L195.6 646.9 L197.2 648.2 L198.8 649.6 L200.3 650.8 L201.9 652.1 L203.5 653.3 L205.1 654.5 L206.7 655.7 L208.3 656.9 L210 658 L211.6 659 L213.3 660.1 L215.1 661.1 L216.8 662 L218.6 663 L220.4 663.9 L222.1 664.7 L223.9 665.6 L225.8 666.4 L227.6 667.2 L229.4 667.9 L231.3 668.7 L233.1 669.4 L235 670.1 L236.8 670.8 L238.7 671.5 L240.6 672.1 L242.5 672.8 L244.4 673.4 L246.3 673.9 L248.3 674.5 L250.2 675.1 L252.1 675.6 L254.1 676.1 L256.1 676.6 L258 677.1 L260 677.5 L262 678 L264 678.4 L266 678.8 L267.9 679.2 L269.9 679.6 L271.9 680 L273.8 680.3 L275.8 680.7 L277.8 681.1 L279.8 681.5 L281.8 681.8 L283.8 682.2 L285.7 682.7 L287.7 683.1 L289.6 683.5 L291.6 684 L293.5 684.4 L295.3 684.9 L297.2 685.4 L299.1 685.9 L301 686.4 L303 687 L305 687.5 L307 688 L309 688.6 L311 689.1 L313 689.7 L315 690.2 L317 690.7 L319 691.2 L321 691.7 L322.9 692.2 L324.9 692.7 L326.8 693.2 L328.8 693.7 L330.7 694.2 L332.7 694.7 L334.7 695.2 L336.8 695.7 L338.8 696.2 L340.8 696.7 L342.9 697.2 L345 697.7 L347 698.2 L349.1 698.7 L351.1 699.2 L353.2 699.8 L355.3 700.3 L357.4 700.8 L359.5 701.3 L361.7 701.8 L363.8 702.4 L366 702.9 L368.3 703.4 L370.5 704 L372.7 704.5 L374.9 705 L377 705.5 L379.1 706 L381.1 706.5 L383 707 L385 707.5 L386.8 707.9 L388.6 708.3 L390.2 708.7 L391.6 709.1 L392.9 709.4 L393.4 709.5" fill="none" stroke="#5b70f5" stroke-width="3" stroke-linejoin="round" stroke-linecap="round"/>
</g>
<path d="M320 481.3H372" stroke="#6cba4c" stroke-width="3.2" stroke-linecap="round"/>
<text x="376.5" y="488.8" font-size="23.5" text-anchor="start">-20</text>
<path d="M320 509.4H372" stroke="#ff8210" stroke-width="3.2" stroke-linecap="round"/>
<text x="376.5" y="516.9" font-size="23.5" text-anchor="start">-10</text>
<path d="M320 537.5H372" stroke="#d836f2" stroke-width="3.2" stroke-linecap="round"/>
<text x="376.5" y="545" font-size="23.5" text-anchor="start">0</text>
<path d="M320 565.6H372" stroke="#5b70f5" stroke-width="3.2" stroke-linecap="round"/>
<text x="376.5" y="573.1" font-size="23.5" text-anchor="start">10</text>
<path d="M320 593.7H372" stroke="#f2393e" stroke-width="3.2" stroke-linecap="round"/>
<text x="376.5" y="601.2" font-size="23.5" text-anchor="start">25</text>
<text x="230" y="571.7" font-size="23" text-anchor="start" font-weight="bold">1 A g<tspan font-size="16.5" dy="-11">-1</tspan></text>
<text x="320.5" y="649.2" font-size="23" text-anchor="start" font-weight="bold">Unit: °C</text>
<g clip-path="url(#ce)"><g fill="none" stroke="#f7901a" stroke-width="1.15">
<circle cx="594" cy="479.5" r="4.5"/><circle cx="593.5" cy="496.8" r="4.5"/><circle cx="595.5" cy="495.5" r="4.5"/><circle cx="595.3" cy="501.7" r="4.5"/><circle cx="593.3" cy="504.9" r="4.5"/><circle cx="593.6" cy="503.8" r="4.5"/><circle cx="594.2" cy="497.2" r="4.5"/><circle cx="596.4" cy="512.3" r="4.5"/><circle cx="595.2" cy="500.5" r="4.5"/><circle cx="598.1" cy="515" r="4.5"/><circle cx="598.3" cy="503.9" r="4.5"/><circle cx="600.7" cy="496.9" r="4.5"/><circle cx="600.5" cy="501.8" r="4.5"/><circle cx="597.3" cy="498.4" r="4.5"/><circle cx="598.5" cy="512.3" r="4.5"/><circle cx="598.3" cy="507.6" r="4.5"/><circle cx="601" cy="503.4" r="4.5"/><circle cx="600.9" cy="497" r="4.5"/><circle cx="598.8" cy="499.8" r="4.5"/><circle cx="602.3" cy="504.1" r="4.5"/><circle cx="600.9" cy="507.1" r="4.5"/><circle cx="602" cy="501.3" r="4.5"/><circle cx="604.1" cy="509.1" r="4.5"/><circle cx="601.7" cy="506.5" r="4.5"/><circle cx="603.5" cy="512.7" r="4.5"/><circle cx="604.9" cy="501.2" r="4.5"/><circle cx="606.6" cy="498" r="4.5"/><circle cx="604.2" cy="511" r="4.5"/><circle cx="603.2" cy="506" r="4.5"/><circle cx="603" cy="508.4" r="4.5"/><circle cx="607.1" cy="507.4" r="4.5"/><circle cx="608" cy="504.6" r="4.5"/><circle cx="607.5" cy="508.2" r="4.5"/><circle cx="607.3" cy="507.2" r="4.5"/><circle cx="609" cy="513.7" r="4.5"/><circle cx="607.6" cy="511" r="4.5"/><circle cx="605.9" cy="512.2" r="4.5"/><circle cx="609.2" cy="516.3" r="4.5"/><circle cx="610.5" cy="508.5" r="4.5"/><circle cx="608.7" cy="513.8" r="4.5"/><circle cx="607.3" cy="512" r="4.5"/><circle cx="608.4" cy="508.5" r="4.5"/><circle cx="608.2" cy="517.1" r="4.5"/><circle cx="609" cy="511.7" r="4.5"/><circle cx="610.7" cy="519.9" r="4.5"/><circle cx="609.5" cy="515.6" r="4.5"/><circle cx="612.3" cy="521.6" r="4.5"/><circle cx="614" cy="522.2" r="4.5"/><circle cx="611.7" cy="517.6" r="4.5"/><circle cx="612.5" cy="524.1" r="4.5"/><circle cx="615.9" cy="516.2" r="4.5"/><circle cx="612.4" cy="518.1" r="4.5"/><circle cx="613" cy="522" r="4.5"/><circle cx="615.2" cy="520.3" r="4.5"/><circle cx="612.7" cy="523" r="4.5"/><circle cx="614.9" cy="525.7" r="4.5"/><circle cx="618.2" cy="528.1" r="4.5"/><circle cx="616.4" cy="528.4" r="4.5"/><circle cx="617.6" cy="522.8" r="4.5"/><circle cx="619.1" cy="532.7" r="4.5"/><circle cx="619.4" cy="534.1" r="4.5"/><circle cx="617.4" cy="530.5" r="4.5"/><circle cx="616.3" cy="534.5" r="4.5"/><circle cx="616.5" cy="528.8" r="4.5"/><circle cx="617.6" cy="531.2" r="4.5"/><circle cx="618.7" cy="531.1" r="4.5"/><circle cx="617.4" cy="533.6" r="4.5"/><circle cx="618.3" cy="537.4" r="4.5"/><circle cx="618.3" cy="544.7" r="4.5"/><circle cx="621.6" cy="537.3" r="4.5"/><circle cx="620.2" cy="540.9" r="4.5"/><circle cx="621.1" cy="539.5" r="4.5"/><circle cx="624" cy="551.2" r="4.5"/><circle cx="622.4" cy="546.3" r="4.5"/><circle cx="620.9" cy="543" r="4.5"/><circle cx="622.6" cy="546.2" r="4.5"/><circle cx="625.4" cy="546.2" r="4.5"/><circle cx="621.8" cy="556.4" r="4.5"/><circle cx="624.7" cy="546.8" r="4.5"/><circle cx="621.4" cy="571.2" r="4.5"/><circle cx="621.8" cy="568.2" r="4.5"/><circle cx="622.2" cy="570.9" r="4.5"/><circle cx="622.6" cy="573.3" r="4.5"/><circle cx="623" cy="572.6" r="4.5"/><circle cx="623.4" cy="571.9" r="4.5"/><circle cx="623.8" cy="570" r="4.5"/><circle cx="624.2" cy="571.2" r="4.5"/><circle cx="624.6" cy="570.6" r="4.5"/><circle cx="625" cy="574.6" r="4.5"/><circle cx="625.3" cy="573.8" r="4.5"/><circle cx="625.7" cy="575.8" r="4.5"/><circle cx="626.1" cy="573.9" r="4.5"/><circle cx="626.5" cy="573.9" r="4.5"/><circle cx="626.9" cy="577.7" r="4.5"/><circle cx="627.3" cy="579.3" r="4.5"/><circle cx="627.7" cy="579.1" r="4.5"/><circle cx="628.1" cy="579.1" r="4.5"/><circle cx="628.5" cy="579.5" r="4.5"/><circle cx="628.9" cy="579.4" r="4.5"/><circle cx="629.3" cy="576.8" r="4.5"/><circle cx="629.7" cy="578.7" r="4.5"/><circle cx="630" cy="578.1" r="4.5"/><circle cx="630.4" cy="576.6" r="4.5"/><circle cx="630.8" cy="576.9" r="4.5"/><circle cx="631.2" cy="578.6" r="4.5"/><circle cx="631.6" cy="578.8" r="4.5"/><circle cx="632" cy="581.6" r="4.5"/><circle cx="632.4" cy="583.4" r="4.5"/><circle cx="632.8" cy="580.8" r="4.5"/><circle cx="633.2" cy="583.9" r="4.5"/><circle cx="633.6" cy="584.5" r="4.5"/><circle cx="634" cy="584.6" r="4.5"/><circle cx="634.4" cy="581.6" r="4.5"/><circle cx="634.8" cy="581.1" r="4.5"/><circle cx="635.1" cy="581.5" r="4.5"/><circle cx="635.5" cy="581.6" r="4.5"/><circle cx="635.9" cy="582" r="4.5"/><circle cx="636.3" cy="584.6" r="4.5"/><circle cx="636.7" cy="586.5" r="4.5"/><circle cx="637.1" cy="586.5" r="4.5"/><circle cx="637.5" cy="584.8" r="4.5"/><circle cx="637.9" cy="586.1" r="4.5"/><circle cx="638.3" cy="587.2" r="4.5"/><circle cx="638.7" cy="583.6" r="4.5"/><circle cx="639.1" cy="587.1" r="4.5"/><circle cx="639.5" cy="588.8" r="4.5"/><circle cx="639.8" cy="588.4" r="4.5"/><circle cx="640.2" cy="588.6" r="4.5"/><circle cx="640.6" cy="587.4" r="4.5"/><circle cx="641" cy="586" r="4.5"/><circle cx="641.4" cy="589.8" r="4.5"/><circle cx="641.8" cy="587.6" r="4.5"/><circle cx="642.2" cy="590.5" r="4.5"/><circle cx="642.6" cy="591.8" r="4.5"/><circle cx="643" cy="588.9" r="4.5"/><circle cx="643.4" cy="589.2" r="4.5"/><circle cx="643.8" cy="592.6" r="4.5"/><circle cx="644.2" cy="591.7" r="4.5"/><circle cx="644.6" cy="588.9" r="4.5"/><circle cx="644.9" cy="589" r="4.5"/><circle cx="645.3" cy="589.5" r="4.5"/><circle cx="645.7" cy="594" r="4.5"/><circle cx="646.1" cy="593.8" r="4.5"/><circle cx="646.5" cy="590.4" r="4.5"/><circle cx="646.9" cy="594.5" r="4.5"/><circle cx="647.3" cy="596" r="4.5"/><circle cx="647.7" cy="594.8" r="4.5"/><circle cx="648.1" cy="593.8" r="4.5"/><circle cx="648.5" cy="595.5" r="4.5"/><circle cx="648.9" cy="593.9" r="4.5"/><circle cx="649.3" cy="593.9" r="4.5"/><circle cx="649.6" cy="599.9" r="4.5"/><circle cx="650" cy="598.7" r="4.5"/><circle cx="650.4" cy="598.7" r="4.5"/><circle cx="650.8" cy="601.6" r="4.5"/><circle cx="651.2" cy="599.5" r="4.5"/><circle cx="651.6" cy="601.1" r="4.5"/><circle cx="652" cy="599.6" r="4.5"/><circle cx="652.4" cy="594.9" r="4.5"/><circle cx="652.8" cy="593.9" r="4.5"/><circle cx="653.2" cy="592.9" r="4.5"/><circle cx="653.6" cy="591.5" r="4.5"/><circle cx="654" cy="593.1" r="4.5"/><circle cx="654.4" cy="590.9" r="4.5"/><circle cx="654.7" cy="591.4" r="4.5"/><circle cx="655.1" cy="589.4" r="4.5"/><circle cx="655.5" cy="593.4" r="4.5"/><circle cx="655.9" cy="589.9" r="4.5"/><circle cx="656.3" cy="590.1" r="4.5"/><circle cx="656.7" cy="590.5" r="4.5"/><circle cx="657.1" cy="591.9" r="4.5"/><circle cx="657.5" cy="588.8" r="4.5"/><circle cx="657.9" cy="591.2" r="4.5"/><circle cx="658.3" cy="588.5" r="4.5"/><circle cx="658.7" cy="588.8" r="4.5"/><circle cx="659.1" cy="589.1" r="4.5"/><circle cx="659.4" cy="586.6" r="4.5"/><circle cx="659.8" cy="589.4" r="4.5"/><circle cx="660.2" cy="588.3" r="4.5"/><circle cx="660.6" cy="587.6" r="4.5"/><circle cx="661" cy="592.4" r="4.5"/><circle cx="661.4" cy="589.3" r="4.5"/><circle cx="661.8" cy="591.3" r="4.5"/><circle cx="662.2" cy="593.1" r="4.5"/><circle cx="662.6" cy="592.5" r="4.5"/><circle cx="663" cy="591.5" r="4.5"/><circle cx="663.4" cy="593" r="4.5"/><circle cx="663.8" cy="593.5" r="4.5"/><circle cx="664.2" cy="595.2" r="4.5"/><circle cx="664.5" cy="591.7" r="4.5"/><circle cx="664.9" cy="594.6" r="4.5"/><circle cx="665.3" cy="593.2" r="4.5"/><circle cx="665.7" cy="593.7" r="4.5"/><circle cx="666.1" cy="596.8" r="4.5"/><circle cx="666.5" cy="595.7" r="4.5"/><circle cx="666.9" cy="596.4" r="4.5"/><circle cx="667.3" cy="597.8" r="4.5"/><circle cx="667.7" cy="598.9" r="4.5"/><circle cx="668.1" cy="596.6" r="4.5"/><circle cx="668.5" cy="597.8" r="4.5"/><circle cx="668.9" cy="597.5" r="4.5"/><circle cx="669.2" cy="597.8" r="4.5"/><circle cx="669.6" cy="599.1" r="4.5"/><circle cx="670" cy="598" r="4.5"/><circle cx="670.4" cy="598.8" r="4.5"/><circle cx="670.8" cy="598.7" r="4.5"/><circle cx="671.2" cy="601.6" r="4.5"/><circle cx="671.6" cy="600.5" r="4.5"/><circle cx="672" cy="601.8" r="4.5"/><circle cx="672.4" cy="602.4" r="4.5"/><circle cx="672.8" cy="598.9" r="4.5"/><circle cx="673.2" cy="600.8" r="4.5"/><circle cx="673.6" cy="603.3" r="4.5"/><circle cx="674" cy="603" r="4.5"/><circle cx="674.3" cy="599.3" r="4.5"/><circle cx="674.7" cy="599.5" r="4.5"/><circle cx="675.1" cy="601.6" r="4.5"/><circle cx="675.5" cy="599.8" r="4.5"/><circle cx="675.9" cy="601" r="4.5"/><circle cx="676.3" cy="600.8" r="4.5"/><circle cx="676.7" cy="605" r="4.5"/><circle cx="677.1" cy="606.4" r="4.5"/><circle cx="677.5" cy="607.9" r="4.5"/><circle cx="677.9" cy="604.6" r="4.5"/><circle cx="678.3" cy="608.6" r="4.5"/><circle cx="678.7" cy="609.2" r="4.5"/><circle cx="679" cy="607.1" r="4.5"/><circle cx="679.4" cy="612.4" r="4.5"/><circle cx="679.8" cy="614" r="4.5"/><circle cx="680.2" cy="610.9" r="4.5"/><circle cx="680.6" cy="614.7" r="4.5"/><circle cx="681" cy="610.2" r="4.5"/><circle cx="681.4" cy="609.2" r="4.5"/><circle cx="681.8" cy="610.5" r="4.5"/><circle cx="682.2" cy="608.7" r="4.5"/><circle cx="682.6" cy="604.7" r="4.5"/><circle cx="683" cy="605.9" r="4.5"/><circle cx="683.4" cy="606.1" r="4.5"/><circle cx="683.8" cy="604.8" r="4.5"/><circle cx="684.1" cy="603.7" r="4.5"/><circle cx="684.5" cy="604.1" r="4.5"/><circle cx="684.9" cy="606" r="4.5"/><circle cx="685.3" cy="601.8" r="4.5"/><circle cx="685.7" cy="604.7" r="4.5"/><circle cx="686.1" cy="604.6" r="4.5"/><circle cx="686.5" cy="602.8" r="4.5"/><circle cx="686.9" cy="605" r="4.5"/><circle cx="687.3" cy="607.2" r="4.5"/><circle cx="687.7" cy="607.1" r="4.5"/><circle cx="688.1" cy="605.1" r="4.5"/><circle cx="688.5" cy="610.7" r="4.5"/><circle cx="688.8" cy="610.1" r="4.5"/><circle cx="689.2" cy="611.7" r="4.5"/><circle cx="689.6" cy="607.3" r="4.5"/><circle cx="690" cy="608.7" r="4.5"/><circle cx="690.4" cy="608" r="4.5"/><circle cx="690.8" cy="612.7" r="4.5"/><circle cx="691.2" cy="610.4" r="4.5"/><circle cx="691.6" cy="610.1" r="4.5"/><circle cx="692" cy="612.3" r="4.5"/><circle cx="692.4" cy="615.6" r="4.5"/><circle cx="692.8" cy="615.6" r="4.5"/><circle cx="693.2" cy="613" r="4.5"/><circle cx="693.6" cy="613" r="4.5"/><circle cx="693.9" cy="620.2" r="4.5"/><circle cx="694.3" cy="621.4" r="4.5"/><circle cx="694.7" cy="625.1" r="4.5"/><circle cx="695.1" cy="621" r="4.5"/><circle cx="695.5" cy="620.2" r="4.5"/><circle cx="695.9" cy="623" r="4.5"/><circle cx="696.3" cy="620.9" r="4.5"/><circle cx="696.7" cy="618.6" r="4.5"/><circle cx="697.1" cy="623.5" r="4.5"/><circle cx="697.5" cy="621.8" r="4.5"/><circle cx="697.9" cy="622.7" r="4.5"/><circle cx="698.3" cy="618.7" r="4.5"/><circle cx="698.6" cy="623" r="4.5"/><circle cx="699" cy="618.6" r="4.5"/><circle cx="699.4" cy="623" r="4.5"/><circle cx="699.8" cy="620.7" r="4.5"/><circle cx="700.2" cy="620.1" r="4.5"/><circle cx="700.6" cy="621.3" r="4.5"/><circle cx="701" cy="623.4" r="4.5"/><circle cx="701.4" cy="619.7" r="4.5"/><circle cx="701.8" cy="618.9" r="4.5"/><circle cx="702.2" cy="621.2" r="4.5"/><circle cx="702.6" cy="619.5" r="4.5"/><circle cx="703" cy="618.8" r="4.5"/><circle cx="703.4" cy="619.1" r="4.5"/><circle cx="703.7" cy="618.5" r="4.5"/><circle cx="704.1" cy="619.3" r="4.5"/><circle cx="704.5" cy="620" r="4.5"/><circle cx="704.9" cy="620" r="4.5"/><circle cx="705.3" cy="622.6" r="4.5"/><circle cx="705.7" cy="620" r="4.5"/><circle cx="706.1" cy="621.3" r="4.5"/><circle cx="706.5" cy="619.5" r="4.5"/><circle cx="706.9" cy="620.5" r="4.5"/><circle cx="707.3" cy="618.7" r="4.5"/><circle cx="707.7" cy="620.1" r="4.5"/><circle cx="708.1" cy="618.8" r="4.5"/><circle cx="708.4" cy="622.9" r="4.5"/><circle cx="708.8" cy="622" r="4.5"/><circle cx="709.2" cy="620" r="4.5"/><circle cx="709.6" cy="621.6" r="4.5"/><circle cx="710" cy="624.3" r="4.5"/><circle cx="710.4" cy="619.7" r="4.5"/><circle cx="710.8" cy="623.7" r="4.5"/><circle cx="711.2" cy="621.6" r="4.5"/><circle cx="711.6" cy="622" r="4.5"/><circle cx="712" cy="624" r="4.5"/><circle cx="712.4" cy="621.6" r="4.5"/><circle cx="712.8" cy="622.3" r="4.5"/><circle cx="713.2" cy="623.3" r="4.5"/><circle cx="713.5" cy="625" r="4.5"/><circle cx="713.9" cy="621.5" r="4.5"/><circle cx="714.3" cy="624.3" r="4.5"/><circle cx="714.7" cy="623.7" r="4.5"/><circle cx="715.1" cy="623.3" r="4.5"/><circle cx="715.5" cy="622.1" r="4.5"/><circle cx="715.9" cy="621.8" r="4.5"/><circle cx="716.3" cy="620.2" r="4.5"/><circle cx="716.7" cy="620.7" r="4.5"/><circle cx="717.1" cy="620.4" r="4.5"/><circle cx="717.5" cy="624.2" r="4.5"/><circle cx="717.9" cy="621.6" r="4.5"/><circle cx="718.2" cy="621.1" r="4.5"/><circle cx="718.6" cy="621.3" r="4.5"/><circle cx="719" cy="626.3" r="4.5"/><circle cx="719.4" cy="627.2" r="4.5"/><circle cx="719.8" cy="626.8" r="4.5"/><circle cx="720.2" cy="625.3" r="4.5"/><circle cx="720.6" cy="625.8" r="4.5"/><circle cx="721" cy="626.8" r="4.5"/><circle cx="721.4" cy="628.3" r="4.5"/><circle cx="721.8" cy="627.2" r="4.5"/><circle cx="722.2" cy="629.4" r="4.5"/><circle cx="722.6" cy="629" r="4.5"/><circle cx="723" cy="633.5" r="4.5"/><circle cx="723.3" cy="633.5" r="4.5"/><circle cx="723.7" cy="630.9" r="4.5"/><circle cx="724.1" cy="629" r="4.5"/><circle cx="724.5" cy="632.8" r="4.5"/><circle cx="724.9" cy="629" r="4.5"/><circle cx="725.3" cy="629" r="4.5"/><circle cx="725.7" cy="626.9" r="4.5"/><circle cx="726.1" cy="628.8" r="4.5"/><circle cx="726.5" cy="629.1" r="4.5"/><circle cx="726.9" cy="629.1" r="4.5"/><circle cx="727.3" cy="627.3" r="4.5"/><circle cx="727.7" cy="628.9" r="4.5"/><circle cx="728" cy="626" r="4.5"/><circle cx="728.4" cy="627.3" r="4.5"/><circle cx="728.8" cy="626.3" r="4.5"/><circle cx="729.2" cy="627.9" r="4.5"/><circle cx="729.6" cy="625.8" r="4.5"/><circle cx="730" cy="625.6" r="4.5"/><circle cx="730.4" cy="627.1" r="4.5"/><circle cx="730.8" cy="626.6" r="4.5"/><circle cx="731.2" cy="628.5" r="4.5"/><circle cx="731.6" cy="628.1" r="4.5"/><circle cx="732" cy="629.2" r="4.5"/><circle cx="732.4" cy="628.6" r="4.5"/><circle cx="732.8" cy="629.2" r="4.5"/><circle cx="733.1" cy="630.5" r="4.5"/><circle cx="733.5" cy="628.1" r="4.5"/><circle cx="733.9" cy="628.1" r="4.5"/><circle cx="734.3" cy="632.1" r="4.5"/><circle cx="734.7" cy="627.8" r="4.5"/><circle cx="735.1" cy="631.3" r="4.5"/><circle cx="735.5" cy="631.2" r="4.5"/><circle cx="735.9" cy="628.2" r="4.5"/><circle cx="736.3" cy="633" r="4.5"/><circle cx="736.7" cy="633.7" r="4.5"/><circle cx="737.1" cy="632.5" r="4.5"/><circle cx="737.5" cy="633.5" r="4.5"/><circle cx="737.8" cy="634.3" r="4.5"/><circle cx="738.2" cy="630.8" r="4.5"/><circle cx="738.6" cy="633.3" r="4.5"/><circle cx="739" cy="633.6" r="4.5"/><circle cx="739.4" cy="635.8" r="4.5"/><circle cx="739.8" cy="635.9" r="4.5"/><circle cx="740.2" cy="636.4" r="4.5"/><circle cx="740.6" cy="635.4" r="4.5"/><circle cx="741" cy="637.5" r="4.5"/><circle cx="741.4" cy="636.6" r="4.5"/><circle cx="741.8" cy="637.1" r="4.5"/><circle cx="742.2" cy="634.8" r="4.5"/><circle cx="742.6" cy="634.1" r="4.5"/><circle cx="742.9" cy="635" r="4.5"/><circle cx="743.3" cy="636.6" r="4.5"/><circle cx="743.7" cy="635.5" r="4.5"/><circle cx="744.1" cy="640" r="4.5"/><circle cx="744.5" cy="638.8" r="4.5"/><circle cx="744.9" cy="639.5" r="4.5"/><circle cx="745.3" cy="639.9" r="4.5"/><circle cx="745.7" cy="640.5" r="4.5"/><circle cx="746.1" cy="639.8" r="4.5"/><circle cx="746.5" cy="637.4" r="4.5"/><circle cx="746.9" cy="642.2" r="4.5"/><circle cx="747.3" cy="642.3" r="4.5"/><circle cx="747.6" cy="641.3" r="4.5"/><circle cx="748" cy="641.8" r="4.5"/><circle cx="748.4" cy="642.9" r="4.5"/><circle cx="748.8" cy="639.9" r="4.5"/><circle cx="749.2" cy="644" r="4.5"/><circle cx="749.6" cy="641.7" r="4.5"/><circle cx="750" cy="641" r="4.5"/><circle cx="750.4" cy="642.5" r="4.5"/><circle cx="750.8" cy="645.4" r="4.5"/><circle cx="751.2" cy="642.8" r="4.5"/><circle cx="751.6" cy="646" r="4.5"/><circle cx="752" cy="647.5" r="4.5"/><circle cx="752.4" cy="645" r="4.5"/><circle cx="752.7" cy="644.5" r="4.5"/><circle cx="753.1" cy="645.2" r="4.5"/><circle cx="753.5" cy="646.5" r="4.5"/><circle cx="753.9" cy="647.1" r="4.5"/><circle cx="754.3" cy="646.5" r="4.5"/><circle cx="754.7" cy="646.8" r="4.5"/><circle cx="755.1" cy="643.8" r="4.5"/><circle cx="755.5" cy="644.3" r="4.5"/><circle cx="755.9" cy="645.1" r="4.5"/><circle cx="756.3" cy="648" r="4.5"/><circle cx="756.7" cy="645.7" r="4.5"/><circle cx="757.1" cy="647.4" r="4.5"/><circle cx="757.4" cy="644.4" r="4.5"/><circle cx="757.8" cy="644.8" r="4.5"/><circle cx="758.2" cy="646.2" r="4.5"/><circle cx="758.6" cy="648.6" r="4.5"/><circle cx="759" cy="648.9" r="4.5"/><circle cx="759.4" cy="649" r="4.5"/><circle cx="759.8" cy="647" r="4.5"/><circle cx="760.2" cy="648.4" r="4.5"/><circle cx="760.6" cy="648.3" r="4.5"/><circle cx="761" cy="648.4" r="4.5"/><circle cx="761.4" cy="646.7" r="4.5"/><circle cx="761.8" cy="651.2" r="4.5"/><circle cx="762.2" cy="647.4" r="4.5"/><circle cx="762.5" cy="652" r="4.5"/><circle cx="762.9" cy="651.9" r="4.5"/><circle cx="763.3" cy="646.9" r="4.5"/><circle cx="763.7" cy="649.6" r="4.5"/><circle cx="764.1" cy="651.7" r="4.5"/><circle cx="764.5" cy="652.7" r="4.5"/><circle cx="764.9" cy="650" r="4.5"/><circle cx="765.3" cy="649.2" r="4.5"/><circle cx="765.7" cy="648.9" r="4.5"/><circle cx="766.1" cy="653.1" r="4.5"/><circle cx="766.5" cy="649.1" r="4.5"/><circle cx="766.9" cy="651.3" r="4.5"/><circle cx="767.2" cy="648.9" r="4.5"/><circle cx="767.6" cy="651.1" r="4.5"/><circle cx="768" cy="653.6" r="4.5"/><circle cx="768.4" cy="649.1" r="4.5"/><circle cx="768.8" cy="653" r="4.5"/><circle cx="769.2" cy="651.4" r="4.5"/><circle cx="769.6" cy="653.6" r="4.5"/><circle cx="770" cy="652.6" r="4.5"/><circle cx="770.4" cy="650.1" r="4.5"/><circle cx="770.8" cy="653.9" r="4.5"/><circle cx="771.2" cy="651.6" r="4.5"/><circle cx="771.6" cy="649.1" r="4.5"/><circle cx="772" cy="649.1" r="4.5"/><circle cx="772.3" cy="651.9" r="4.5"/><circle cx="772.7" cy="651.8" r="4.5"/><circle cx="773.1" cy="651" r="4.5"/><circle cx="773.5" cy="650.2" r="4.5"/><circle cx="773.9" cy="651.4" r="4.5"/><circle cx="774.3" cy="651.4" r="4.5"/><circle cx="774.7" cy="654.4" r="4.5"/><circle cx="775.1" cy="649.6" r="4.5"/><circle cx="775.5" cy="653.6" r="4.5"/><circle cx="775.9" cy="653.9" r="4.5"/><circle cx="776.3" cy="649.7" r="4.5"/><circle cx="776.7" cy="654" r="4.5"/><circle cx="777" cy="652.6" r="4.5"/><circle cx="777.4" cy="653.5" r="4.5"/><circle cx="777.8" cy="649.9" r="4.5"/><circle cx="778.2" cy="650.1" r="4.5"/><circle cx="778.6" cy="650.1" r="4.5"/><circle cx="779" cy="653.3" r="4.5"/><circle cx="779.4" cy="650.8" r="4.5"/><circle cx="779.8" cy="649.3" r="4.5"/><circle cx="780.2" cy="649.5" r="4.5"/><circle cx="780.6" cy="648.6" r="4.5"/><circle cx="781" cy="647.2" r="4.5"/><circle cx="781.4" cy="647.4" r="4.5"/><circle cx="781.8" cy="651.4" r="4.5"/><circle cx="782.1" cy="648.2" r="4.5"/><circle cx="782.5" cy="651.8" r="4.5"/><circle cx="782.9" cy="647.8" r="4.5"/><circle cx="783.3" cy="647.8" r="4.5"/><circle cx="783.7" cy="649.1" r="4.5"/><circle cx="784.1" cy="647.2" r="4.5"/><circle cx="784.5" cy="648.1" r="4.5"/><circle cx="784.9" cy="651.3" r="4.5"/><circle cx="785.3" cy="650.7" r="4.5"/><circle cx="785.7" cy="650.2" r="4.5"/><circle cx="786.1" cy="649.1" r="4.5"/><circle cx="786.5" cy="650.7" r="4.5"/><circle cx="786.8" cy="650.9" r="4.5"/><circle cx="787.2" cy="648.7" r="4.5"/><circle cx="787.6" cy="649.6" r="4.5"/><circle cx="788" cy="645.9" r="4.5"/><circle cx="788.4" cy="649.7" r="4.5"/><circle cx="788.8" cy="648.1" r="4.5"/><circle cx="789.2" cy="649.8" r="4.5"/><circle cx="789.6" cy="649.2" r="4.5"/><circle cx="790" cy="647.2" r="4.5"/><circle cx="790.4" cy="645.9" r="4.5"/><circle cx="790.8" cy="650.8" r="4.5"/><circle cx="791.2" cy="646.3" r="4.5"/><circle cx="791.6" cy="648.2" r="4.5"/><circle cx="791.9" cy="647.5" r="4.5"/><circle cx="792.3" cy="647.3" r="4.5"/><circle cx="792.7" cy="649.7" r="4.5"/><circle cx="793.1" cy="651.1" r="4.5"/><circle cx="793.5" cy="647.1" r="4.5"/><circle cx="793.9" cy="649.8" r="4.5"/><circle cx="794.3" cy="648.4" r="4.5"/><circle cx="794.7" cy="650.4" r="4.5"/><circle cx="795.1" cy="650.2" r="4.5"/><circle cx="795.5" cy="649.5" r="4.5"/><circle cx="795.9" cy="650.1" r="4.5"/><circle cx="796.3" cy="651" r="4.5"/><circle cx="796.6" cy="655.5" r="4.5"/><circle cx="797" cy="653.9" r="4.5"/><circle cx="797.4" cy="653" r="4.5"/><circle cx="797.8" cy="657.5" r="4.5"/><circle cx="798.2" cy="658.6" r="4.5"/><circle cx="798.6" cy="655.4" r="4.5"/><circle cx="799" cy="653.2" r="4.5"/><circle cx="799.4" cy="653.1" r="4.5"/><circle cx="799.8" cy="652.1" r="4.5"/><circle cx="800.2" cy="653" r="4.5"/><circle cx="800.6" cy="651.2" r="4.5"/><circle cx="801" cy="651.6" r="4.5"/><circle cx="801.4" cy="651.6" r="4.5"/><circle cx="801.7" cy="653.3" r="4.5"/><circle cx="802.1" cy="655" r="4.5"/><circle cx="802.5" cy="654.2" r="4.5"/><circle cx="802.9" cy="652.2" r="4.5"/><circle cx="803.3" cy="652.2" r="4.5"/><circle cx="803.7" cy="652.7" r="4.5"/><circle cx="804.1" cy="651.8" r="4.5"/><circle cx="804.5" cy="651.5" r="4.5"/><circle cx="804.9" cy="649.9" r="4.5"/><circle cx="805.3" cy="651.1" r="4.5"/><circle cx="805.7" cy="654.9" r="4.5"/><circle cx="806.1" cy="650.1" r="4.5"/><circle cx="806.4" cy="652.2" r="4.5"/><circle cx="806.8" cy="652.8" r="4.5"/><circle cx="807.2" cy="654.1" r="4.5"/><circle cx="807.6" cy="650.4" r="4.5"/><circle cx="808" cy="650.6" r="4.5"/><circle cx="808.4" cy="650.4" r="4.5"/><circle cx="808.8" cy="651.2" r="4.5"/><circle cx="809.2" cy="651.4" r="4.5"/><circle cx="809.6" cy="654.2" r="4.5"/><circle cx="810" cy="653.5" r="4.5"/><circle cx="810.4" cy="653.6" r="4.5"/><circle cx="810.8" cy="648.8" r="4.5"/><circle cx="811.2" cy="648.8" r="4.5"/><circle cx="811.5" cy="652.5" r="4.5"/><circle cx="811.9" cy="653.5" r="4.5"/><circle cx="812.3" cy="651.1" r="4.5"/><circle cx="812.7" cy="651.7" r="4.5"/><circle cx="813.1" cy="648.5" r="4.5"/><circle cx="813.5" cy="650.8" r="4.5"/><circle cx="813.9" cy="653.9" r="4.5"/><circle cx="814.3" cy="653.5" r="4.5"/><circle cx="814.7" cy="653.7" r="4.5"/><circle cx="815.1" cy="654.5" r="4.5"/><circle cx="815.5" cy="650.5" r="4.5"/><circle cx="815.9" cy="649.8" r="4.5"/><circle cx="816.2" cy="650.2" r="4.5"/><circle cx="816.6" cy="652.3" r="4.5"/><circle cx="817" cy="653.3" r="4.5"/><circle cx="817.4" cy="654.9" r="4.5"/><circle cx="817.8" cy="653.7" r="4.5"/><circle cx="818.2" cy="653.4" r="4.5"/><circle cx="818.6" cy="654.1" r="4.5"/><circle cx="819" cy="652.5" r="4.5"/><circle cx="819.4" cy="653.1" r="4.5"/><circle cx="819.8" cy="650.4" r="4.5"/><circle cx="820.2" cy="654.6" r="4.5"/><circle cx="820.6" cy="651.6" r="4.5"/><circle cx="821" cy="655.5" r="4.5"/><circle cx="821.3" cy="654" r="4.5"/><circle cx="821.7" cy="652.1" r="4.5"/><circle cx="822.1" cy="651.2" r="4.5"/><circle cx="822.5" cy="652" r="4.5"/><circle cx="822.9" cy="654.2" r="4.5"/><circle cx="823.3" cy="654.6" r="4.5"/><circle cx="823.7" cy="651.3" r="4.5"/><circle cx="824.1" cy="651.2" r="4.5"/><circle cx="824.5" cy="653.8" r="4.5"/><circle cx="824.9" cy="654.1" r="4.5"/><circle cx="825.3" cy="653.1" r="4.5"/><circle cx="825.7" cy="652.2" r="4.5"/><circle cx="826" cy="654.4" r="4.5"/><circle cx="826.4" cy="651.2" r="4.5"/><circle cx="826.8" cy="652.8" r="4.5"/><circle cx="827.2" cy="653.8" r="4.5"/><circle cx="827.6" cy="656.6" r="4.5"/><circle cx="828" cy="654.9" r="4.5"/><circle cx="828.4" cy="656.3" r="4.5"/><circle cx="828.8" cy="654.1" r="4.5"/><circle cx="829.2" cy="652.8" r="4.5"/><circle cx="829.6" cy="652.9" r="4.5"/><circle cx="830" cy="657" r="4.5"/><circle cx="830.4" cy="655.6" r="4.5"/><circle cx="830.8" cy="653.4" r="4.5"/><circle cx="831.1" cy="651.9" r="4.5"/><circle cx="831.5" cy="654.6" r="4.5"/><circle cx="831.9" cy="655.6" r="4.5"/><circle cx="832.3" cy="654.3" r="4.5"/><circle cx="832.7" cy="653.4" r="4.5"/><circle cx="833.1" cy="655.8" r="4.5"/><circle cx="833.5" cy="657.3" r="4.5"/><circle cx="833.9" cy="653.4" r="4.5"/><circle cx="834.3" cy="652.4" r="4.5"/><circle cx="834.7" cy="654.1" r="4.5"/><circle cx="835.1" cy="654.6" r="4.5"/><circle cx="835.5" cy="656.2" r="4.5"/><circle cx="835.8" cy="653.5" r="4.5"/><circle cx="836.2" cy="656.9" r="4.5"/><circle cx="836.6" cy="656.6" r="4.5"/><circle cx="837" cy="655.3" r="4.5"/><circle cx="837.4" cy="653.7" r="4.5"/><circle cx="837.8" cy="658" r="4.5"/><circle cx="838.2" cy="654.4" r="4.5"/><circle cx="838.6" cy="657.3" r="4.5"/><circle cx="839" cy="654.1" r="4.5"/><circle cx="839.4" cy="654" r="4.5"/><circle cx="839.8" cy="657.1" r="4.5"/><circle cx="840.2" cy="654.6" r="4.5"/><circle cx="840.6" cy="658.3" r="4.5"/><circle cx="840.9" cy="655.8" r="4.5"/><circle cx="841.3" cy="654.1" r="4.5"/><circle cx="841.7" cy="654.3" r="4.5"/><circle cx="842.1" cy="655.5" r="4.5"/><circle cx="842.5" cy="656.9" r="4.5"/><circle cx="842.9" cy="658.6" r="4.5"/><circle cx="843.3" cy="654.1" r="4.5"/><circle cx="843.7" cy="655.5" r="4.5"/><circle cx="844.1" cy="654.6" r="4.5"/><circle cx="844.5" cy="658.9" r="4.5"/><circle cx="844.9" cy="654.3" r="4.5"/><circle cx="845.3" cy="653.8" r="4.5"/><circle cx="845.6" cy="653.9" r="4.5"/><circle cx="846" cy="655.8" r="4.5"/><circle cx="846.4" cy="658.7" r="4.5"/><circle cx="846.8" cy="658.7" r="4.5"/><circle cx="847.2" cy="657.9" r="4.5"/><circle cx="847.6" cy="659.4" r="4.5"/><circle cx="848" cy="659.1" r="4.5"/><circle cx="848.4" cy="655.8" r="4.5"/><circle cx="848.8" cy="655" r="4.5"/><circle cx="849.2" cy="659.2" r="4.5"/><circle cx="849.6" cy="658.2" r="4.5"/><circle cx="850" cy="654.3" r="4.5"/><circle cx="850.4" cy="657.9" r="4.5"/><circle cx="850.7" cy="656.3" r="4.5"/><circle cx="851.1" cy="656.3" r="4.5"/><circle cx="851.5" cy="656.1" r="4.5"/><circle cx="851.9" cy="655.3" r="4.5"/><circle cx="852.3" cy="654.4" r="4.5"/><circle cx="852.7" cy="656" r="4.5"/><circle cx="853.1" cy="656.4" r="4.5"/><circle cx="853.5" cy="659.9" r="4.5"/><circle cx="853.9" cy="655.3" r="4.5"/><circle cx="854.3" cy="660" r="4.5"/><circle cx="854.7" cy="655.8" r="4.5"/><circle cx="855.1" cy="656.7" r="4.5"/><circle cx="855.4" cy="659.4" r="4.5"/><circle cx="855.8" cy="659.4" r="4.5"/><circle cx="856.2" cy="657.3" r="4.5"/><circle cx="856.6" cy="655.2" r="4.5"/><circle cx="857" cy="657.6" r="4.5"/><circle cx="857.4" cy="657.1" r="4.5"/><circle cx="857.8" cy="660.2" r="4.5"/><circle cx="858.2" cy="656.2" r="4.5"/><circle cx="858.6" cy="657.2" r="4.5"/><circle cx="859" cy="660.2" r="4.5"/><circle cx="859.4" cy="655.4" r="4.5"/><circle cx="859.8" cy="657.6" r="4.5"/><circle cx="860.2" cy="659.9" r="4.5"/><circle cx="860.5" cy="659.7" r="4.5"/><circle cx="860.9" cy="655.7" r="4.5"/><circle cx="861.3" cy="655.7" r="4.5"/><circle cx="861.7" cy="655.9" r="4.5"/><circle cx="862.1" cy="660.7" r="4.5"/><circle cx="862.5" cy="657.1" r="4.5"/><circle cx="862.9" cy="659.9" r="4.5"/><circle cx="863.3" cy="660.8" r="4.5"/><circle cx="863.7" cy="657.7" r="4.5"/><circle cx="864.1" cy="657.3" r="4.5"/><circle cx="864.5" cy="661.2" r="4.5"/><circle cx="864.9" cy="659.4" r="4.5"/><circle cx="865.2" cy="657.4" r="4.5"/><circle cx="865.6" cy="660" r="4.5"/><circle cx="866" cy="657.8" r="4.5"/><circle cx="866.4" cy="657.7" r="4.5"/><circle cx="866.8" cy="656.2" r="4.5"/><circle cx="867.2" cy="660.5" r="4.5"/><circle cx="867.6" cy="661.4" r="4.5"/><circle cx="868" cy="659.9" r="4.5"/><circle cx="868.4" cy="661.7" r="4.5"/><circle cx="868.8" cy="656.6" r="4.5"/><circle cx="869.2" cy="657.8" r="4.5"/><circle cx="869.6" cy="659.2" r="4.5"/><circle cx="870" cy="661.9" r="4.5"/><circle cx="870.3" cy="662" r="4.5"/><circle cx="870.7" cy="658.8" r="4.5"/><circle cx="871.1" cy="658.1" r="4.5"/><circle cx="871.5" cy="659.2" r="4.5"/><circle cx="871.9" cy="659.6" r="4.5"/><circle cx="872.3" cy="662.1" r="4.5"/><circle cx="872.7" cy="657.9" r="4.5"/><circle cx="873.1" cy="661.5" r="4.5"/><circle cx="873.5" cy="661.2" r="4.5"/><circle cx="873.9" cy="661.7" r="4.5"/><circle cx="874.3" cy="661.5" r="4.5"/><circle cx="874.7" cy="660.6" r="4.5"/><circle cx="875" cy="659.1" r="4.5"/><circle cx="875.4" cy="659.1" r="4.5"/><circle cx="875.8" cy="659.3" r="4.5"/><circle cx="876.2" cy="661.8" r="4.5"/><circle cx="876.6" cy="657.9" r="4.5"/><circle cx="877" cy="658.6" r="4.5"/><circle cx="877.4" cy="661.7" r="4.5"/><circle cx="877.8" cy="659" r="4.5"/><circle cx="878.2" cy="658" r="4.5"/><circle cx="878.6" cy="657.9" r="4.5"/><circle cx="879" cy="660.8" r="4.5"/><circle cx="879.4" cy="659.6" r="4.5"/><circle cx="879.8" cy="663.3" r="4.5"/><circle cx="880.1" cy="662.8" r="4.5"/><circle cx="880.5" cy="663.5" r="4.5"/><circle cx="880.9" cy="659.5" r="4.5"/><circle cx="881.3" cy="658.5" r="4.5"/><circle cx="881.7" cy="658.6" r="4.5"/><circle cx="882.1" cy="660.9" r="4.5"/><circle cx="882.5" cy="662.1" r="4.5"/><circle cx="882.9" cy="660.7" r="4.5"/><circle cx="883.3" cy="659.6" r="4.5"/><circle cx="883.7" cy="660.7" r="4.5"/><circle cx="884.1" cy="661.8" r="4.5"/><circle cx="884.5" cy="662.2" r="4.5"/><circle cx="884.8" cy="662.7" r="4.5"/><circle cx="885.2" cy="663.3" r="4.5"/><circle cx="885.6" cy="662.3" r="4.5"/><circle cx="886" cy="659.3" r="4.5"/><circle cx="886.4" cy="663.4" r="4.5"/><circle cx="886.8" cy="660.4" r="4.5"/><circle cx="887.2" cy="661.9" r="4.5"/><circle cx="887.6" cy="660.9" r="4.5"/><circle cx="888" cy="663" r="4.5"/><circle cx="888.4" cy="660" r="4.5"/><circle cx="888.8" cy="660.4" r="4.5"/><circle cx="889.2" cy="660.2" r="4.5"/><circle cx="889.6" cy="659.3" r="4.5"/><circle cx="889.9" cy="663" r="4.5"/><circle cx="890.3" cy="661" r="4.5"/><circle cx="890.7" cy="659.2" r="4.5"/><circle cx="891.1" cy="659.2" r="4.5"/><circle cx="891.5" cy="662.1" r="4.5"/><circle cx="891.9" cy="659.1" r="4.5"/><circle cx="892.3" cy="657.1" r="4.5"/><circle cx="892.7" cy="660" r="4.5"/><circle cx="893.1" cy="658.7" r="4.5"/><circle cx="893.5" cy="660.3" r="4.5"/><circle cx="893.9" cy="654.9" r="4.5"/><circle cx="894.3" cy="656.7" r="4.5"/><circle cx="894.6" cy="658.3" r="4.5"/><circle cx="895" cy="658.2" r="4.5"/><circle cx="895.4" cy="658.3" r="4.5"/><circle cx="895.8" cy="653.2" r="4.5"/><circle cx="896.2" cy="654.3" r="4.5"/><circle cx="896.6" cy="653.1" r="4.5"/><circle cx="897" cy="653.2" r="4.5"/><circle cx="897.4" cy="657.3" r="4.5"/><circle cx="897.8" cy="654.8" r="4.5"/><circle cx="898.2" cy="656.5" r="4.5"/><circle cx="898.6" cy="653.1" r="4.5"/><circle cx="899" cy="655.6" r="4.5"/><circle cx="899.4" cy="653" r="4.5"/><circle cx="899.7" cy="651.7" r="4.5"/><circle cx="900.1" cy="654.3" r="4.5"/><circle cx="900.5" cy="655" r="4.5"/><circle cx="900.9" cy="650.2" r="4.5"/><circle cx="901.3" cy="652.9" r="4.5"/><circle cx="901.7" cy="652.9" r="4.5"/><circle cx="902.1" cy="650.6" r="4.5"/><circle cx="902.5" cy="651.4" r="4.5"/><circle cx="902.9" cy="650" r="4.5"/><circle cx="903.3" cy="650.3" r="4.5"/><circle cx="903.7" cy="650.5" r="4.5"/><circle cx="904.1" cy="652.3" r="4.5"/><circle cx="904.4" cy="652.5" r="4.5"/><circle cx="904.8" cy="650" r="4.5"/><circle cx="905.2" cy="648.8" r="4.5"/><circle cx="905.6" cy="650.5" r="4.5"/><circle cx="906" cy="652.4" r="4.5"/><circle cx="906.4" cy="649.5" r="4.5"/><circle cx="906.8" cy="650.2" r="4.5"/><circle cx="907.2" cy="649.5" r="4.5"/><circle cx="907.6" cy="652.7" r="4.5"/><circle cx="908" cy="651.2" r="4.5"/><circle cx="908.4" cy="648.5" r="4.5"/><circle cx="908.8" cy="648.6" r="4.5"/><circle cx="909.2" cy="650.2" r="4.5"/><circle cx="909.5" cy="650.9" r="4.5"/><circle cx="909.9" cy="651.4" r="4.5"/><circle cx="910.3" cy="648.2" r="4.5"/><circle cx="910.7" cy="648.5" r="4.5"/><circle cx="911.1" cy="651.4" r="4.5"/><circle cx="911.5" cy="649.8" r="4.5"/><circle cx="911.9" cy="649" r="4.5"/><circle cx="912.3" cy="649" r="4.5"/><circle cx="912.7" cy="652.6" r="4.5"/><circle cx="913.1" cy="648.9" r="4.5"/><circle cx="913.5" cy="650.3" r="4.5"/><circle cx="913.9" cy="649.1" r="4.5"/><circle cx="914.2" cy="649.4" r="4.5"/><circle cx="914.6" cy="651.8" r="4.5"/><circle cx="915" cy="652.5" r="4.5"/><circle cx="915.4" cy="649" r="4.5"/><circle cx="915.8" cy="648" r="4.5"/><circle cx="916.2" cy="650.9" r="4.5"/><circle cx="916.6" cy="647.9" r="4.5"/><circle cx="917" cy="646.8" r="4.5"/><circle cx="917.4" cy="651.8" r="4.5"/><circle cx="917.8" cy="649" r="4.5"/><circle cx="918.2" cy="651.2" r="4.5"/><circle cx="918.6" cy="648.9" r="4.5"/><circle cx="919" cy="651.5" r="4.5"/><circle cx="919.3" cy="649.1" r="4.5"/><circle cx="919.7" cy="647.4" r="4.5"/><circle cx="920.1" cy="646.5" r="4.5"/><circle cx="920.5" cy="649.5" r="4.5"/><circle cx="920.9" cy="649.9" r="4.5"/><circle cx="921.3" cy="651.4" r="4.5"/><circle cx="921.7" cy="646.7" r="4.5"/><circle cx="922.1" cy="649.7" r="4.5"/><circle cx="922.5" cy="648.2" r="4.5"/><circle cx="922.9" cy="648.9" r="4.5"/><circle cx="923.3" cy="646.9" r="4.5"/><circle cx="923.7" cy="647.6" r="4.5"/><circle cx="924" cy="648.9" r="4.5"/><circle cx="924.4" cy="651.1" r="4.5"/><circle cx="924.8" cy="646.5" r="4.5"/><circle cx="925.2" cy="648.6" r="4.5"/><circle cx="925.6" cy="650.3" r="4.5"/><circle cx="926" cy="651.2" r="4.5"/><circle cx="926.4" cy="646.9" r="4.5"/><circle cx="926.8" cy="646.4" r="4.5"/><circle cx="927.2" cy="650.9" r="4.5"/><circle cx="927.6" cy="651.1" r="4.5"/><circle cx="928" cy="648.3" r="4.5"/><circle cx="928.4" cy="645.8" r="4.5"/><circle cx="928.8" cy="650.7" r="4.5"/><circle cx="929.1" cy="647.6" r="4.5"/><circle cx="929.5" cy="650.5" r="4.5"/><circle cx="929.9" cy="648.8" r="4.5"/><circle cx="930.3" cy="649.9" r="4.5"/><circle cx="930.7" cy="646.2" r="4.5"/><circle cx="931.1" cy="649.6" r="4.5"/><circle cx="931.5" cy="646.4" r="4.5"/><circle cx="931.9" cy="647.4" r="4.5"/><circle cx="932.3" cy="649.9" r="4.5"/><circle cx="932.7" cy="649.7" r="4.5"/><circle cx="933.1" cy="646.1" r="4.5"/><circle cx="933.5" cy="646.2" r="4.5"/><circle cx="933.8" cy="647.4" r="4.5"/><circle cx="934.2" cy="648.2" r="4.5"/><circle cx="934.6" cy="647.5" r="4.5"/><circle cx="935" cy="646.2" r="4.5"/><circle cx="935.4" cy="647" r="4.5"/><circle cx="935.8" cy="649.8" r="4.5"/><circle cx="936.2" cy="650.9" r="4.5"/><circle cx="936.6" cy="646.2" r="4.5"/><circle cx="937" cy="649.3" r="4.5"/><circle cx="937.4" cy="650.5" r="4.5"/><circle cx="937.8" cy="646.6" r="4.5"/><circle cx="938.2" cy="651.2" r="4.5"/><circle cx="938.6" cy="647.3" r="4.5"/><circle cx="938.9" cy="650.1" r="4.5"/><circle cx="939.3" cy="649.9" r="4.5"/><circle cx="939.7" cy="650.5" r="4.5"/><circle cx="940.1" cy="648.8" r="4.5"/><circle cx="940.5" cy="649.6" r="4.5"/><circle cx="940.9" cy="650.6" r="4.5"/><circle cx="941.3" cy="649.8" r="4.5"/><circle cx="941.7" cy="651.3" r="4.5"/><circle cx="942.1" cy="650.2" r="4.5"/><circle cx="942.5" cy="650.3" r="4.5"/><circle cx="942.9" cy="648.1" r="4.5"/><circle cx="943.3" cy="651.5" r="4.5"/><circle cx="943.6" cy="650.9" r="4.5"/><circle cx="944" cy="649.8" r="4.5"/><circle cx="944.4" cy="653" r="4.5"/><circle cx="944.8" cy="653.4" r="4.5"/><circle cx="945.2" cy="651.9" r="4.5"/><circle cx="945.6" cy="650.6" r="4.5"/><circle cx="946" cy="652.5" r="4.5"/><circle cx="946.4" cy="650.8" r="4.5"/><circle cx="946.8" cy="651.2" r="4.5"/><circle cx="947.2" cy="653.1" r="4.5"/><circle cx="947.6" cy="651.5" r="4.5"/><circle cx="948" cy="653.8" r="4.5"/><circle cx="948.4" cy="654.4" r="4.5"/><circle cx="948.7" cy="652.1" r="4.5"/><circle cx="949.1" cy="655.7" r="4.5"/><circle cx="949.5" cy="652.9" r="4.5"/><circle cx="949.9" cy="656.8" r="4.5"/><circle cx="950.3" cy="657.4" r="4.5"/><circle cx="950.7" cy="656.2" r="4.5"/><circle cx="951.1" cy="653.9" r="4.5"/><circle cx="951.5" cy="656.7" r="4.5"/><circle cx="951.9" cy="656.3" r="4.5"/><circle cx="952.3" cy="659.8" r="4.5"/><circle cx="952.7" cy="655.5" r="4.5"/><circle cx="953.1" cy="659.8" r="4.5"/><circle cx="953.4" cy="660.9" r="4.5"/><circle cx="953.8" cy="659.7" r="4.5"/><circle cx="954.2" cy="660.3" r="4.5"/><circle cx="954.6" cy="656.8" r="4.5"/><circle cx="955" cy="661.3" r="4.5"/><circle cx="955.4" cy="658.6" r="4.5"/><circle cx="955.8" cy="661.2" r="4.5"/><circle cx="956.2" cy="661" r="4.5"/><circle cx="956.6" cy="656.9" r="4.5"/><circle cx="957" cy="660.4" r="4.5"/><circle cx="957.4" cy="661.2" r="4.5"/><circle cx="957.8" cy="656.4" r="4.5"/><circle cx="958.2" cy="658.1" r="4.5"/><circle cx="958.5" cy="660.4" r="4.5"/><circle cx="958.9" cy="657.1" r="4.5"/><circle cx="959.3" cy="661.2" r="4.5"/><circle cx="959.7" cy="657.8" r="4.5"/><circle cx="960.1" cy="660.9" r="4.5"/><circle cx="960.5" cy="657.1" r="4.5"/><circle cx="960.9" cy="659.2" r="4.5"/><circle cx="961.3" cy="661.6" r="4.5"/><circle cx="961.7" cy="657.6" r="4.5"/><circle cx="962.1" cy="657.9" r="4.5"/><circle cx="962.5" cy="659.3" r="4.5"/><circle cx="962.9" cy="658.3" r="4.5"/><circle cx="963.2" cy="656.8" r="4.5"/><circle cx="963.6" cy="657.6" r="4.5"/><circle cx="964" cy="657.6" r="4.5"/><circle cx="964.4" cy="662" r="4.5"/><circle cx="964.8" cy="660.7" r="4.5"/><circle cx="965.2" cy="662.2" r="4.5"/><circle cx="965.6" cy="658.3" r="4.5"/><circle cx="966" cy="662" r="4.5"/><circle cx="966.4" cy="658.5" r="4.5"/><circle cx="966.8" cy="661" r="4.5"/><circle cx="967.2" cy="661.8" r="4.5"/><circle cx="967.6" cy="660.5" r="4.5"/><circle cx="968" cy="663.6" r="4.5"/><circle cx="968.3" cy="662" r="4.5"/><circle cx="968.7" cy="662.4" r="4.5"/><circle cx="969.1" cy="664.3" r="4.5"/><circle cx="969.5" cy="660.2" r="4.5"/><circle cx="969.9" cy="665.4" r="4.5"/><circle cx="970.3" cy="663.5" r="4.5"/><circle cx="970.7" cy="662.4" r="4.5"/><circle cx="971.1" cy="664.9" r="4.5"/><circle cx="971.5" cy="662.2" r="4.5"/><circle cx="971.9" cy="666.4" r="4.5"/><circle cx="972.3" cy="664.3" r="4.5"/><circle cx="972.7" cy="663.3" r="4.5"/><circle cx="973" cy="665.8" r="4.5"/><circle cx="973.4" cy="664.2" r="4.5"/><circle cx="973.8" cy="663" r="4.5"/><circle cx="974.2" cy="666.4" r="4.5"/><circle cx="974.6" cy="662.7" r="4.5"/><circle cx="975" cy="667.2" r="4.5"/><circle cx="975.4" cy="664.3" r="4.5"/><circle cx="975.8" cy="666.7" r="4.5"/><circle cx="976.2" cy="668.8" r="4.5"/><circle cx="976.6" cy="666.8" r="4.5"/><circle cx="977" cy="667.5" r="4.5"/><circle cx="977.4" cy="665.7" r="4.5"/><circle cx="977.8" cy="664.1" r="4.5"/><circle cx="978.1" cy="664.4" r="4.5"/><circle cx="978.5" cy="665.2" r="4.5"/><circle cx="978.9" cy="667.9" r="4.5"/><circle cx="979.3" cy="667" r="4.5"/><circle cx="979.7" cy="667.5" r="4.5"/><circle cx="980.1" cy="669.7" r="4.5"/><circle cx="980.5" cy="665.6" r="4.5"/><circle cx="980.9" cy="666.2" r="4.5"/><circle cx="981.3" cy="668.7" r="4.5"/><circle cx="981.7" cy="665.2" r="4.5"/><circle cx="982.1" cy="665.2" r="4.5"/><circle cx="982.5" cy="667.3" r="4.5"/><circle cx="982.8" cy="666" r="4.5"/><circle cx="983.2" cy="667.5" r="4.5"/><circle cx="983.6" cy="666.9" r="4.5"/><circle cx="984" cy="669" r="4.5"/><circle cx="984.4" cy="669.1" r="4.5"/><circle cx="984.8" cy="667" r="4.5"/><circle cx="985.2" cy="669.5" r="4.5"/><circle cx="985.6" cy="668.8" r="4.5"/><circle cx="986" cy="667" r="4.5"/><circle cx="986.4" cy="671.5" r="4.5"/><circle cx="986.8" cy="667.8" r="4.5"/><circle cx="987.2" cy="667.3" r="4.5"/><circle cx="987.6" cy="667.1" r="4.5"/><circle cx="987.9" cy="670.3" r="4.5"/><circle cx="988.3" cy="671.7" r="4.5"/><circle cx="988.7" cy="671.3" r="4.5"/><circle cx="989.1" cy="669.2" r="4.5"/><circle cx="989.5" cy="668.6" r="4.5"/><circle cx="989.9" cy="667.2" r="4.5"/><circle cx="990.3" cy="670.9" r="4.5"/><circle cx="990.7" cy="670.5" r="4.5"/><circle cx="991.1" cy="669.4" r="4.5"/><circle cx="991.5" cy="671.2" r="4.5"/><circle cx="991.9" cy="670.2" r="4.5"/><circle cx="992.3" cy="673" r="4.5"/><circle cx="992.6" cy="672" r="4.5"/><circle cx="993" cy="669.4" r="4.5"/><circle cx="993.4" cy="673.1" r="4.5"/><circle cx="993.8" cy="668.4" r="4.5"/><circle cx="994.2" cy="671.2" r="4.5"/><circle cx="994.6" cy="670.6" r="4.5"/><circle cx="995" cy="669.8" r="4.5"/><circle cx="995.4" cy="668.8" r="4.5"/><circle cx="995.8" cy="672.8" r="4.5"/><circle cx="996.2" cy="668.5" r="4.5"/><circle cx="996.6" cy="671.5" r="4.5"/><circle cx="997" cy="673.6" r="4.5"/><circle cx="997.4" cy="669.1" r="4.5"/><circle cx="997.7" cy="669.4" r="4.5"/><circle cx="998.1" cy="671.6" r="4.5"/><circle cx="998.5" cy="671" r="4.5"/><circle cx="998.9" cy="671.8" r="4.5"/><circle cx="999.3" cy="672.7" r="4.5"/><circle cx="999.7" cy="669.1" r="4.5"/><circle cx="1000.1" cy="669.8" r="4.5"/><circle cx="1000.5" cy="669.7" r="4.5"/><circle cx="1000.9" cy="668.3" r="4.5"/><circle cx="1001.3" cy="672.9" r="4.5"/><circle cx="1001.7" cy="672.3" r="4.5"/><circle cx="1002.1" cy="671.9" r="4.5"/><circle cx="1002.4" cy="667.9" r="4.5"/><circle cx="1002.8" cy="672.5" r="4.5"/><circle cx="1003.2" cy="671.9" r="4.5"/><circle cx="1003.6" cy="670.3" r="4.5"/><circle cx="1004" cy="671.9" r="4.5"/><circle cx="1004.4" cy="670.1" r="4.5"/><circle cx="1004.8" cy="668.8" r="4.5"/><circle cx="1005.2" cy="668" r="4.5"/><circle cx="1005.6" cy="668.7" r="4.5"/><circle cx="1006" cy="667.5" r="4.5"/><circle cx="1006.4" cy="669.1" r="4.5"/><circle cx="1006.8" cy="671.3" r="4.5"/><circle cx="1007.2" cy="670.9" r="4.5"/><circle cx="1007.5" cy="671.7" r="4.5"/><circle cx="1007.9" cy="670.9" r="4.5"/><circle cx="1008.3" cy="668.3" r="4.5"/><circle cx="1008.7" cy="669.8" r="4.5"/><circle cx="1009.1" cy="669.1" r="4.5"/><circle cx="1009.5" cy="671" r="4.5"/><circle cx="1009.9" cy="669.4" r="4.5"/><circle cx="1010.3" cy="667.9" r="4.5"/><circle cx="1010.7" cy="669.9" r="4.5"/><circle cx="1011.1" cy="671.6" r="4.5"/><circle cx="1011.5" cy="667.4" r="4.5"/><circle cx="1011.9" cy="671" r="4.5"/><circle cx="1012.2" cy="666.1" r="4.5"/><circle cx="1012.6" cy="667.3" r="4.5"/><circle cx="1013" cy="667.1" r="4.5"/><circle cx="1013.4" cy="669.9" r="4.5"/><circle cx="1013.8" cy="670.9" r="4.5"/><circle cx="1014.2" cy="669.7" r="4.5"/><circle cx="1014.6" cy="667.3" r="4.5"/><circle cx="1015" cy="670.5" r="4.5"/><circle cx="1015.4" cy="667.4" r="4.5"/><circle cx="1015.8" cy="666.9" r="4.5"/><circle cx="1016.2" cy="670.7" r="4.5"/><circle cx="1016.6" cy="669.2" r="4.5"/><circle cx="1017" cy="669.6" r="4.5"/><circle cx="1017.3" cy="669.5" r="4.5"/><circle cx="1017.7" cy="671.2" r="4.5"/><circle cx="1018.1" cy="668.4" r="4.5"/><circle cx="1018.5" cy="670.5" r="4.5"/><circle cx="1018.9" cy="669.8" r="4.5"/><circle cx="1019.3" cy="670.7" r="4.5"/><circle cx="1019.7" cy="668.4" r="4.5"/><circle cx="1020.1" cy="670" r="4.5"/><circle cx="1020.5" cy="669.2" r="4.5"/><circle cx="1020.9" cy="667.7" r="4.5"/><circle cx="1021.3" cy="667.2" r="4.5"/><circle cx="1021.7" cy="669.6" r="4.5"/><circle cx="1022" cy="666.6" r="4.5"/><circle cx="1022.4" cy="671.2" r="4.5"/><circle cx="1022.8" cy="667" r="4.5"/><circle cx="1023.2" cy="666.4" r="4.5"/><circle cx="1023.6" cy="666.8" r="4.5"/><circle cx="1024" cy="671.5" r="4.5"/><circle cx="1024.4" cy="668.2" r="4.5"/><circle cx="1024.8" cy="667.1" r="4.5"/><circle cx="1025.2" cy="666.5" r="4.5"/><circle cx="1025.6" cy="666.6" r="4.5"/><circle cx="1026" cy="670.3" r="4.5"/><circle cx="1026.4" cy="670" r="4.5"/><circle cx="1026.8" cy="670.4" r="4.5"/><circle cx="1027.1" cy="670.7" r="4.5"/><circle cx="1027.5" cy="666.9" r="4.5"/><circle cx="1027.9" cy="669.9" r="4.5"/><circle cx="1028.3" cy="668.7" r="4.5"/><circle cx="1028.7" cy="671.2" r="4.5"/><circle cx="1029.1" cy="671.3" r="4.5"/><circle cx="1029.5" cy="671.7" r="4.5"/><circle cx="1029.9" cy="667.1" r="4.5"/><circle cx="1030.3" cy="671.6" r="4.5"/><circle cx="1030.7" cy="672" r="4.5"/><circle cx="1031.1" cy="672.3" r="4.5"/><circle cx="1031.5" cy="667.7" r="4.5"/><circle cx="1031.8" cy="668.4" r="4.5"/><circle cx="1032.2" cy="668" r="4.5"/><circle cx="1032.6" cy="667.7" r="4.5"/><circle cx="1033" cy="672.3" r="4.5"/><circle cx="1033.4" cy="672.3" r="4.5"/><circle cx="1033.8" cy="671.4" r="4.5"/><circle cx="1034.2" cy="672.6" r="4.5"/><circle cx="1034.6" cy="671.6" r="4.5"/><circle cx="1035" cy="669.8" r="4.5"/><circle cx="1035.4" cy="668.9" r="4.5"/><circle cx="1035.8" cy="669" r="4.5"/><circle cx="1036.2" cy="672.8" r="4.5"/><circle cx="1036.6" cy="669.8" r="4.5"/><circle cx="1036.9" cy="670.6" r="4.5"/><circle cx="1037.3" cy="671.3" r="4.5"/><circle cx="1037.7" cy="669.1" r="4.5"/><circle cx="1038.1" cy="670.6" r="4.5"/><circle cx="1038.5" cy="670.8" r="4.5"/><circle cx="1038.9" cy="673.4" r="4.5"/><circle cx="1039.3" cy="671.5" r="4.5"/><circle cx="1039.7" cy="671.4" r="4.5"/><circle cx="1040.1" cy="675.1" r="4.5"/><circle cx="1040.5" cy="672.7" r="4.5"/><circle cx="1040.9" cy="674.7" r="4.5"/><circle cx="1041.3" cy="673.5" r="4.5"/><circle cx="1041.6" cy="670.4" r="4.5"/><circle cx="1042" cy="672.6" r="4.5"/><circle cx="1042.4" cy="672.9" r="4.5"/><circle cx="1042.8" cy="674.9" r="4.5"/><circle cx="1043.2" cy="672.6" r="4.5"/><circle cx="1043.6" cy="674.7" r="4.5"/><circle cx="1044" cy="673.9" r="4.5"/><circle cx="1044.4" cy="672.2" r="4.5"/><circle cx="1044.8" cy="676" r="4.5"/><circle cx="1045.2" cy="671.8" r="4.5"/><circle cx="1045.6" cy="676" r="4.5"/><circle cx="1046" cy="672.4" r="4.5"/><circle cx="1046.4" cy="671.6" r="4.5"/><circle cx="1046.7" cy="672.9" r="4.5"/><circle cx="1047.1" cy="676.1" r="4.5"/><circle cx="1047.5" cy="677.4" r="4.5"/><circle cx="1047.9" cy="672.1" r="4.5"/><circle cx="1048.3" cy="675" r="4.5"/><circle cx="1048.7" cy="675.1" r="4.5"/><circle cx="1049.1" cy="677" r="4.5"/><circle cx="1049.5" cy="673.7" r="4.5"/><circle cx="1049.9" cy="675.6" r="4.5"/><circle cx="1050.3" cy="675" r="4.5"/><circle cx="1050.7" cy="677.8" r="4.5"/><circle cx="1051.1" cy="674.8" r="4.5"/><circle cx="1051.4" cy="678.8" r="4.5"/><circle cx="1051.8" cy="675.2" r="4.5"/><circle cx="1052.2" cy="675" r="4.5"/><circle cx="1052.6" cy="677.9" r="4.5"/><circle cx="1053" cy="676.9" r="4.5"/><circle cx="1053.4" cy="674.9" r="4.5"/><circle cx="1053.8" cy="678" r="4.5"/><circle cx="1054.2" cy="675" r="4.5"/><circle cx="1054.6" cy="679.2" r="4.5"/><circle cx="1055" cy="678.8" r="4.5"/><circle cx="1055.4" cy="679.5" r="4.5"/><circle cx="1055.8" cy="678.7" r="4.5"/><circle cx="1056.2" cy="677.4" r="4.5"/><circle cx="1056.5" cy="677.8" r="4.5"/><circle cx="1056.9" cy="677.8" r="4.5"/><circle cx="1057.3" cy="680.7" r="4.5"/><circle cx="1057.7" cy="676.2" r="4.5"/><circle cx="1058.1" cy="680.8" r="4.5"/><circle cx="1058.5" cy="676" r="4.5"/><circle cx="1058.9" cy="677.1" r="4.5"/><circle cx="1059.3" cy="677.5" r="4.5"/><circle cx="1059.7" cy="681.1" r="4.5"/><circle cx="1060.1" cy="678.9" r="4.5"/><circle cx="1060.5" cy="678.3" r="4.5"/><circle cx="1060.9" cy="681.2" r="4.5"/><circle cx="1061.2" cy="677.6" r="4.5"/><circle cx="1061.6" cy="678.9" r="4.5"/><circle cx="1062" cy="679.4" r="4.5"/><circle cx="1062.4" cy="680.7" r="4.5"/><circle cx="1062.8" cy="680.7" r="4.5"/><circle cx="1063.2" cy="680.2" r="4.5"/><circle cx="1063.6" cy="678.6" r="4.5"/><circle cx="1064" cy="678.5" r="4.5"/><circle cx="1064.4" cy="677.6" r="4.5"/><circle cx="1064.8" cy="681.5" r="4.5"/><circle cx="1065.2" cy="680.6" r="4.5"/><circle cx="1065.6" cy="681.1" r="4.5"/><circle cx="1066" cy="677.9" r="4.5"/><circle cx="1066.3" cy="679.5" r="4.5"/><circle cx="1066.7" cy="681.4" r="4.5"/><circle cx="1067.1" cy="680.4" r="4.5"/><circle cx="1067.5" cy="677.9" r="4.5"/><circle cx="1067.9" cy="679.8" r="4.5"/><circle cx="1068.3" cy="682.3" r="4.5"/><circle cx="1068.7" cy="678.7" r="4.5"/><circle cx="1069.1" cy="678.5" r="4.5"/><circle cx="1069.5" cy="679.2" r="4.5"/><circle cx="1069.9" cy="681.5" r="4.5"/><circle cx="1070.3" cy="682.3" r="4.5"/><circle cx="1070.7" cy="678.5" r="4.5"/><circle cx="1071" cy="678.6" r="4.5"/><circle cx="1071.4" cy="679.2" r="4.5"/><circle cx="1071.8" cy="679.7" r="4.5"/><circle cx="1072.2" cy="680.8" r="4.5"/><circle cx="1072.6" cy="678.9" r="4.5"/><circle cx="1073" cy="679.8" r="4.5"/><circle cx="1073.4" cy="679.1" r="4.5"/><circle cx="1073.8" cy="683.6" r="4.5"/><circle cx="1074.2" cy="682.3" r="4.5"/><circle cx="1074.6" cy="679" r="4.5"/><circle cx="1075" cy="684.1" r="4.5"/><circle cx="1075.4" cy="679.6" r="4.5"/><circle cx="1075.8" cy="681.5" r="4.5"/><circle cx="1076.1" cy="685.2" r="4.5"/><circle cx="1076.5" cy="684.4" r="4.5"/><circle cx="1076.9" cy="684.4" r="4.5"/><circle cx="1077.3" cy="683" r="4.5"/><circle cx="1077.7" cy="682" r="4.5"/><circle cx="1078.1" cy="684.8" r="4.5"/><circle cx="1078.5" cy="682.1" r="4.5"/><circle cx="1078.9" cy="683" r="4.5"/><circle cx="1079.3" cy="684.3" r="4.5"/><circle cx="1079.7" cy="682.7" r="4.5"/><circle cx="1080.1" cy="685" r="4.5"/><circle cx="1080.5" cy="687.5" r="4.5"/><circle cx="1080.8" cy="687.3" r="4.5"/><circle cx="1081.2" cy="686.5" r="4.5"/><circle cx="1081.6" cy="687.6" r="4.5"/><circle cx="1082" cy="686.9" r="4.5"/><circle cx="1082.4" cy="685.5" r="4.5"/><circle cx="1082.8" cy="688.3" r="4.5"/><circle cx="1083.2" cy="687.5" r="4.5"/><circle cx="1083.6" cy="689.5" r="4.5"/><circle cx="1084" cy="690.5" r="4.5"/><circle cx="1084.4" cy="687.9" r="4.5"/><circle cx="1084.8" cy="688.8" r="4.5"/><circle cx="1085.2" cy="689.9" r="4.5"/><circle cx="1085.6" cy="688.2" r="4.5"/><circle cx="1085.9" cy="687.2" r="4.5"/><circle cx="1086.3" cy="690.1" r="4.5"/><circle cx="1086.7" cy="691" r="4.5"/><circle cx="1087.1" cy="690.6" r="4.5"/><circle cx="1087.5" cy="690.2" r="4.5"/><circle cx="1087.9" cy="691.2" r="4.5"/><circle cx="1088.3" cy="690.3" r="4.5"/><circle cx="1088.7" cy="690.2" r="4.5"/><circle cx="1089.1" cy="689.3" r="4.5"/><circle cx="1089.5" cy="688.6" r="4.5"/><circle cx="1089.9" cy="690.4" r="4.5"/><circle cx="1090.3" cy="687.6" r="4.5"/><circle cx="1090.6" cy="689.5" r="4.5"/><circle cx="1091" cy="691.6" r="4.5"/><circle cx="1091.4" cy="691.2" r="4.5"/><circle cx="1091.8" cy="690.7" r="4.5"/><circle cx="1092.2" cy="688.6" r="4.5"/><circle cx="1092.6" cy="689.6" r="4.5"/>
</g></g>
<text x="936" y="543.5" font-size="23" text-anchor="start" font-weight="bold">0 °C</text>
<text x="953.5" y="619" font-size="23" text-anchor="start" font-weight="bold">1 A g<tspan font-size="16.5" dy="-11">-1</tspan></text>
<defs><g id="hm"><circle r="4.7" fill="#fff" stroke="#5b6ff0" stroke-width="1.1"/><path d="M0 -4.7A4.7 4.7 0 0 1 0 4.7Z" fill="#5b6ff0"/></g></defs>
<g clip-path="url(#cf)">
<use href="#hm" x="1258.8" y="519.3"/><use href="#hm" x="1259.2" y="526.8"/><use href="#hm" x="1259.6" y="528.3"/><use href="#hm" x="1260" y="529.3"/><use href="#hm" x="1260.4" y="531.8"/><use href="#hm" x="1260.8" y="528.2"/><use href="#hm" x="1261.2" y="536.6"/><use href="#hm" x="1261.6" y="514.8"/><use href="#hm" x="1262" y="538.5"/><use href="#hm" x="1262.4" y="527.8"/><use href="#hm" x="1262.8" y="542.7"/><use href="#hm" x="1263.1" y="530.5"/><use href="#hm" x="1263.5" y="529.1"/><use href="#hm" x="1263.9" y="530.2"/><use href="#hm" x="1264.3" y="532.4"/><use href="#hm" x="1264.7" y="522.1"/><use href="#hm" x="1265.1" y="524.5"/><use href="#hm" x="1265.5" y="517.4"/><use href="#hm" x="1265.9" y="538.8"/><use href="#hm" x="1266.3" y="526.7"/><use href="#hm" x="1266.7" y="527.3"/><use href="#hm" x="1267.1" y="535.2"/><use href="#hm" x="1267.4" y="516.6"/><use href="#hm" x="1267.8" y="532.5"/><use href="#hm" x="1268.2" y="525.5"/><use href="#hm" x="1268.6" y="524.8"/><use href="#hm" x="1269" y="508.3"/><use href="#hm" x="1269.4" y="527.6"/><use href="#hm" x="1269.8" y="511.3"/><use href="#hm" x="1270.2" y="509.7"/><use href="#hm" x="1270.6" y="508"/><use href="#hm" x="1271" y="533.8"/><use href="#hm" x="1271.4" y="518.9"/><use href="#hm" x="1271.8" y="522.3"/><use href="#hm" x="1272.1" y="519.2"/><use href="#hm" x="1272.5" y="521.3"/><use href="#hm" x="1272.9" y="512.2"/><use href="#hm" x="1273.3" y="508.2"/><use href="#hm" x="1273.7" y="503.3"/><use href="#hm" x="1274.1" y="512"/><use href="#hm" x="1274.5" y="508.6"/><use href="#hm" x="1274.9" y="500.6"/><use href="#hm" x="1275.3" y="487.9"/><use href="#hm" x="1275.7" y="511.2"/><use href="#hm" x="1276.1" y="510.8"/><use href="#hm" x="1276.4" y="502.2"/><use href="#hm" x="1276.8" y="499.7"/><use href="#hm" x="1277.2" y="509.4"/><use href="#hm" x="1277.6" y="493.8"/><use href="#hm" x="1278" y="498"/><use href="#hm" x="1278.4" y="485"/><use href="#hm" x="1278.8" y="503.3"/><use href="#hm" x="1279.2" y="500.9"/><use href="#hm" x="1279.6" y="492.6"/><use href="#hm" x="1280" y="498.9"/><use href="#hm" x="1280.4" y="490"/><use href="#hm" x="1280.8" y="501.6"/><use href="#hm" x="1281.1" y="496.9"/><use href="#hm" x="1281.5" y="493.8"/><use href="#hm" x="1281.9" y="492.5"/><use href="#hm" x="1282.3" y="507.5"/><use href="#hm" x="1282.7" y="499.2"/><use href="#hm" x="1283.1" y="507.2"/><use href="#hm" x="1283.5" y="488.2"/><use href="#hm" x="1283.9" y="500.9"/><use href="#hm" x="1284.3" y="498.1"/><use href="#hm" x="1284.7" y="507.6"/><use href="#hm" x="1285.1" y="491.2"/><use href="#hm" x="1285.4" y="504"/><use href="#hm" x="1285.8" y="506.2"/><use href="#hm" x="1286.2" y="508.4"/><use href="#hm" x="1286.6" y="507"/><use href="#hm" x="1287" y="510.1"/><use href="#hm" x="1287.4" y="511"/><use href="#hm" x="1287.8" y="502.4"/><use href="#hm" x="1288.2" y="500.4"/><use href="#hm" x="1288.6" y="510.7"/><use href="#hm" x="1289" y="509.6"/><use href="#hm" x="1289.4" y="511.2"/><use href="#hm" x="1289.8" y="510.3"/><use href="#hm" x="1290.1" y="510.6"/><use href="#hm" x="1290.5" y="506.7"/><use href="#hm" x="1290.9" y="495.7"/><use href="#hm" x="1291.3" y="510.6"/><use href="#hm" x="1291.7" y="511"/><use href="#hm" x="1292.1" y="504.6"/><use href="#hm" x="1292.5" y="510.4"/><use href="#hm" x="1292.9" y="504.3"/><use href="#hm" x="1293.3" y="519.9"/><use href="#hm" x="1293.7" y="506"/><use href="#hm" x="1294.1" y="512.4"/><use href="#hm" x="1294.4" y="524.3"/><use href="#hm" x="1294.8" y="497.8"/><use href="#hm" x="1295.2" y="506.4"/><use href="#hm" x="1295.6" y="515.3"/><use href="#hm" x="1296" y="530.8"/><use href="#hm" x="1296.4" y="527.5"/><use href="#hm" x="1296.8" y="525.8"/><use href="#hm" x="1297.2" y="519.7"/><use href="#hm" x="1297.6" y="524"/><use href="#hm" x="1298" y="524.8"/><use href="#hm" x="1298.4" y="534.9"/><use href="#hm" x="1298.8" y="545.6"/><use href="#hm" x="1299.1" y="538.6"/><use href="#hm" x="1299.5" y="551.3"/><use href="#hm" x="1299.9" y="553.1"/><use href="#hm" x="1300.3" y="548.2"/><use href="#hm" x="1300.7" y="543.2"/><use href="#hm" x="1301.1" y="531.4"/><use href="#hm" x="1301.5" y="556.3"/><use href="#hm" x="1301.9" y="548.3"/><use href="#hm" x="1302.3" y="562"/><use href="#hm" x="1302.7" y="538.8"/><use href="#hm" x="1303.1" y="562.1"/><use href="#hm" x="1303.4" y="569"/><use href="#hm" x="1303.8" y="564.3"/><use href="#hm" x="1304.2" y="566.2"/><use href="#hm" x="1304.6" y="569"/><use href="#hm" x="1305" y="557.7"/><use href="#hm" x="1305.4" y="561.2"/><use href="#hm" x="1305.8" y="556.8"/><use href="#hm" x="1306.2" y="558.3"/><use href="#hm" x="1306.6" y="564.2"/><use href="#hm" x="1307" y="555.6"/><use href="#hm" x="1307.4" y="551.5"/><use href="#hm" x="1307.8" y="547.2"/><use href="#hm" x="1308.1" y="558.3"/><use href="#hm" x="1308.5" y="547.8"/><use href="#hm" x="1308.9" y="556.8"/><use href="#hm" x="1309.3" y="542.2"/><use href="#hm" x="1309.7" y="531.2"/><use href="#hm" x="1310.1" y="525.9"/><use href="#hm" x="1310.5" y="534.6"/><use href="#hm" x="1310.9" y="541.6"/><use href="#hm" x="1311.3" y="510.7"/><use href="#hm" x="1311.7" y="528.1"/><use href="#hm" x="1312.1" y="513.7"/><use href="#hm" x="1312.4" y="532.1"/><use href="#hm" x="1312.8" y="526"/><use href="#hm" x="1313.2" y="521"/><use href="#hm" x="1313.6" y="540.2"/><use href="#hm" x="1314" y="536.8"/><use href="#hm" x="1314.4" y="516.3"/><use href="#hm" x="1314.8" y="534.5"/><use href="#hm" x="1315.2" y="522.2"/><use href="#hm" x="1315.6" y="529.5"/><use href="#hm" x="1316" y="527.4"/><use href="#hm" x="1316.4" y="540.4"/><use href="#hm" x="1316.8" y="541.3"/><use href="#hm" x="1317.1" y="530.8"/><use href="#hm" x="1317.5" y="564"/><use href="#hm" x="1317.9" y="530.4"/><use href="#hm" x="1318.3" y="542.5"/><use href="#hm" x="1318.7" y="537"/><use href="#hm" x="1319.1" y="541.5"/><use href="#hm" x="1319.5" y="545.9"/><use href="#hm" x="1319.9" y="545.5"/><use href="#hm" x="1320.3" y="532.6"/><use href="#hm" x="1320.7" y="555"/><use href="#hm" x="1321.1" y="552.8"/><use href="#hm" x="1321.4" y="546"/><use href="#hm" x="1321.8" y="539.5"/><use href="#hm" x="1322.2" y="543.4"/><use href="#hm" x="1322.6" y="534.1"/><use href="#hm" x="1323" y="530.8"/><use href="#hm" x="1323.4" y="546.8"/><use href="#hm" x="1323.8" y="536.8"/><use href="#hm" x="1324.2" y="544.8"/><use href="#hm" x="1324.6" y="534.3"/><use href="#hm" x="1325" y="544.1"/><use href="#hm" x="1325.4" y="537.3"/><use href="#hm" x="1325.8" y="553.8"/><use href="#hm" x="1326.1" y="562.7"/><use href="#hm" x="1326.5" y="533.3"/><use href="#hm" x="1326.9" y="548.3"/><use href="#hm" x="1327.3" y="553.2"/><use href="#hm" x="1327.7" y="561.8"/><use href="#hm" x="1328.1" y="549"/><use href="#hm" x="1328.5" y="548.7"/><use href="#hm" x="1328.9" y="539"/><use href="#hm" x="1329.3" y="553.3"/><use href="#hm" x="1329.7" y="549.5"/><use href="#hm" x="1330.1" y="549.5"/><use href="#hm" x="1330.4" y="545.1"/><use href="#hm" x="1330.8" y="534"/><use href="#hm" x="1331.2" y="549.9"/><use href="#hm" x="1331.6" y="545.7"/><use href="#hm" x="1332" y="549.3"/><use href="#hm" x="1332.4" y="551.9"/><use href="#hm" x="1332.8" y="556.5"/><use href="#hm" x="1333.2" y="548.7"/><use href="#hm" x="1333.6" y="553.5"/><use href="#hm" x="1334" y="545.9"/><use href="#hm" x="1334.4" y="546.1"/><use href="#hm" x="1334.8" y="541.9"/><use href="#hm" x="1335.1" y="547.4"/><use href="#hm" x="1335.5" y="544.1"/><use href="#hm" x="1335.9" y="549.6"/><use href="#hm" x="1336.3" y="549.7"/><use href="#hm" x="1336.7" y="550.7"/><use href="#hm" x="1337.1" y="540.4"/><use href="#hm" x="1337.5" y="547.1"/><use href="#hm" x="1337.9" y="549.5"/><use href="#hm" x="1338.3" y="555.7"/><use href="#hm" x="1338.7" y="547.5"/><use href="#hm" x="1339.1" y="552.5"/><use href="#hm" x="1339.4" y="565.1"/><use href="#hm" x="1339.8" y="549.2"/><use href="#hm" x="1340.2" y="548.7"/><use href="#hm" x="1340.6" y="543.9"/><use href="#hm" x="1341" y="543.3"/><use href="#hm" x="1341.4" y="556.3"/><use href="#hm" x="1341.8" y="549.8"/><use href="#hm" x="1342.2" y="548.9"/><use href="#hm" x="1342.6" y="559.8"/><use href="#hm" x="1343" y="540"/><use href="#hm" x="1343.4" y="550.9"/><use href="#hm" x="1343.8" y="545.8"/><use href="#hm" x="1344.1" y="554.2"/><use href="#hm" x="1344.5" y="552.6"/><use href="#hm" x="1344.9" y="545.8"/><use href="#hm" x="1345.3" y="550.4"/><use href="#hm" x="1345.7" y="555.6"/><use href="#hm" x="1346.1" y="559.3"/><use href="#hm" x="1346.5" y="553"/><use href="#hm" x="1346.9" y="552.7"/><use href="#hm" x="1347.3" y="552.4"/><use href="#hm" x="1347.7" y="548.5"/><use href="#hm" x="1348.1" y="547.2"/><use href="#hm" x="1348.4" y="556.8"/><use href="#hm" x="1348.8" y="554.1"/><use href="#hm" x="1349.2" y="550.5"/><use href="#hm" x="1349.6" y="550.6"/><use href="#hm" x="1350" y="555.8"/><use href="#hm" x="1350.4" y="561.9"/><use href="#hm" x="1350.8" y="554"/><use href="#hm" x="1351.2" y="557.1"/><use href="#hm" x="1351.6" y="548.8"/><use href="#hm" x="1352" y="541.5"/><use href="#hm" x="1352.4" y="553.2"/><use href="#hm" x="1352.8" y="564.2"/><use href="#hm" x="1353.1" y="550"/><use href="#hm" x="1353.5" y="546.4"/><use href="#hm" x="1353.9" y="558.9"/><use href="#hm" x="1354.3" y="554.7"/><use href="#hm" x="1354.7" y="546.9"/><use href="#hm" x="1355.1" y="557.6"/><use href="#hm" x="1355.5" y="555.9"/><use href="#hm" x="1355.9" y="547.7"/><use href="#hm" x="1356.3" y="559.1"/><use href="#hm" x="1356.7" y="565"/><use href="#hm" x="1357.1" y="552.4"/><use href="#hm" x="1357.4" y="550"/><use href="#hm" x="1357.8" y="552.5"/><use href="#hm" x="1358.2" y="550.7"/><use href="#hm" x="1358.6" y="549.8"/><use href="#hm" x="1359" y="560.7"/><use href="#hm" x="1359.4" y="555.9"/><use href="#hm" x="1359.8" y="553.2"/><use href="#hm" x="1360.2" y="556.7"/><use href="#hm" x="1360.6" y="558"/><use href="#hm" x="1361" y="557.3"/><use href="#hm" x="1361.4" y="544.6"/><use href="#hm" x="1361.8" y="555.1"/><use href="#hm" x="1362.1" y="550.7"/><use href="#hm" x="1362.5" y="545.3"/><use href="#hm" x="1362.9" y="555.9"/><use href="#hm" x="1363.3" y="554.7"/><use href="#hm" x="1363.7" y="551.5"/><use href="#hm" x="1364.1" y="556.6"/><use href="#hm" x="1364.5" y="565.7"/><use href="#hm" x="1364.9" y="559.9"/><use href="#hm" x="1365.3" y="553.1"/><use href="#hm" x="1365.7" y="552.3"/><use href="#hm" x="1366.1" y="553.4"/><use href="#hm" x="1366.4" y="555.4"/><use href="#hm" x="1366.8" y="562.4"/><use href="#hm" x="1367.2" y="557.3"/><use href="#hm" x="1367.6" y="557.1"/><use href="#hm" x="1368" y="552.8"/><use href="#hm" x="1368.4" y="569.1"/><use href="#hm" x="1368.8" y="561.2"/><use href="#hm" x="1369.2" y="564.1"/><use href="#hm" x="1369.6" y="555.1"/><use href="#hm" x="1370" y="557.9"/><use href="#hm" x="1370.4" y="562.9"/><use href="#hm" x="1370.8" y="546.5"/><use href="#hm" x="1371.1" y="560.4"/><use href="#hm" x="1371.5" y="562.7"/><use href="#hm" x="1371.9" y="562.3"/><use href="#hm" x="1372.3" y="567.3"/><use href="#hm" x="1372.7" y="561.6"/><use href="#hm" x="1373.1" y="556.5"/><use href="#hm" x="1373.5" y="551.7"/><use href="#hm" x="1373.9" y="552.7"/><use href="#hm" x="1374.3" y="562.7"/><use href="#hm" x="1374.7" y="565.9"/><use href="#hm" x="1375.1" y="555.9"/><use href="#hm" x="1375.4" y="570"/><use href="#hm" x="1375.8" y="555.2"/><use href="#hm" x="1376.2" y="559"/><use href="#hm" x="1376.6" y="566.4"/><use href="#hm" x="1377" y="555.5"/><use href="#hm" x="1377.4" y="550.9"/><use href="#hm" x="1377.8" y="577.1"/><use href="#hm" x="1378.2" y="559.4"/><use href="#hm" x="1378.6" y="566.3"/><use href="#hm" x="1379" y="562.1"/><use href="#hm" x="1379.4" y="565.2"/><use href="#hm" x="1379.8" y="566.8"/><use href="#hm" x="1380.1" y="557"/><use href="#hm" x="1380.5" y="556.7"/><use href="#hm" x="1380.9" y="558.7"/><use href="#hm" x="1381.3" y="562.1"/><use href="#hm" x="1381.7" y="562.7"/><use href="#hm" x="1382.1" y="559.5"/><use href="#hm" x="1382.5" y="557"/><use href="#hm" x="1382.9" y="553.2"/><use href="#hm" x="1383.3" y="562"/><use href="#hm" x="1383.7" y="570.2"/><use href="#hm" x="1384.1" y="566.4"/><use href="#hm" x="1384.4" y="562.6"/><use href="#hm" x="1384.8" y="566.8"/><use href="#hm" x="1385.2" y="560.9"/><use href="#hm" x="1385.6" y="565.3"/><use href="#hm" x="1386" y="561.1"/><use href="#hm" x="1386.4" y="557"/><use href="#hm" x="1386.8" y="564.5"/><use href="#hm" x="1387.2" y="566.1"/><use href="#hm" x="1387.6" y="564.9"/><use href="#hm" x="1388" y="559.6"/><use href="#hm" x="1388.4" y="570.1"/><use href="#hm" x="1388.8" y="568.3"/><use href="#hm" x="1389.1" y="567"/><use href="#hm" x="1389.5" y="568.9"/><use href="#hm" x="1389.9" y="568.5"/><use href="#hm" x="1390.3" y="572.8"/><use href="#hm" x="1390.7" y="560.8"/><use href="#hm" x="1391.1" y="563.1"/><use href="#hm" x="1391.5" y="567.9"/><use href="#hm" x="1391.9" y="567"/><use href="#hm" x="1392.3" y="562.7"/><use href="#hm" x="1392.7" y="561.9"/><use href="#hm" x="1393.1" y="568"/><use href="#hm" x="1393.4" y="552.4"/><use href="#hm" x="1393.8" y="562"/><use href="#hm" x="1394.2" y="562.6"/><use href="#hm" x="1394.6" y="564.1"/><use href="#hm" x="1395" y="565"/><use href="#hm" x="1395.4" y="566.2"/><use href="#hm" x="1395.8" y="555.4"/><use href="#hm" x="1396.2" y="561"/><use href="#hm" x="1396.6" y="570.4"/><use href="#hm" x="1397" y="567.7"/><use href="#hm" x="1397.4" y="576.5"/><use href="#hm" x="1397.8" y="569.2"/><use href="#hm" x="1398.1" y="563.1"/><use href="#hm" x="1398.5" y="564.3"/><use href="#hm" x="1398.9" y="566.2"/><use href="#hm" x="1399.3" y="569.1"/><use href="#hm" x="1399.7" y="566.7"/><use href="#hm" x="1400.1" y="562.2"/><use href="#hm" x="1400.5" y="564.1"/><use href="#hm" x="1400.9" y="562.2"/><use href="#hm" x="1401.3" y="564.2"/><use href="#hm" x="1401.7" y="557.7"/><use href="#hm" x="1402.1" y="562.7"/><use href="#hm" x="1402.4" y="559.7"/><use href="#hm" x="1402.8" y="575"/><use href="#hm" x="1403.2" y="560.2"/><use href="#hm" x="1403.6" y="565.3"/><use href="#hm" x="1404" y="559.9"/><use href="#hm" x="1404.4" y="571.5"/><use href="#hm" x="1404.8" y="572.9"/><use href="#hm" x="1405.2" y="568.9"/><use href="#hm" x="1405.6" y="570.1"/><use href="#hm" x="1406" y="570.3"/><use href="#hm" x="1406.4" y="567.5"/><use href="#hm" x="1406.8" y="560.1"/><use href="#hm" x="1407.1" y="557.5"/><use href="#hm" x="1407.5" y="558.4"/><use href="#hm" x="1407.9" y="569.6"/><use href="#hm" x="1408.3" y="572"/><use href="#hm" x="1408.7" y="571.4"/><use href="#hm" x="1409.1" y="566.4"/><use href="#hm" x="1409.5" y="558.6"/><use href="#hm" x="1409.9" y="567.7"/><use href="#hm" x="1410.3" y="571.2"/><use href="#hm" x="1410.7" y="561.4"/><use href="#hm" x="1411.1" y="566.6"/><use href="#hm" x="1411.4" y="581.7"/><use href="#hm" x="1411.8" y="563"/><use href="#hm" x="1412.2" y="573.8"/><use href="#hm" x="1412.6" y="566.9"/><use href="#hm" x="1413" y="582.2"/><use href="#hm" x="1413.4" y="567"/><use href="#hm" x="1413.8" y="566.2"/><use href="#hm" x="1414.2" y="569.3"/><use href="#hm" x="1414.6" y="569.8"/><use href="#hm" x="1415" y="570.4"/><use href="#hm" x="1415.4" y="571.8"/><use href="#hm" x="1415.8" y="563.6"/><use href="#hm" x="1416.1" y="573.8"/><use href="#hm" x="1416.5" y="575.7"/><use href="#hm" x="1416.9" y="564.3"/><use href="#hm" x="1417.3" y="569.8"/><use href="#hm" x="1417.7" y="566.2"/><use href="#hm" x="1418.1" y="570"/><use href="#hm" x="1418.5" y="577"/><use href="#hm" x="1418.9" y="563.4"/><use href="#hm" x="1419.3" y="569.3"/><use href="#hm" x="1419.7" y="582.8"/><use href="#hm" x="1420.1" y="560.7"/><use href="#hm" x="1420.4" y="573.2"/><use href="#hm" x="1420.8" y="568.8"/><use href="#hm" x="1421.2" y="578.4"/><use href="#hm" x="1421.6" y="578.1"/><use href="#hm" x="1422" y="579.3"/><use href="#hm" x="1422.4" y="569.3"/><use href="#hm" x="1422.8" y="571.4"/><use href="#hm" x="1423.2" y="571.3"/><use href="#hm" x="1423.6" y="573.6"/><use href="#hm" x="1424" y="571.3"/><use href="#hm" x="1424.4" y="568.4"/><use href="#hm" x="1424.8" y="565.8"/><use href="#hm" x="1425.1" y="575.4"/><use href="#hm" x="1425.5" y="572.3"/><use href="#hm" x="1425.9" y="572.2"/><use href="#hm" x="1426.3" y="573.3"/><use href="#hm" x="1426.7" y="578.4"/><use href="#hm" x="1427.1" y="586.7"/><use href="#hm" x="1427.5" y="572.5"/><use href="#hm" x="1427.9" y="572.3"/><use href="#hm" x="1428.3" y="577.4"/><use href="#hm" x="1428.7" y="569.7"/><use href="#hm" x="1429.1" y="577.3"/><use href="#hm" x="1429.4" y="577.6"/><use href="#hm" x="1429.8" y="580.4"/><use href="#hm" x="1430.2" y="567.8"/><use href="#hm" x="1430.6" y="571.6"/><use href="#hm" x="1431" y="576.2"/><use href="#hm" x="1431.4" y="576.7"/><use href="#hm" x="1431.8" y="573.8"/><use href="#hm" x="1432.2" y="572.1"/><use href="#hm" x="1432.6" y="573.2"/><use href="#hm" x="1433" y="573"/><use href="#hm" x="1433.4" y="580.4"/><use href="#hm" x="1433.8" y="580.5"/><use href="#hm" x="1434.1" y="570.7"/><use href="#hm" x="1434.5" y="577.5"/><use href="#hm" x="1434.9" y="577.2"/><use href="#hm" x="1435.3" y="571.8"/><use href="#hm" x="1435.7" y="579.9"/><use href="#hm" x="1436.1" y="576.1"/><use href="#hm" x="1436.5" y="577.4"/><use href="#hm" x="1436.9" y="570"/><use href="#hm" x="1437.3" y="572.7"/><use href="#hm" x="1437.7" y="579.5"/><use href="#hm" x="1438.1" y="569.8"/><use href="#hm" x="1438.4" y="579.9"/><use href="#hm" x="1438.8" y="574.6"/><use href="#hm" x="1439.2" y="575"/><use href="#hm" x="1439.6" y="573"/><use href="#hm" x="1440" y="575.7"/><use href="#hm" x="1440.4" y="571.9"/><use href="#hm" x="1440.8" y="565"/><use href="#hm" x="1441.2" y="578.6"/><use href="#hm" x="1441.6" y="574.9"/><use href="#hm" x="1442" y="578"/><use href="#hm" x="1442.4" y="580.5"/><use href="#hm" x="1442.8" y="576.4"/><use href="#hm" x="1443.1" y="574.2"/><use href="#hm" x="1443.5" y="575.7"/><use href="#hm" x="1443.9" y="578.5"/><use href="#hm" x="1444.3" y="585.9"/><use href="#hm" x="1444.7" y="575.2"/><use href="#hm" x="1445.1" y="577.5"/><use href="#hm" x="1445.5" y="587.6"/><use href="#hm" x="1445.9" y="576.8"/><use href="#hm" x="1446.3" y="577.3"/><use href="#hm" x="1446.7" y="583.2"/><use href="#hm" x="1447.1" y="577"/><use href="#hm" x="1447.4" y="581"/><use href="#hm" x="1447.8" y="587.8"/><use href="#hm" x="1448.2" y="588.6"/><use href="#hm" x="1448.6" y="590.4"/><use href="#hm" x="1449" y="577.1"/><use href="#hm" x="1449.4" y="585.3"/><use href="#hm" x="1449.8" y="573.2"/><use href="#hm" x="1450.2" y="572.1"/><use href="#hm" x="1450.6" y="575.6"/><use href="#hm" x="1451" y="580.2"/><use href="#hm" x="1451.4" y="582.2"/><use href="#hm" x="1451.7" y="588.1"/><use href="#hm" x="1452.1" y="577.1"/><use href="#hm" x="1452.5" y="589.6"/><use href="#hm" x="1452.9" y="586.8"/><use href="#hm" x="1453.3" y="588.7"/><use href="#hm" x="1453.7" y="575.4"/><use href="#hm" x="1454.1" y="583.6"/><use href="#hm" x="1454.5" y="580.6"/><use href="#hm" x="1454.9" y="575.8"/><use href="#hm" x="1455.3" y="583.4"/><use href="#hm" x="1455.7" y="577.5"/><use href="#hm" x="1456.1" y="585.2"/><use href="#hm" x="1456.4" y="578.2"/><use href="#hm" x="1456.8" y="584.2"/><use href="#hm" x="1457.2" y="577.5"/><use href="#hm" x="1457.6" y="586.8"/><use href="#hm" x="1458" y="577.4"/><use href="#hm" x="1458.4" y="579.6"/><use href="#hm" x="1458.8" y="591.1"/><use href="#hm" x="1459.2" y="573.2"/><use href="#hm" x="1459.6" y="583.4"/><use href="#hm" x="1460" y="578.7"/><use href="#hm" x="1460.4" y="573.2"/><use href="#hm" x="1460.7" y="579.6"/><use href="#hm" x="1461.1" y="585.5"/><use href="#hm" x="1461.5" y="588.3"/><use href="#hm" x="1461.9" y="581"/><use href="#hm" x="1462.3" y="583.4"/><use href="#hm" x="1462.7" y="579.7"/><use href="#hm" x="1463.1" y="584.1"/><use href="#hm" x="1463.5" y="581.6"/><use href="#hm" x="1463.9" y="564.7"/><use href="#hm" x="1464.3" y="578.5"/><use href="#hm" x="1464.7" y="580.9"/><use href="#hm" x="1465.1" y="589.4"/><use href="#hm" x="1465.4" y="584.8"/><use href="#hm" x="1465.8" y="579.3"/><use href="#hm" x="1466.2" y="584.2"/><use href="#hm" x="1466.6" y="583.6"/><use href="#hm" x="1467" y="573.5"/><use href="#hm" x="1467.4" y="583.5"/><use href="#hm" x="1467.8" y="584.4"/><use href="#hm" x="1468.2" y="586.9"/><use href="#hm" x="1468.6" y="586.3"/><use href="#hm" x="1469" y="591.2"/><use href="#hm" x="1469.4" y="587.8"/><use href="#hm" x="1469.7" y="591.4"/><use href="#hm" x="1470.1" y="580.5"/><use href="#hm" x="1470.5" y="581.9"/><use href="#hm" x="1470.9" y="593.5"/><use href="#hm" x="1471.3" y="588.2"/><use href="#hm" x="1471.7" y="588.6"/><use href="#hm" x="1472.1" y="575.5"/><use href="#hm" x="1472.5" y="588.5"/><use href="#hm" x="1472.9" y="581.2"/><use href="#hm" x="1473.3" y="580.2"/><use href="#hm" x="1473.7" y="595.6"/><use href="#hm" x="1474.1" y="585.5"/><use href="#hm" x="1474.4" y="590.8"/><use href="#hm" x="1474.8" y="580.1"/><use href="#hm" x="1475.2" y="577.3"/><use href="#hm" x="1475.6" y="579.3"/><use href="#hm" x="1476" y="594"/><use href="#hm" x="1476.4" y="582.8"/><use href="#hm" x="1476.8" y="583.6"/><use href="#hm" x="1477.2" y="579.9"/><use href="#hm" x="1477.6" y="583.5"/><use href="#hm" x="1478" y="584.5"/><use href="#hm" x="1478.4" y="588.3"/><use href="#hm" x="1478.7" y="582.5"/><use href="#hm" x="1479.1" y="597.7"/><use href="#hm" x="1479.5" y="580.8"/><use href="#hm" x="1479.9" y="584.7"/><use href="#hm" x="1480.3" y="590.1"/><use href="#hm" x="1480.7" y="586.6"/><use href="#hm" x="1481.1" y="590.1"/><use href="#hm" x="1481.5" y="581.9"/><use href="#hm" x="1481.9" y="583.4"/><use href="#hm" x="1482.3" y="582.7"/><use href="#hm" x="1482.7" y="581"/><use href="#hm" x="1483.1" y="585.5"/><use href="#hm" x="1483.4" y="575.8"/><use href="#hm" x="1483.8" y="583.7"/><use href="#hm" x="1484.2" y="589.1"/><use href="#hm" x="1484.6" y="595.1"/><use href="#hm" x="1485" y="587.3"/><use href="#hm" x="1485.4" y="579"/><use href="#hm" x="1485.8" y="581"/><use href="#hm" x="1486.2" y="586.6"/><use href="#hm" x="1486.6" y="591.9"/><use href="#hm" x="1487" y="587.7"/><use href="#hm" x="1487.4" y="588.4"/><use href="#hm" x="1487.7" y="583.1"/><use href="#hm" x="1488.1" y="578.5"/><use href="#hm" x="1488.5" y="586.8"/><use href="#hm" x="1488.9" y="587.6"/><use href="#hm" x="1489.3" y="585.2"/><use href="#hm" x="1489.7" y="579.6"/><use href="#hm" x="1490.1" y="583.2"/><use href="#hm" x="1490.5" y="586"/><use href="#hm" x="1490.9" y="588.1"/><use href="#hm" x="1491.3" y="583.7"/><use href="#hm" x="1491.7" y="586.5"/><use href="#hm" x="1492.1" y="589.1"/><use href="#hm" x="1492.4" y="582.9"/><use href="#hm" x="1492.8" y="582"/><use href="#hm" x="1493.2" y="579.8"/><use href="#hm" x="1493.6" y="581.2"/><use href="#hm" x="1494" y="591.1"/><use href="#hm" x="1494.4" y="592"/><use href="#hm" x="1494.8" y="588.7"/><use href="#hm" x="1495.2" y="590.3"/><use href="#hm" x="1495.6" y="591.1"/><use href="#hm" x="1496" y="588.5"/><use href="#hm" x="1496.4" y="603.4"/><use href="#hm" x="1496.7" y="586.3"/><use href="#hm" x="1497.1" y="595.3"/><use href="#hm" x="1497.5" y="600.5"/><use href="#hm" x="1497.9" y="587.6"/><use href="#hm" x="1498.3" y="587.6"/><use href="#hm" x="1498.7" y="597.4"/><use href="#hm" x="1499.1" y="591.5"/><use href="#hm" x="1499.5" y="586.3"/><use href="#hm" x="1499.9" y="587.1"/><use href="#hm" x="1500.3" y="587.3"/><use href="#hm" x="1500.7" y="591.7"/><use href="#hm" x="1501.1" y="589.5"/><use href="#hm" x="1501.4" y="580.8"/><use href="#hm" x="1501.8" y="583.5"/><use href="#hm" x="1502.2" y="590.5"/><use href="#hm" x="1502.6" y="584.9"/><use href="#hm" x="1503" y="585.6"/><use href="#hm" x="1503.4" y="590.6"/><use href="#hm" x="1503.8" y="589.9"/><use href="#hm" x="1504.2" y="591.3"/><use href="#hm" x="1504.6" y="575.9"/><use href="#hm" x="1505" y="592.9"/><use href="#hm" x="1505.4" y="589.8"/><use href="#hm" x="1505.7" y="595.8"/><use href="#hm" x="1506.1" y="586.5"/><use href="#hm" x="1506.5" y="593.3"/><use href="#hm" x="1506.9" y="588.2"/><use href="#hm" x="1507.3" y="593"/><use href="#hm" x="1507.7" y="588.4"/><use href="#hm" x="1508.1" y="596"/><use href="#hm" x="1508.5" y="584.4"/><use href="#hm" x="1508.9" y="594.5"/><use href="#hm" x="1509.3" y="592.7"/><use href="#hm" x="1509.7" y="589.5"/><use href="#hm" x="1510.1" y="594.1"/><use href="#hm" x="1510.4" y="586.7"/><use href="#hm" x="1510.8" y="593.2"/><use href="#hm" x="1511.2" y="591.8"/><use href="#hm" x="1511.6" y="595.2"/><use href="#hm" x="1512" y="597.6"/><use href="#hm" x="1512.4" y="584.7"/><use href="#hm" x="1512.8" y="593.8"/><use href="#hm" x="1513.2" y="589"/><use href="#hm" x="1513.6" y="596.2"/><use href="#hm" x="1514" y="591.3"/><use href="#hm" x="1514.4" y="592.9"/><use href="#hm" x="1514.7" y="583.3"/><use href="#hm" x="1515.1" y="599.6"/><use href="#hm" x="1515.5" y="586.8"/><use href="#hm" x="1515.9" y="594.1"/><use href="#hm" x="1516.3" y="583.1"/><use href="#hm" x="1516.7" y="585.9"/><use href="#hm" x="1517.1" y="588"/><use href="#hm" x="1517.5" y="595.9"/><use href="#hm" x="1517.9" y="585.8"/><use href="#hm" x="1518.3" y="584.2"/><use href="#hm" x="1518.7" y="590.5"/><use href="#hm" x="1519.1" y="600.5"/><use href="#hm" x="1519.4" y="588.7"/><use href="#hm" x="1519.8" y="590.7"/><use href="#hm" x="1520.2" y="586.3"/><use href="#hm" x="1520.6" y="589.8"/><use href="#hm" x="1521" y="587.1"/><use href="#hm" x="1521.4" y="590"/><use href="#hm" x="1521.8" y="595.3"/><use href="#hm" x="1522.2" y="591.6"/><use href="#hm" x="1522.6" y="579.3"/><use href="#hm" x="1523" y="586.2"/><use href="#hm" x="1523.4" y="593.5"/><use href="#hm" x="1523.7" y="589.9"/><use href="#hm" x="1524.1" y="587.2"/><use href="#hm" x="1524.5" y="590"/><use href="#hm" x="1524.9" y="585.5"/><use href="#hm" x="1525.3" y="590.4"/><use href="#hm" x="1525.7" y="580"/><use href="#hm" x="1526.1" y="596.3"/><use href="#hm" x="1526.5" y="586.6"/><use href="#hm" x="1526.9" y="586.6"/><use href="#hm" x="1527.3" y="592.7"/><use href="#hm" x="1527.7" y="587.7"/><use href="#hm" x="1528.1" y="589.6"/><use href="#hm" x="1528.4" y="582.9"/><use href="#hm" x="1528.8" y="585.8"/><use href="#hm" x="1529.2" y="590.4"/><use href="#hm" x="1529.6" y="581.8"/><use href="#hm" x="1530" y="599.8"/><use href="#hm" x="1530.4" y="582.1"/><use href="#hm" x="1530.8" y="588.3"/><use href="#hm" x="1531.2" y="590.1"/><use href="#hm" x="1531.6" y="592.4"/><use href="#hm" x="1532" y="588.4"/><use href="#hm" x="1532.4" y="588.5"/><use href="#hm" x="1532.7" y="588.6"/><use href="#hm" x="1533.1" y="593.1"/><use href="#hm" x="1533.5" y="584.3"/><use href="#hm" x="1533.9" y="584.3"/><use href="#hm" x="1534.3" y="586.1"/><use href="#hm" x="1534.7" y="591.4"/><use href="#hm" x="1535.1" y="586.7"/><use href="#hm" x="1535.5" y="581.8"/><use href="#hm" x="1535.9" y="589.4"/><use href="#hm" x="1536.3" y="586.1"/><use href="#hm" x="1536.7" y="584.7"/><use href="#hm" x="1537.1" y="585.7"/><use href="#hm" x="1537.4" y="585.7"/><use href="#hm" x="1537.8" y="587.6"/><use href="#hm" x="1538.2" y="591.1"/><use href="#hm" x="1538.6" y="597.2"/><use href="#hm" x="1539" y="592.3"/><use href="#hm" x="1539.4" y="590"/><use href="#hm" x="1539.8" y="576.9"/><use href="#hm" x="1540.2" y="591.6"/><use href="#hm" x="1540.6" y="599.7"/><use href="#hm" x="1541" y="578.3"/><use href="#hm" x="1541.4" y="576.3"/><use href="#hm" x="1541.7" y="589.5"/><use href="#hm" x="1542.1" y="589.9"/><use href="#hm" x="1542.5" y="596.7"/><use href="#hm" x="1542.9" y="590.7"/><use href="#hm" x="1543.3" y="582.2"/><use href="#hm" x="1543.7" y="584.6"/><use href="#hm" x="1544.1" y="593.7"/><use href="#hm" x="1544.5" y="591.3"/><use href="#hm" x="1544.9" y="588.7"/><use href="#hm" x="1545.3" y="591.2"/><use href="#hm" x="1545.7" y="595.7"/><use href="#hm" x="1546.1" y="601.4"/><use href="#hm" x="1546.4" y="583.9"/><use href="#hm" x="1546.8" y="586.1"/><use href="#hm" x="1547.2" y="594.3"/><use href="#hm" x="1547.6" y="592.8"/><use href="#hm" x="1548" y="591.5"/><use href="#hm" x="1548.4" y="597.7"/><use href="#hm" x="1548.8" y="592.7"/><use href="#hm" x="1549.2" y="594.7"/><use href="#hm" x="1549.6" y="596.7"/><use href="#hm" x="1550" y="588.6"/><use href="#hm" x="1550.4" y="593.7"/><use href="#hm" x="1550.7" y="595.6"/><use href="#hm" x="1551.1" y="591.4"/><use href="#hm" x="1551.5" y="596"/><use href="#hm" x="1551.9" y="583.7"/><use href="#hm" x="1552.3" y="588.8"/><use href="#hm" x="1552.7" y="592.7"/><use href="#hm" x="1553.1" y="610.9"/><use href="#hm" x="1553.5" y="608.7"/><use href="#hm" x="1553.9" y="601"/><use href="#hm" x="1554.3" y="603.4"/><use href="#hm" x="1554.7" y="603"/><use href="#hm" x="1555.1" y="608.2"/><use href="#hm" x="1555.4" y="593.3"/><use href="#hm" x="1555.8" y="601.9"/><use href="#hm" x="1556.2" y="616.3"/><use href="#hm" x="1556.6" y="605.7"/><use href="#hm" x="1557" y="606.5"/><use href="#hm" x="1557.4" y="608"/><use href="#hm" x="1557.8" y="610.2"/><use href="#hm" x="1558.2" y="601.5"/><use href="#hm" x="1558.6" y="604.7"/><use href="#hm" x="1559" y="607.4"/><use href="#hm" x="1559.4" y="604.8"/><use href="#hm" x="1559.7" y="605.6"/><use href="#hm" x="1560.1" y="613.2"/><use href="#hm" x="1560.5" y="609.2"/><use href="#hm" x="1560.9" y="610.5"/><use href="#hm" x="1561.3" y="612.4"/><use href="#hm" x="1561.7" y="617.9"/><use href="#hm" x="1562.1" y="614"/><use href="#hm" x="1562.5" y="612.4"/><use href="#hm" x="1562.9" y="613.6"/><use href="#hm" x="1563.3" y="619.5"/><use href="#hm" x="1563.7" y="615.5"/><use href="#hm" x="1564.1" y="615.4"/><use href="#hm" x="1564.4" y="612.2"/><use href="#hm" x="1564.8" y="618.5"/><use href="#hm" x="1565.2" y="595.8"/><use href="#hm" x="1565.6" y="613.1"/><use href="#hm" x="1566" y="625.9"/><use href="#hm" x="1566.4" y="625.2"/><use href="#hm" x="1566.8" y="621.9"/><use href="#hm" x="1567.2" y="617"/><use href="#hm" x="1567.6" y="626.3"/><use href="#hm" x="1568" y="619.9"/><use href="#hm" x="1568.4" y="617.8"/><use href="#hm" x="1568.7" y="623"/><use href="#hm" x="1569.1" y="626.2"/><use href="#hm" x="1569.5" y="626.8"/><use href="#hm" x="1569.9" y="632.6"/><use href="#hm" x="1570.3" y="627.4"/><use href="#hm" x="1570.7" y="630.3"/><use href="#hm" x="1571.1" y="626.9"/><use href="#hm" x="1571.5" y="628"/><use href="#hm" x="1571.9" y="625.8"/><use href="#hm" x="1572.3" y="633.1"/><use href="#hm" x="1572.7" y="633.6"/><use href="#hm" x="1573.1" y="626.6"/><use href="#hm" x="1573.4" y="637.4"/><use href="#hm" x="1573.8" y="629.4"/><use href="#hm" x="1574.2" y="620.2"/><use href="#hm" x="1574.6" y="636.9"/><use href="#hm" x="1575" y="622.6"/><use href="#hm" x="1575.4" y="621.9"/><use href="#hm" x="1575.8" y="617.2"/><use href="#hm" x="1576.2" y="649.6"/><use href="#hm" x="1576.6" y="627.7"/><use href="#hm" x="1577" y="639.9"/><use href="#hm" x="1577.4" y="639"/><use href="#hm" x="1577.7" y="627.7"/><use href="#hm" x="1578.1" y="631.5"/><use href="#hm" x="1578.5" y="632.9"/><use href="#hm" x="1578.9" y="628.1"/><use href="#hm" x="1579.3" y="636.2"/><use href="#hm" x="1579.7" y="635.5"/><use href="#hm" x="1580.1" y="640.7"/><use href="#hm" x="1580.5" y="641.2"/><use href="#hm" x="1580.9" y="636.9"/><use href="#hm" x="1581.3" y="628"/><use href="#hm" x="1581.7" y="626.6"/><use href="#hm" x="1582.1" y="643.6"/><use href="#hm" x="1582.4" y="636.8"/><use href="#hm" x="1582.8" y="641.7"/><use href="#hm" x="1583.2" y="637.5"/><use href="#hm" x="1583.6" y="646.8"/><use href="#hm" x="1584" y="637.9"/><use href="#hm" x="1584.4" y="632.9"/><use href="#hm" x="1584.8" y="631.1"/><use href="#hm" x="1585.2" y="625.9"/><use href="#hm" x="1585.6" y="637.8"/><use href="#hm" x="1586" y="639"/><use href="#hm" x="1586.4" y="636.9"/><use href="#hm" x="1586.7" y="632"/><use href="#hm" x="1587.1" y="637"/><use href="#hm" x="1587.5" y="638.8"/><use href="#hm" x="1587.9" y="639.6"/><use href="#hm" x="1588.3" y="638"/><use href="#hm" x="1588.7" y="641.5"/><use href="#hm" x="1589.1" y="642.3"/><use href="#hm" x="1589.5" y="636.5"/><use href="#hm" x="1589.9" y="644.3"/><use href="#hm" x="1590.3" y="648.1"/><use href="#hm" x="1590.7" y="633.9"/><use href="#hm" x="1591.1" y="649.6"/><use href="#hm" x="1591.4" y="646"/><use href="#hm" x="1591.8" y="646.9"/><use href="#hm" x="1592.2" y="644.7"/><use href="#hm" x="1592.6" y="642.7"/><use href="#hm" x="1593" y="633.2"/><use href="#hm" x="1593.4" y="637.8"/><use href="#hm" x="1593.8" y="640.4"/><use href="#hm" x="1594.2" y="637.5"/><use href="#hm" x="1594.6" y="642.4"/><use href="#hm" x="1595" y="654.8"/><use href="#hm" x="1595.4" y="643.9"/><use href="#hm" x="1595.7" y="640.1"/><use href="#hm" x="1596.1" y="642.2"/><use href="#hm" x="1596.5" y="645"/><use href="#hm" x="1596.9" y="640.9"/><use href="#hm" x="1597.3" y="639.1"/><use href="#hm" x="1597.7" y="641"/><use href="#hm" x="1598.1" y="636.8"/><use href="#hm" x="1598.5" y="641"/><use href="#hm" x="1598.9" y="644.1"/><use href="#hm" x="1599.3" y="644.4"/><use href="#hm" x="1599.7" y="638.4"/><use href="#hm" x="1600.1" y="645.7"/><use href="#hm" x="1600.4" y="640.5"/><use href="#hm" x="1600.8" y="636.2"/><use href="#hm" x="1601.2" y="639.8"/><use href="#hm" x="1601.6" y="648.2"/><use href="#hm" x="1602" y="636"/><use href="#hm" x="1602.4" y="635.4"/><use href="#hm" x="1602.8" y="644.9"/><use href="#hm" x="1603.2" y="644.2"/><use href="#hm" x="1603.6" y="642.9"/><use href="#hm" x="1604" y="642.9"/><use href="#hm" x="1604.4" y="638.3"/><use href="#hm" x="1604.7" y="639.1"/><use href="#hm" x="1605.1" y="646.5"/><use href="#hm" x="1605.5" y="638.3"/><use href="#hm" x="1605.9" y="642.5"/><use href="#hm" x="1606.3" y="641.1"/><use href="#hm" x="1606.7" y="633"/><use href="#hm" x="1607.1" y="639.8"/><use href="#hm" x="1607.5" y="635.8"/><use href="#hm" x="1607.9" y="635.6"/><use href="#hm" x="1608.3" y="630.2"/><use href="#hm" x="1608.7" y="636.9"/><use href="#hm" x="1609.1" y="635.5"/><use href="#hm" x="1609.4" y="632.5"/><use href="#hm" x="1609.8" y="638.8"/><use href="#hm" x="1610.2" y="626.1"/><use href="#hm" x="1610.6" y="627.8"/><use href="#hm" x="1611" y="628.1"/><use href="#hm" x="1611.4" y="638.9"/><use href="#hm" x="1611.8" y="635.3"/><use href="#hm" x="1612.2" y="633.4"/><use href="#hm" x="1612.6" y="631.5"/><use href="#hm" x="1613" y="630.5"/><use href="#hm" x="1613.4" y="629.8"/><use href="#hm" x="1613.7" y="634.2"/><use href="#hm" x="1614.1" y="634.4"/><use href="#hm" x="1614.5" y="633.3"/><use href="#hm" x="1614.9" y="631.6"/><use href="#hm" x="1615.3" y="628.4"/><use href="#hm" x="1615.7" y="631.7"/><use href="#hm" x="1616.1" y="629"/><use href="#hm" x="1616.5" y="642.5"/><use href="#hm" x="1616.9" y="622.9"/><use href="#hm" x="1617.3" y="624.9"/><use href="#hm" x="1617.7" y="634.4"/><use href="#hm" x="1618.1" y="631.6"/><use href="#hm" x="1618.4" y="626.3"/><use href="#hm" x="1618.8" y="625.9"/><use href="#hm" x="1619.2" y="627.7"/><use href="#hm" x="1619.6" y="627.1"/><use href="#hm" x="1620" y="641.5"/><use href="#hm" x="1620.4" y="631.4"/><use href="#hm" x="1620.8" y="629.4"/><use href="#hm" x="1621.2" y="620.3"/><use href="#hm" x="1621.6" y="631.7"/><use href="#hm" x="1622" y="634"/><use href="#hm" x="1622.4" y="636.7"/><use href="#hm" x="1622.7" y="620.9"/><use href="#hm" x="1623.1" y="621.7"/><use href="#hm" x="1623.5" y="629.3"/><use href="#hm" x="1623.9" y="626.8"/><use href="#hm" x="1624.3" y="625.9"/><use href="#hm" x="1624.7" y="623.8"/><use href="#hm" x="1625.1" y="630.9"/><use href="#hm" x="1625.5" y="628"/><use href="#hm" x="1625.9" y="626.3"/><use href="#hm" x="1626.3" y="624.2"/><use href="#hm" x="1626.7" y="624.8"/><use href="#hm" x="1627.1" y="626.9"/><use href="#hm" x="1627.4" y="618.5"/><use href="#hm" x="1627.8" y="624.8"/><use href="#hm" x="1628.2" y="619.7"/><use href="#hm" x="1628.6" y="621.9"/><use href="#hm" x="1629" y="621.6"/><use href="#hm" x="1629.4" y="635.3"/><use href="#hm" x="1629.8" y="619"/><use href="#hm" x="1630.2" y="625.1"/><use href="#hm" x="1630.6" y="621.6"/><use href="#hm" x="1631" y="623"/><use href="#hm" x="1631.4" y="613"/><use href="#hm" x="1631.7" y="621.3"/><use href="#hm" x="1632.1" y="627.9"/><use href="#hm" x="1632.5" y="624.1"/><use href="#hm" x="1632.9" y="622.4"/><use href="#hm" x="1633.3" y="628.2"/><use href="#hm" x="1633.7" y="604.7"/><use href="#hm" x="1634.1" y="631.8"/><use href="#hm" x="1634.5" y="624.5"/><use href="#hm" x="1634.9" y="619.4"/><use href="#hm" x="1635.3" y="618.4"/><use href="#hm" x="1635.7" y="625.4"/><use href="#hm" x="1636.1" y="614.7"/><use href="#hm" x="1636.4" y="619.6"/><use href="#hm" x="1636.8" y="624.1"/><use href="#hm" x="1637.2" y="622.2"/><use href="#hm" x="1637.6" y="611.4"/><use href="#hm" x="1638" y="622.4"/><use href="#hm" x="1638.4" y="617"/><use href="#hm" x="1638.8" y="616.6"/><use href="#hm" x="1639.2" y="616.2"/><use href="#hm" x="1639.6" y="621"/><use href="#hm" x="1640" y="616.6"/><use href="#hm" x="1640.4" y="616.2"/><use href="#hm" x="1640.7" y="610.3"/><use href="#hm" x="1641.1" y="613.1"/><use href="#hm" x="1641.5" y="626.3"/><use href="#hm" x="1641.9" y="617.8"/><use href="#hm" x="1642.3" y="623"/><use href="#hm" x="1642.7" y="616.2"/><use href="#hm" x="1643.1" y="625"/><use href="#hm" x="1643.5" y="613.8"/><use href="#hm" x="1643.9" y="608.8"/><use href="#hm" x="1644.3" y="617.6"/><use href="#hm" x="1644.7" y="612.9"/><use href="#hm" x="1645.1" y="615.4"/><use href="#hm" x="1645.4" y="616.3"/><use href="#hm" x="1645.8" y="615.1"/><use href="#hm" x="1646.2" y="612"/><use href="#hm" x="1646.6" y="612.6"/><use href="#hm" x="1647" y="618.7"/><use href="#hm" x="1647.4" y="611.7"/><use href="#hm" x="1647.8" y="605"/><use href="#hm" x="1648.2" y="615.7"/><use href="#hm" x="1648.6" y="619.1"/><use href="#hm" x="1649" y="607"/><use href="#hm" x="1649.4" y="608.6"/><use href="#hm" x="1649.7" y="617.6"/><use href="#hm" x="1650.1" y="611.7"/><use href="#hm" x="1650.5" y="609.4"/><use href="#hm" x="1650.9" y="613.1"/><use href="#hm" x="1651.3" y="610.9"/><use href="#hm" x="1651.7" y="610.9"/><use href="#hm" x="1652.1" y="615.5"/><use href="#hm" x="1652.5" y="609.4"/><use href="#hm" x="1652.9" y="613"/><use href="#hm" x="1653.3" y="610.1"/><use href="#hm" x="1653.7" y="618"/><use href="#hm" x="1654.1" y="610.6"/><use href="#hm" x="1654.4" y="624.1"/><use href="#hm" x="1654.8" y="612.6"/><use href="#hm" x="1655.2" y="604"/><use href="#hm" x="1655.6" y="617.2"/><use href="#hm" x="1656" y="610.3"/><use href="#hm" x="1656.4" y="610"/><use href="#hm" x="1656.8" y="610.4"/><use href="#hm" x="1657.2" y="609.4"/><use href="#hm" x="1657.6" y="616.5"/><use href="#hm" x="1658" y="617"/><use href="#hm" x="1658.4" y="616.3"/><use href="#hm" x="1658.7" y="611.1"/><use href="#hm" x="1659.1" y="609.1"/><use href="#hm" x="1659.5" y="620.3"/><use href="#hm" x="1659.9" y="622.8"/><use href="#hm" x="1660.3" y="620.4"/><use href="#hm" x="1660.7" y="622.1"/><use href="#hm" x="1661.1" y="604.4"/><use href="#hm" x="1661.5" y="612.3"/><use href="#hm" x="1661.9" y="606.8"/><use href="#hm" x="1662.3" y="610.2"/><use href="#hm" x="1662.7" y="607.9"/><use href="#hm" x="1663.1" y="622.5"/><use href="#hm" x="1663.4" y="622.4"/><use href="#hm" x="1663.8" y="605.3"/><use href="#hm" x="1664.2" y="624.2"/><use href="#hm" x="1664.6" y="616.1"/><use href="#hm" x="1665" y="614.9"/><use href="#hm" x="1665.4" y="617.2"/><use href="#hm" x="1665.8" y="613.6"/><use href="#hm" x="1666.2" y="618"/><use href="#hm" x="1666.6" y="619"/><use href="#hm" x="1667" y="621.4"/><use href="#hm" x="1667.4" y="607.7"/><use href="#hm" x="1667.7" y="612.2"/><use href="#hm" x="1668.1" y="620.3"/><use href="#hm" x="1668.5" y="607.4"/><use href="#hm" x="1668.9" y="620.2"/><use href="#hm" x="1669.3" y="611.9"/><use href="#hm" x="1669.7" y="606.4"/><use href="#hm" x="1670.1" y="614.3"/><use href="#hm" x="1670.5" y="607.6"/><use href="#hm" x="1670.9" y="612.7"/><use href="#hm" x="1671.3" y="616.2"/><use href="#hm" x="1671.7" y="611.9"/><use href="#hm" x="1672.1" y="620.5"/><use href="#hm" x="1672.4" y="619.3"/><use href="#hm" x="1672.8" y="621.3"/><use href="#hm" x="1673.2" y="620.5"/><use href="#hm" x="1673.6" y="617.5"/><use href="#hm" x="1674" y="615.8"/><use href="#hm" x="1674.4" y="592"/><use href="#hm" x="1674.8" y="606.1"/><use href="#hm" x="1675.2" y="612.2"/><use href="#hm" x="1675.6" y="602"/><use href="#hm" x="1676" y="612.9"/><use href="#hm" x="1676.4" y="615.4"/><use href="#hm" x="1676.7" y="612.6"/><use href="#hm" x="1677.1" y="616.6"/><use href="#hm" x="1677.5" y="614.5"/><use href="#hm" x="1677.9" y="612.3"/><use href="#hm" x="1678.3" y="607.8"/><use href="#hm" x="1678.7" y="608.9"/><use href="#hm" x="1679.1" y="606.6"/><use href="#hm" x="1679.5" y="599.9"/><use href="#hm" x="1679.9" y="616.7"/><use href="#hm" x="1680.3" y="605.3"/><use href="#hm" x="1680.7" y="598.9"/><use href="#hm" x="1681.1" y="609.1"/><use href="#hm" x="1681.4" y="601.2"/><use href="#hm" x="1681.8" y="597"/><use href="#hm" x="1682.2" y="609.3"/><use href="#hm" x="1682.6" y="607.7"/><use href="#hm" x="1683" y="608.9"/><use href="#hm" x="1683.4" y="607.3"/><use href="#hm" x="1683.8" y="605.6"/><use href="#hm" x="1684.2" y="602.6"/><use href="#hm" x="1684.6" y="607.2"/><use href="#hm" x="1685" y="606.6"/><use href="#hm" x="1685.4" y="614.5"/><use href="#hm" x="1685.7" y="605.2"/><use href="#hm" x="1686.1" y="605.8"/><use href="#hm" x="1686.5" y="606.6"/><use href="#hm" x="1686.9" y="597.8"/><use href="#hm" x="1687.3" y="602.9"/><use href="#hm" x="1687.7" y="602.4"/><use href="#hm" x="1688.1" y="606"/><use href="#hm" x="1688.5" y="608.3"/><use href="#hm" x="1688.9" y="607.3"/><use href="#hm" x="1689.3" y="602.9"/><use href="#hm" x="1689.7" y="606.9"/><use href="#hm" x="1690.1" y="598.3"/><use href="#hm" x="1690.4" y="603.3"/><use href="#hm" x="1690.8" y="604.3"/><use href="#hm" x="1691.2" y="606.9"/><use href="#hm" x="1691.6" y="599.7"/><use href="#hm" x="1692" y="596.3"/><use href="#hm" x="1692.4" y="603.1"/><use href="#hm" x="1692.8" y="596.8"/><use href="#hm" x="1693.2" y="606.2"/><use href="#hm" x="1693.6" y="601.7"/><use href="#hm" x="1694" y="605.9"/><use href="#hm" x="1694.4" y="601.1"/><use href="#hm" x="1694.7" y="602.1"/><use href="#hm" x="1695.1" y="597.4"/><use href="#hm" x="1695.5" y="599.6"/><use href="#hm" x="1695.9" y="606.1"/><use href="#hm" x="1696.3" y="600.7"/><use href="#hm" x="1696.7" y="599.6"/><use href="#hm" x="1697.1" y="608.5"/><use href="#hm" x="1697.5" y="606.4"/><use href="#hm" x="1697.9" y="613.4"/><use href="#hm" x="1698.3" y="591.9"/><use href="#hm" x="1698.7" y="601.2"/><use href="#hm" x="1699.1" y="597.9"/><use href="#hm" x="1699.4" y="599.5"/><use href="#hm" x="1699.8" y="600.6"/><use href="#hm" x="1700.2" y="596.7"/><use href="#hm" x="1700.6" y="587.8"/><use href="#hm" x="1701" y="600.1"/><use href="#hm" x="1701.4" y="599.7"/><use href="#hm" x="1701.8" y="599.9"/><use href="#hm" x="1702.2" y="603.2"/><use href="#hm" x="1702.6" y="597.4"/><use href="#hm" x="1703" y="598.2"/><use href="#hm" x="1703.4" y="589.5"/><use href="#hm" x="1703.7" y="592.7"/><use href="#hm" x="1704.1" y="598"/><use href="#hm" x="1704.5" y="597.7"/><use href="#hm" x="1704.9" y="595.4"/><use href="#hm" x="1705.3" y="585"/><use href="#hm" x="1705.7" y="589.4"/><use href="#hm" x="1706.1" y="602.5"/><use href="#hm" x="1706.5" y="598.2"/><use href="#hm" x="1706.9" y="592.5"/><use href="#hm" x="1707.3" y="590.4"/><use href="#hm" x="1707.7" y="593.3"/><use href="#hm" x="1708.1" y="599.5"/><use href="#hm" x="1708.4" y="593.2"/><use href="#hm" x="1708.8" y="594.3"/><use href="#hm" x="1709.2" y="593.8"/><use href="#hm" x="1709.6" y="596.5"/><use href="#hm" x="1710" y="591.3"/><use href="#hm" x="1710.4" y="588"/><use href="#hm" x="1710.8" y="583.5"/><use href="#hm" x="1711.2" y="589.4"/><use href="#hm" x="1711.6" y="591.9"/><use href="#hm" x="1712" y="586.3"/><use href="#hm" x="1712.4" y="592.7"/><use href="#hm" x="1712.7" y="583.5"/><use href="#hm" x="1713.1" y="595.5"/><use href="#hm" x="1713.5" y="583.8"/><use href="#hm" x="1713.9" y="586.9"/><use href="#hm" x="1714.3" y="588.8"/><use href="#hm" x="1714.7" y="597.3"/><use href="#hm" x="1715.1" y="589.8"/><use href="#hm" x="1715.5" y="591.2"/><use href="#hm" x="1715.9" y="592.4"/><use href="#hm" x="1716.3" y="596.9"/><use href="#hm" x="1716.7" y="591.6"/><use href="#hm" x="1717.1" y="601.1"/><use href="#hm" x="1717.4" y="582.7"/><use href="#hm" x="1717.8" y="581.5"/><use href="#hm" x="1718.2" y="589.4"/><use href="#hm" x="1718.6" y="582.4"/><use href="#hm" x="1719" y="578.6"/><use href="#hm" x="1719.4" y="584.5"/><use href="#hm" x="1719.8" y="582.4"/><use href="#hm" x="1720.2" y="584.5"/><use href="#hm" x="1720.6" y="576.8"/><use href="#hm" x="1721" y="568.1"/><use href="#hm" x="1721.4" y="590"/><use href="#hm" x="1721.7" y="590.2"/><use href="#hm" x="1722.1" y="584.1"/><use href="#hm" x="1722.5" y="579.9"/><use href="#hm" x="1722.9" y="578"/><use href="#hm" x="1723.3" y="585"/><use href="#hm" x="1723.7" y="579"/><use href="#hm" x="1724.1" y="582.7"/><use href="#hm" x="1724.5" y="580.6"/><use href="#hm" x="1724.9" y="586.1"/><use href="#hm" x="1725.3" y="585.6"/><use href="#hm" x="1725.7" y="570.6"/><use href="#hm" x="1726.1" y="583.4"/><use href="#hm" x="1726.4" y="574.9"/><use href="#hm" x="1726.8" y="584.5"/><use href="#hm" x="1727.2" y="587.8"/><use href="#hm" x="1727.6" y="582.1"/><use href="#hm" x="1728" y="580.1"/><use href="#hm" x="1728.4" y="581.9"/><use href="#hm" x="1728.8" y="574.6"/><use href="#hm" x="1729.2" y="579.1"/><use href="#hm" x="1729.6" y="578.6"/><use href="#hm" x="1730" y="594.9"/><use href="#hm" x="1730.4" y="578.6"/><use href="#hm" x="1730.7" y="575"/><use href="#hm" x="1731.1" y="572.5"/><use href="#hm" x="1731.5" y="583.8"/><use href="#hm" x="1731.9" y="587.4"/><use href="#hm" x="1732.3" y="579.5"/><use href="#hm" x="1732.7" y="571.1"/><use href="#hm" x="1733.1" y="583.9"/><use href="#hm" x="1733.5" y="576"/><use href="#hm" x="1733.9" y="577.4"/><use href="#hm" x="1734.3" y="579.1"/><use href="#hm" x="1734.7" y="578.4"/><use href="#hm" x="1735.1" y="583.5"/><use href="#hm" x="1735.4" y="573.6"/><use href="#hm" x="1735.8" y="576.4"/><use href="#hm" x="1736.2" y="570"/><use href="#hm" x="1736.6" y="571.4"/><use href="#hm" x="1737" y="584.6"/><use href="#hm" x="1737.4" y="568.7"/><use href="#hm" x="1737.8" y="567.9"/><use href="#hm" x="1738.2" y="568.1"/><use href="#hm" x="1738.6" y="574.3"/><use href="#hm" x="1739" y="579.9"/><use href="#hm" x="1739.4" y="580.7"/><use href="#hm" x="1739.7" y="570.4"/><use href="#hm" x="1740.1" y="574.1"/><use href="#hm" x="1740.5" y="576.6"/><use href="#hm" x="1740.9" y="572.2"/><use href="#hm" x="1741.3" y="575.8"/><use href="#hm" x="1741.7" y="562.9"/><use href="#hm" x="1742.1" y="571"/><use href="#hm" x="1742.5" y="569.9"/><use href="#hm" x="1742.9" y="573.9"/><use href="#hm" x="1743.3" y="575.1"/><use href="#hm" x="1743.7" y="574.7"/><use href="#hm" x="1744.1" y="565.7"/><use href="#hm" x="1744.4" y="569.1"/><use href="#hm" x="1744.8" y="570.8"/><use href="#hm" x="1745.2" y="575.8"/><use href="#hm" x="1745.6" y="572.9"/><use href="#hm" x="1248.5" y="700.6"/><use href="#hm" x="1249.7" y="683.8"/><use href="#hm" x="1249.7" y="675"/><use href="#hm" x="1250.6" y="669.7"/><use href="#hm" x="1250.6" y="653.9"/><use href="#hm" x="1251.4" y="639"/><use href="#hm" x="1255.8" y="622.2"/><use href="#hm" x="1257.6" y="608.2"/><use href="#hm" x="1254.1" y="595.8"/><use href="#hm" x="1255.8" y="583.5"/><use href="#hm" x="1257.3" y="568.8"/><use href="#hm" x="1255.5" y="558.3"/><use href="#hm" x="1257.8" y="566.5"/><use href="#hm" x="1256.7" y="579.3"/><use href="#hm" x="1250.3" y="594.3"/><use href="#hm" x="1252" y="610"/><use href="#hm" x="1249" y="615"/><use href="#hm" x="1253" y="630"/><use href="#hm" x="1248" y="660"/><use href="#hm" x="1249" y="690"/><use href="#hm" x="1268.2" y="583.5"/><use href="#hm" x="1272.6" y="602.9"/><use href="#hm" x="1277" y="617.8"/><use href="#hm" x="1276.1" y="688.2"/><use href="#hm" x="1269.5" y="567.6"/><use href="#hm" x="1268.5" y="582.5"/><use href="#hm" x="1277" y="441.7"/><use href="#hm" x="1272.7" y="456.7"/><use href="#hm" x="1278.1" y="469.5"/><use href="#hm" x="1279.1" y="479.1"/><use href="#hm" x="1283.4" y="491.9"/><use href="#hm" x="1272.7" y="491.9"/><use href="#hm" x="1268.5" y="511"/><use href="#hm" x="1270.6" y="523.9"/><use href="#hm" x="1277" y="536.7"/><use href="#hm" x="1270.6" y="549.5"/><use href="#hm" x="1257.8" y="534.5"/><use href="#hm" x="1262" y="520"/><use href="#hm" x="1266" y="540"/><use href="#hm" x="1274" y="545"/><use href="#hm" x="1260" y="545"/><use href="#hm" x="1276" y="528"/><use href="#hm" x="1334.6" y="517.9"/><use href="#hm" x="1338.1" y="517.2"/><use href="#hm" x="1378.6" y="517.9"/><use href="#hm" x="1392.6" y="517.9"/><use href="#hm" x="1396.8" y="529.1"/><use href="#hm" x="1334.6" y="633.9"/><use href="#hm" x="1349.7" y="631.1"/><use href="#hm" x="1349.7" y="607.5"/><use href="#hm" x="1349.7" y="591"/><use href="#hm" x="1346.9" y="581.1"/><use href="#hm" x="1375.8" y="641.6"/><use href="#hm" x="1392.6" y="664.8"/><use href="#hm" x="1389.1" y="621.6"/><use href="#hm" x="1399.7" y="614.5"/><use href="#hm" x="1392.6" y="609.3"/><use href="#hm" x="1407.4" y="598.7"/><use href="#hm" x="1430.6" y="601.5"/><use href="#hm" x="1376.8" y="586.4"/><use href="#hm" x="1378.6" y="598.7"/><use href="#hm" x="1389.1" y="593.4"/><use href="#hm" x="1385.6" y="539"/><use href="#hm" x="1362.8" y="539"/><use href="#hm" x="1311.8" y="523.1"/><use href="#hm" x="1310" y="519"/><use href="#hm" x="1459.9" y="548.8"/><use href="#hm" x="1459.9" y="560"/><use href="#hm" x="1549.5" y="563.6"/><use href="#hm" x="1549.5" y="574.1"/><use href="#hm" x="1431.8" y="601.5"/><use href="#hm" x="1449.3" y="602.2"/><use href="#hm" x="1466.9" y="598.7"/><use href="#hm" x="1602.2" y="677.8"/><use href="#hm" x="1602.2" y="665.5"/><use href="#hm" x="1598" y="608.6"/><use href="#hm" x="1618" y="604"/><use href="#hm" x="1739.3" y="523.2"/><use href="#hm" x="1739.3" y="535.5"/><use href="#hm" x="1711.9" y="548.8"/><use href="#hm" x="1711.9" y="560.1"/><use href="#hm" x="1653.2" y="580.5"/><use href="#hm" x="1647.9" y="581.2"/><use href="#hm" x="1633.8" y="591"/><use href="#hm" x="1732.3" y="632.2"/><use href="#hm" x="1711.9" y="671.9"/><use href="#hm" x="1632.1" y="655.7"/><use href="#hm" x="1598.7" y="609.3"/><use href="#hm" x="1654.9" y="630.4"/>
</g>
<text x="1590" y="542.5" font-size="23" text-anchor="start" font-weight="bold">0 °C</text>
<text x="1634" y="686" font-size="23" text-anchor="start" font-weight="bold">1 A g<tspan font-size="16.5" dy="-11">-1</tspan></text>
</svg></body></html>
